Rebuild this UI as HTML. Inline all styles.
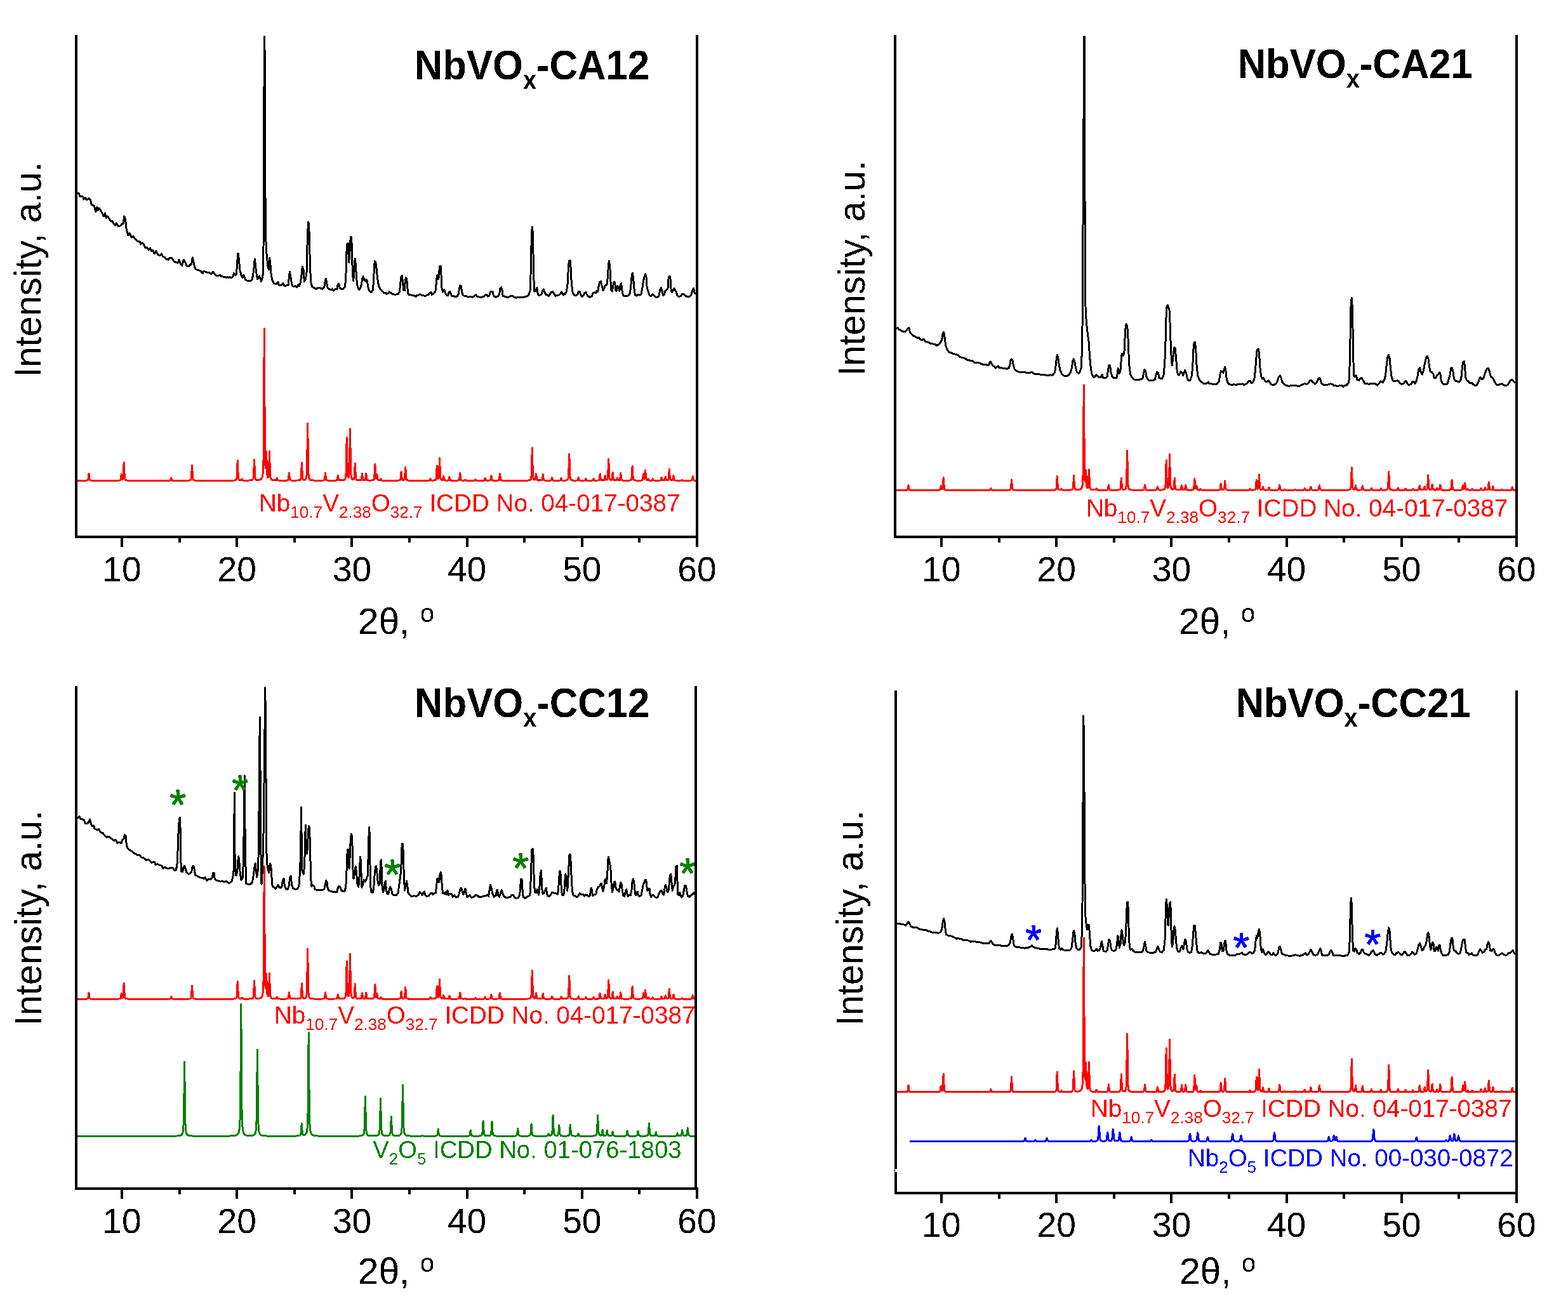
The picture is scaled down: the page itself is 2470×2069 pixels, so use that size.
<!DOCTYPE html>
<html lang="en"><head><meta charset="utf-8"><title>XRD patterns of NbVOx samples</title>
<style>html,body{margin:0;padding:0;background:#fff}svg{display:block}</style></head>
<body>
<svg width="2470" height="2069" viewBox="0 0 2470 2069" font-family="'Liberation Sans', sans-serif" fill="#000">
<defs><filter id="bin" x="0" y="0" width="100%" height="100%" filterUnits="userSpaceOnUse" primitiveUnits="userSpaceOnUse" color-interpolation-filters="sRGB"><feComponentTransfer><feFuncA type="discrete" tableValues="0 0 1 1"/></feComponentTransfer></filter></defs>
<rect width="2470" height="2069" fill="#fff"/>
<clipPath id="c1"><rect x="118" y="56.5" width="982" height="789"/></clipPath>
<g clip-path="url(#c1)" shape-rendering="crispEdges">
<polyline points="120.0,304.7 121.7,304.7 124.2,304.7 125.8,309.2 130.8,310.0 131.7,314.2 134.2,311.3 135.8,314.2 138.3,314.2 140.0,312.5 142.5,315.0 144.2,322.5 148.3,324.2 150.8,333.3 153.0,326.3 154.2,331.7 156.3,328.3 159.2,332.5 161.7,337.5 163.3,340.8 165.5,335.8 167.5,343.3 169.7,340.8 171.7,344.2 174.2,348.3 176.7,348.3 179.2,352.5 181.7,355.0 183.3,351.7 186.7,356.7 190.0,355.8 191.7,353.3 194.2,352.5 195.8,340.8 197.5,345.0 199.2,361.7 201.7,370.8 204.2,367.5 207.5,374.2 210.0,372.5 213.3,376.7 217.5,380.8 220.0,380.0 221.7,385.0 224.2,382.5 226.7,385.8 229.2,390.8 231.7,390.0 234.2,393.3 236.7,390.8 238.3,395.8 240.8,394.2 243.3,400.0 245.8,395.8 249.2,401.7 251.7,402.5 254.2,400.0 256.7,404.2 259.2,405.0 261.7,408.3 265.0,409.2 266.7,406.7 270.8,406.7 273.3,410.8 276.7,413.3 280.0,414.2 282.2,409.2 284.2,415.8 286.7,418.3 289.2,409.2 291.7,413.3 294.2,419.2 297.5,420.0 300.0,416.7 301.7,415.8 303.3,405.8 305.3,415.0 307.5,423.3 310.0,425.0 313.3,425.8 316.7,427.5 319.2,430.8 320.8,427.5 324.2,428.3 326.7,430.0 329.2,429.2 332.5,431.7 335.8,428.3 338.3,432.5 342.5,435.0 346.7,433.3 348.3,435.8 354.2,436.3 355.8,437.5 358.3,436.7 360.0,437.5 361.7,436.3 364.2,438.0 367.5,435.0 368.3,430.8 370.8,433.3 372.5,431.7 373.8,411.7 375.0,399.2 376.3,408.3 377.8,425.0 380.0,433.3 382.0,437.5 383.8,433.3 386.7,440.8 390.0,442.5 394.2,443.0 397.5,440.0 399.7,425.0 401.3,408.0 402.8,421.7 404.5,435.0 405.8,440.0 408.3,435.0 410.0,438.3 411.3,443.3 413.3,438.3 414.5,430.0 415.2,373.0 415.8,205.0 416.3,50.0 416.7,50.0 417.3,106.0 417.7,250.0 418.3,373.0 419.2,383.3 420.0,400.0 421.7,418.3 423.3,425.0 424.7,406.7 425.8,415.0 427.2,433.3 429.2,442.5 431.7,446.7 435.0,447.5 438.0,444.2 439.2,449.2 442.5,449.7 445.8,446.7 448.3,450.8 450.8,450.0 454.2,449.2 455.3,436.7 456.3,428.3 458.0,436.7 459.7,448.3 461.7,451.3 465.0,450.8 467.5,452.5 470.0,448.3 471.3,450.8 473.3,445.0 475.0,433.3 476.3,420.0 478.0,425.0 479.3,443.3 481.3,440.0 483.0,430.0 483.8,391.7 484.7,366.7 485.5,350.0 486.7,353.3 487.5,383.3 488.7,425.0 489.7,445.0 491.7,451.7 494.2,453.3 498.3,455.3 502.0,453.3 505.0,454.2 508.3,455.3 510.8,452.5 512.2,443.3 513.5,439.2 515.0,448.3 516.3,454.2 519.2,455.8 521.7,457.0 523.3,455.0 525.3,458.0 528.3,455.0 530.8,455.8 532.0,449.2 533.7,447.0 535.3,453.3 537.5,455.3 540.8,455.0 543.3,452.5 544.7,440.0 545.7,408.3 546.3,385.0 548.0,383.3 548.8,396.7 549.7,413.3 550.8,400.0 551.7,381.7 552.5,373.3 553.8,375.0 554.7,408.3 555.5,433.3 556.7,442.5 557.7,430.0 558.5,415.0 559.3,407.5 560.3,416.7 561.3,433.3 562.5,448.3 564.2,454.2 565.8,456.7 568.0,453.3 569.7,446.7 570.8,438.3 572.2,435.8 573.8,440.8 575.5,443.3 577.0,440.0 578.3,442.5 579.7,451.7 581.3,457.5 583.0,460.0 585.0,460.3 587.0,457.5 588.3,446.7 589.3,425.0 590.2,411.7 591.7,412.5 593.0,423.3 594.2,435.0 595.8,446.7 597.5,453.3 600.0,456.7 602.5,459.2 605.0,462.0 607.5,461.3 609.2,463.3 611.7,461.7 613.3,459.7 615.8,461.7 618.3,463.7 622.5,464.2 626.7,463.7 629.2,460.0 630.5,450.0 631.7,436.7 633.3,434.2 634.7,446.7 635.8,457.5 637.2,458.0 638.0,446.7 639.2,437.5 640.8,440.0 641.7,451.7 642.8,462.5 644.2,465.0 646.7,464.2 649.2,465.8 652.5,465.8 655.0,467.5 656.7,465.0 659.2,465.0 661.7,463.7 664.2,465.3 667.5,465.8 670.0,466.7 672.5,465.0 675.0,464.2 676.7,461.7 679.2,460.3 680.3,464.2 682.5,463.3 684.2,460.8 685.8,460.0 687.2,446.7 688.3,435.0 689.5,433.3 690.8,440.0 692.0,426.7 693.0,419.2 694.2,420.0 695.0,433.3 695.8,453.3 697.5,460.0 699.7,456.7 701.7,461.7 703.3,465.0 705.8,465.3 707.2,460.8 708.7,459.7 710.3,463.3 711.7,466.3 715.0,466.7 717.5,468.0 720.0,467.0 721.7,465.0 723.3,456.7 724.7,450.0 726.3,450.8 727.5,460.0 729.2,465.0 731.7,466.3 735.0,466.7 737.5,468.3 740.0,467.0 744.2,468.3 747.5,466.3 749.7,464.7 751.7,467.5 755.0,468.0 758.3,468.3 761.7,467.5 764.2,465.0 766.7,464.2 768.7,467.0 770.8,465.8 772.2,460.0 774.2,459.2 776.3,459.7 777.5,466.3 780.8,468.3 785.0,466.7 786.7,463.3 788.0,454.2 789.7,452.5 791.2,458.3 792.2,466.3 795.0,467.2 798.3,468.3 801.7,468.0 804.2,466.7 807.0,466.3 810.0,468.3 813.3,469.2 816.7,468.0 820.0,468.0 824.2,468.3 827.5,467.5 830.8,466.7 833.3,463.3 835.0,458.3 836.0,433.3 836.7,400.0 837.5,366.7 838.3,357.5 839.3,366.7 840.0,400.0 840.8,438.3 842.0,460.0 843.3,456.7 844.5,458.3 845.8,453.3 847.0,461.7 848.3,465.0 850.8,465.0 853.3,463.3 854.7,457.5 856.3,455.8 858.0,460.8 860.0,464.2 862.5,465.0 864.2,466.3 866.3,464.2 868.0,460.3 870.8,459.7 873.0,463.3 874.7,466.3 877.5,465.0 880.0,465.0 882.5,463.3 884.2,460.0 885.8,462.0 887.5,465.0 890.0,463.3 892.5,459.2 894.2,446.7 895.3,423.3 896.3,411.7 898.0,410.3 899.2,423.3 900.3,446.7 902.0,460.0 904.2,465.0 906.7,465.8 909.7,464.2 911.3,459.7 913.0,459.2 914.7,464.2 916.7,467.5 919.2,465.8 920.8,461.7 923.0,460.8 925.0,465.0 926.7,467.5 929.2,468.3 932.5,466.7 934.2,461.3 936.7,460.8 938.3,461.7 940.0,458.3 941.7,459.2 943.3,450.0 944.7,444.2 946.3,443.3 948.0,450.0 950.0,458.0 952.0,453.3 953.3,450.0 955.8,449.2 957.5,436.7 958.3,418.3 959.5,411.3 960.8,420.0 961.7,440.0 963.0,457.5 964.3,459.2 965.8,450.0 967.2,444.2 968.7,445.0 969.7,457.5 971.3,458.3 972.8,450.8 974.5,453.3 975.8,458.3 977.2,448.3 978.7,446.7 979.7,456.7 981.3,464.2 983.3,466.7 986.7,466.3 990.0,465.8 992.5,461.7 994.2,446.7 995.3,433.3 996.3,430.3 997.7,438.3 998.8,453.3 1000.3,464.2 1002.5,466.3 1005.0,464.2 1007.5,465.3 1010.0,463.3 1012.0,453.3 1013.7,441.7 1015.3,435.0 1016.7,432.0 1018.0,436.7 1019.2,453.3 1021.3,460.0 1023.3,465.8 1025.8,466.3 1028.0,463.0 1030.0,465.8 1033.0,468.0 1035.8,468.0 1038.0,466.3 1039.7,457.5 1041.3,453.3 1043.0,458.3 1044.7,465.3 1046.7,463.3 1048.0,458.0 1050.0,456.7 1052.0,454.2 1053.0,440.0 1054.3,435.3 1055.8,435.8 1056.7,453.3 1058.3,460.8 1060.3,457.5 1062.0,454.2 1063.7,458.0 1065.3,460.0 1067.0,465.8 1069.2,467.5 1072.5,466.7 1074.2,463.7 1076.7,463.7 1079.2,465.8 1082.5,467.5 1085.8,467.5 1088.7,465.0 1090.8,457.5 1092.5,454.2 1094.2,461.7 1096.7,463.3 1098.0,463.3" fill="none" stroke="#000" stroke-width="3" stroke-linejoin="round" />
<polyline points="120.0,757.3 133.4,757.2 135.2,757.2 136.3,757.1 136.7,757.1 137.0,757.0 137.4,756.9 137.8,756.8 138.1,756.6 138.5,756.2 138.8,755.3 139.2,753.3 139.6,749.7 139.9,746.6 140.0,746.5 140.3,748.3 140.7,752.2 141.0,754.8 141.4,756.0 141.7,756.5 142.1,756.8 142.5,756.9 142.8,757.0 143.2,757.1 143.9,757.1 145.0,757.2 147.2,757.2 184.5,757.2 186.3,757.1 187.4,757.0 187.8,757.0 188.1,756.9 188.5,756.9 188.9,756.8 189.2,756.6 189.6,756.4 189.9,755.9 190.3,754.6 190.7,752.2 191.0,748.8 191.3,747.7 191.4,747.9 191.8,750.8 192.1,753.6 192.5,755.0 192.8,755.4 193.2,755.3 193.6,754.7 193.9,753.3 194.3,749.7 194.7,742.3 195.0,732.2 195.3,728.9 195.4,729.7 195.7,738.8 196.1,747.7 196.5,752.6 196.8,754.7 197.2,755.6 197.6,756.0 197.9,756.3 198.3,756.5 198.6,756.7 199.0,756.8 199.4,756.9 199.7,756.9 200.1,757.0 200.8,757.1 201.5,757.1 202.6,757.2 204.8,757.2 210.2,757.3 266.4,757.2 267.1,757.2 267.5,757.1 267.9,757.0 268.2,756.9 268.6,756.5 268.9,755.7 269.3,754.3 269.7,753.1 269.7,753.1 270.0,753.8 270.4,755.3 270.8,756.3 271.1,756.8 271.5,757.0 271.8,757.1 272.2,757.1 272.9,757.2 274.7,757.3 295.0,757.2 296.5,757.1 297.6,757.1 298.3,757.0 298.7,756.9 299.0,756.8 299.4,756.7 299.8,756.6 300.1,756.4 300.5,756.1 300.8,755.5 301.2,754.2 301.6,751.2 301.9,744.9 302.3,736.4 302.5,733.6 302.6,734.3 303.0,741.9 303.4,749.4 303.7,753.4 304.1,755.2 304.5,755.9 304.8,756.3 305.2,756.5 305.5,756.7 305.9,756.8 306.3,756.9 306.6,757.0 307.0,757.0 307.7,757.1 308.8,757.2 310.6,757.2 315.0,757.3 363.2,757.2 366.1,757.2 367.5,757.1 368.6,757.0 369.3,757.0 369.7,756.9 370.1,756.8 370.4,756.8 370.8,756.7 371.1,756.5 371.5,756.3 371.9,756.0 372.2,755.6 372.6,754.8 373.0,753.2 373.3,749.1 373.7,740.8 374.0,729.6 374.3,725.9 374.4,726.9 374.8,736.9 375.1,746.8 375.5,752.1 375.9,754.4 376.2,755.4 376.6,755.9 376.9,756.2 377.3,756.4 377.7,756.6 378.0,756.7 378.4,756.7 379.1,756.8 379.8,756.8 380.2,756.6 380.6,756.2 380.9,755.5 381.3,754.9 381.4,754.9 381.7,755.2 382.0,756.0 382.4,756.6 382.7,756.8 383.1,757.0 383.5,757.0 384.2,757.1 393.2,757.0 394.3,756.9 395.1,756.9 395.4,756.8 395.8,756.8 396.1,756.7 396.5,756.6 396.9,756.5 397.2,756.4 397.6,756.2 398.0,756.0 398.3,755.6 398.7,755.0 399.0,753.9 399.4,751.2 399.8,744.9 400.1,734.1 400.5,724.8 400.6,724.5 400.9,729.9 401.2,741.5 401.6,749.4 401.9,753.1 402.3,754.6 402.7,755.3 403.0,755.7 403.4,756.0 403.8,756.1 404.1,756.2 404.5,756.3 405.2,756.4 407.4,756.3 407.7,756.3 408.1,756.2 408.5,756.1 408.8,756.0 409.2,755.9 409.6,755.8 409.9,755.7 410.3,755.5 410.6,755.3 411.0,755.0 411.4,754.7 411.7,754.3 412.1,753.8 412.5,753.2 412.8,752.4 413.2,751.3 413.5,749.8 413.9,747.7 414.3,744.3 414.6,738.5 415.0,725.8 415.4,694.9 415.7,631.4 416.1,545.9 416.3,517.9 416.4,524.9 416.8,600.9 417.2,675.8 417.5,716.1 417.9,732.5 418.3,737.7 418.6,736.4 419.0,728.2 419.3,715.5 419.6,711.6 419.7,713.1 420.1,726.7 420.4,739.9 420.8,747.2 421.2,750.3 421.5,751.6 421.9,752.2 422.2,752.3 422.6,752.0 423.0,750.8 423.3,747.3 423.7,738.9 424.1,724.1 424.4,711.4 424.5,711.0 424.8,718.6 425.1,734.8 425.5,745.9 425.9,751.1 426.2,753.2 426.6,754.3 427.0,754.9 427.3,755.3 427.7,755.7 428.0,755.9 428.4,756.1 428.8,756.2 429.1,756.3 429.5,756.4 429.9,756.5 430.2,756.6 430.9,756.6 431.7,756.7 432.8,756.8 434.2,756.8 434.6,756.7 434.9,756.5 435.3,756.1 435.7,755.3 436.0,754.1 436.3,753.7 436.4,753.8 436.7,754.9 437.1,755.9 437.5,756.5 437.8,756.8 438.2,756.9 438.5,756.9 439.3,757.0 440.4,757.1 442.9,757.1 450.9,757.1 451.6,757.0 452.0,757.0 452.3,756.9 452.7,756.8 453.0,756.7 453.4,756.6 453.8,756.3 454.1,755.7 454.5,754.2 454.9,751.1 455.2,746.9 455.5,745.5 455.6,745.8 455.9,749.6 456.3,753.3 456.7,755.3 457.0,756.1 457.4,756.5 457.8,756.7 458.1,756.8 458.5,756.9 458.8,757.0 459.6,757.0 460.7,757.1 468.6,757.0 469.7,757.0 470.4,756.9 470.8,756.9 471.2,756.8 471.5,756.7 471.9,756.6 472.3,756.5 472.6,756.3 473.0,756.1 473.3,755.7 473.7,755.0 474.1,753.5 474.4,750.0 474.8,742.6 475.2,732.8 475.4,729.5 475.5,730.3 475.9,739.1 476.2,747.8 476.6,752.5 477.0,754.4 477.3,755.3 477.7,755.7 478.1,755.9 478.4,756.0 478.8,756.1 479.5,756.1 479.9,756.0 480.2,755.9 480.6,755.8 481.0,755.5 481.3,755.2 481.7,754.8 482.0,754.1 482.4,753.1 482.8,751.5 483.1,748.4 483.5,740.9 483.8,723.6 484.2,693.6 484.6,668.0 484.6,667.2 484.9,682.2 485.3,714.4 485.7,736.3 486.0,746.6 486.4,750.8 486.7,752.8 487.1,753.9 487.5,754.7 487.8,755.2 488.2,755.6 488.6,755.9 488.9,756.1 489.3,756.3 489.6,756.4 490.0,756.5 490.4,756.6 490.7,756.7 491.1,756.7 491.5,756.8 492.2,756.9 492.9,756.9 494.0,757.0 495.4,757.1 498.0,757.1 508.1,757.1 508.9,757.0 509.2,757.0 509.6,756.9 509.9,756.8 510.3,756.7 510.7,756.5 511.0,756.1 511.4,755.1 511.8,752.9 512.1,749.0 512.5,745.6 512.5,745.5 512.8,747.5 513.2,751.7 513.6,754.5 513.9,755.8 514.3,756.4 514.7,756.6 515.0,756.8 515.4,756.9 515.7,757.0 516.5,757.0 517.6,757.1 520.1,757.2 527.3,757.1 528.8,757.0 529.5,757.0 529.9,756.9 530.2,756.8 530.6,756.7 531.0,756.4 531.3,755.7 531.7,754.2 532.0,751.6 532.4,749.4 532.5,749.3 532.8,750.6 533.1,753.4 533.5,755.3 533.9,756.2 534.2,756.5 534.6,756.7 534.9,756.8 535.3,756.8 536.0,756.9 538.6,756.8 539.3,756.8 539.7,756.7 540.0,756.7 540.4,756.6 540.7,756.5 541.1,756.5 541.5,756.4 541.8,756.2 542.2,756.1 542.6,755.8 542.9,755.6 543.3,755.2 543.6,754.7 544.0,753.9 544.4,752.7 544.7,750.3 545.1,744.6 545.5,731.6 545.8,709.1 546.2,689.8 546.2,689.2 546.5,700.3 546.9,724.3 547.3,740.5 547.6,748.0 548.0,750.9 548.4,752.0 548.7,752.3 549.1,752.2 549.4,751.5 549.8,749.8 550.2,745.7 550.5,735.4 550.9,714.1 551.3,685.3 551.5,675.9 551.6,678.3 552.0,704.2 552.3,729.7 552.7,743.6 553.1,749.5 553.4,752.0 553.8,753.3 554.2,754.2 554.5,754.7 554.9,755.1 555.2,755.3 555.6,755.5 556.0,755.6 556.3,755.6 556.7,755.5 557.1,755.3 557.4,754.9 557.8,754.1 558.1,751.9 558.5,746.8 558.9,737.9 559.2,730.4 559.3,730.1 559.6,734.6 560.0,744.2 560.3,750.7 560.7,753.8 561.0,755.0 561.4,755.6 561.8,756.0 562.1,756.2 562.5,756.4 562.9,756.5 563.2,756.6 563.6,756.7 563.9,756.7 564.7,756.8 567.6,756.8 567.9,756.7 568.3,756.6 568.7,756.4 569.0,756.0 569.4,755.1 569.7,753.1 570.1,749.5 570.5,746.5 570.5,746.4 570.8,748.2 571.2,752.0 571.6,754.6 571.9,755.8 572.3,756.3 572.6,756.5 573.0,756.6 573.4,756.6 574.1,756.6 574.4,756.5 574.8,756.4 575.2,756.0 575.5,755.1 575.9,753.0 576.3,749.3 576.6,746.2 576.7,746.1 577.0,748.0 577.3,751.9 577.7,754.6 578.1,755.8 578.4,756.4 578.8,756.6 579.2,756.7 579.5,756.8 579.9,756.9 580.6,757.0 581.7,757.0 585.3,757.0 586.0,756.9 586.4,756.9 586.8,756.8 587.1,756.7 587.5,756.6 587.9,756.5 588.2,756.3 588.6,756.0 588.9,755.5 589.3,754.6 589.7,752.5 590.0,747.5 590.4,738.9 590.8,731.5 590.8,731.3 591.1,735.5 591.5,744.6 591.8,750.7 592.2,753.3 592.6,753.7 592.9,752.4 593.3,749.6 593.7,747.1 593.7,747.0 594.0,748.7 594.4,752.2 594.7,754.6 595.1,755.8 595.5,756.3 595.8,756.5 596.2,756.7 596.6,756.8 596.9,756.8 597.6,756.9 598.4,756.9 598.7,756.8 599.1,756.6 599.5,756.2 599.8,755.4 600.2,754.7 600.2,754.6 600.5,755.1 600.9,756.0 601.3,756.6 601.6,756.9 602.0,757.0 602.4,757.1 603.1,757.1 604.5,757.2 608.5,757.2 625.5,757.2 627.0,757.1 628.1,757.0 628.4,757.0 628.8,756.9 629.2,756.9 629.5,756.8 629.9,756.6 630.3,756.3 630.6,755.9 631.0,754.7 631.3,752.0 631.7,747.3 632.1,743.3 632.1,743.2 632.4,745.5 632.8,750.5 633.2,753.9 633.5,755.4 633.9,756.1 634.2,756.3 634.6,756.5 635.0,756.5 635.7,756.5 636.1,756.4 636.4,756.2 636.8,755.8 637.1,755.1 637.5,753.4 637.9,749.4 638.2,742.5 638.6,736.6 638.7,736.4 639.0,739.9 639.3,747.3 639.7,752.4 640.0,754.8 640.4,755.7 640.8,756.2 641.1,756.5 641.5,756.7 641.9,756.8 642.2,756.9 642.6,756.9 642.9,757.0 643.7,757.1 644.8,757.1 646.2,757.2 649.8,757.2 674.5,757.2 675.6,757.1 675.9,757.1 676.3,757.0 676.6,756.9 677.0,756.5 677.4,755.7 677.7,754.7 678.0,754.4 678.1,754.5 678.5,755.4 678.8,756.2 679.2,756.7 679.5,756.9 679.9,757.0 680.6,757.0 682.8,757.0 683.5,756.9 683.9,756.9 684.3,756.8 684.6,756.7 685.0,756.6 685.3,756.5 685.7,756.3 686.1,756.1 686.4,755.6 686.8,754.8 687.2,752.9 687.5,748.5 687.9,741.0 688.2,734.5 688.3,734.3 688.6,738.0 689.0,745.9 689.3,751.2 689.7,753.6 690.1,754.3 690.4,754.3 690.8,753.7 691.1,752.1 691.5,747.7 691.9,738.5 692.2,726.0 692.5,721.9 692.6,723.0 693.0,734.2 693.3,745.3 693.7,751.3 694.0,753.9 694.4,755.0 694.8,755.6 695.1,755.9 695.5,756.1 695.9,756.3 696.2,756.4 696.6,756.4 696.9,756.3 697.3,756.0 697.7,755.2 698.0,753.4 698.4,751.1 698.6,750.3 698.8,750.5 699.1,752.7 699.5,754.8 699.8,756.0 700.2,756.5 700.6,756.7 700.9,756.8 701.3,756.9 701.7,757.0 702.4,757.0 705.3,757.0 705.6,756.9 706.0,756.8 706.4,756.6 706.7,756.2 707.1,755.1 707.5,753.2 707.8,751.6 707.9,751.5 708.2,752.5 708.5,754.5 708.9,755.9 709.3,756.6 709.6,756.8 710.0,756.9 710.3,757.0 711.1,757.1 712.2,757.2 720.5,757.1 721.2,757.0 721.6,757.0 721.9,756.9 722.3,756.8 722.7,756.7 723.0,756.4 723.4,755.8 723.8,754.2 724.1,751.1 724.5,746.9 724.7,745.6 724.8,745.9 725.2,749.7 725.6,753.4 725.9,755.4 726.3,756.2 726.7,756.6 727.0,756.8 727.4,756.9 727.7,757.0 728.1,757.0 728.8,757.1 730.3,757.2 731.4,757.1 731.7,757.0 732.1,756.8 732.5,756.4 732.8,756.1 732.9,756.0 733.2,756.2 733.5,756.7 733.9,757.0 734.3,757.1 734.6,757.2 735.7,757.2 747.3,757.2 747.7,757.1 748.0,757.0 748.4,756.7 748.8,756.1 749.1,755.6 749.2,755.6 749.5,755.9 749.9,756.5 750.2,756.9 750.6,757.1 750.9,757.2 751.7,757.2 761.4,757.2 761.8,757.1 762.2,757.1 762.5,757.0 762.9,756.8 763.3,756.3 763.6,755.3 764.0,754.0 764.2,753.6 764.3,753.7 764.7,754.9 765.1,756.0 765.4,756.7 765.8,756.9 766.2,757.0 766.5,757.1 767.2,757.2 770.9,757.1 771.2,757.0 771.6,756.9 772.0,756.8 772.3,756.5 772.7,755.9 773.0,754.5 773.4,752.0 773.8,749.8 773.8,749.8 774.1,751.0 774.5,753.7 774.9,755.5 775.2,756.4 775.6,756.7 775.9,756.9 776.3,757.0 776.7,757.1 777.4,757.1 778.5,757.2 783.6,757.1 783.9,757.1 784.3,757.0 784.6,757.0 785.0,756.9 785.4,756.7 785.7,756.5 786.1,755.9 786.5,754.5 786.8,751.7 787.2,747.8 787.4,746.6 787.5,746.9 787.9,750.3 788.3,753.7 788.6,755.5 789.0,756.3 789.4,756.7 789.7,756.8 790.1,756.9 790.4,757.0 790.8,757.1 791.5,757.1 792.6,757.2 795.2,757.2 827.0,757.2 829.2,757.1 830.7,757.1 831.8,757.0 832.5,756.9 832.8,756.9 833.2,756.8 833.6,756.7 833.9,756.6 834.3,756.5 834.7,756.4 835.0,756.2 835.4,755.9 835.7,755.5 836.1,755.0 836.5,754.0 836.8,752.3 837.2,748.0 837.6,738.1 837.9,721.0 838.3,706.4 838.3,705.9 838.6,714.4 839.0,732.8 839.4,745.3 839.7,751.1 840.1,753.5 840.5,754.6 840.8,755.2 841.2,755.6 841.5,755.8 841.9,756.0 842.3,756.0 842.6,756.0 843.0,755.7 843.4,754.9 843.7,753.0 844.1,749.6 844.4,746.7 844.5,746.7 844.8,748.4 845.2,752.1 845.5,754.6 845.9,755.8 846.2,756.3 846.6,756.6 847.0,756.7 847.3,756.8 847.7,756.9 848.4,757.0 849.5,757.0 852.4,756.9 852.8,756.9 853.1,756.8 853.5,756.6 853.9,756.3 854.2,755.5 854.6,753.7 854.9,750.5 855.3,747.8 855.4,747.7 855.7,749.3 856.0,752.7 856.4,755.0 856.8,756.1 857.1,756.6 857.5,756.8 857.8,756.9 858.2,757.0 858.6,757.0 859.3,757.1 860.4,757.2 866.9,757.1 867.3,757.0 867.6,757.0 868.0,756.8 868.4,756.4 868.7,755.6 869.1,754.1 869.4,752.8 869.5,752.8 869.8,753.5 870.2,755.1 870.5,756.2 870.9,756.7 871.3,756.9 871.6,757.0 872.0,757.1 872.7,757.2 874.2,757.2 881.0,757.1 881.8,757.1 882.1,757.0 882.5,756.9 882.9,756.7 883.2,756.3 883.6,755.3 883.9,754.0 884.2,753.5 884.3,753.6 884.7,754.8 885.0,756.0 885.4,756.6 885.8,756.9 886.1,757.0 886.5,757.0 887.6,757.1 890.1,757.0 890.8,757.0 891.5,756.9 891.9,756.8 892.3,756.8 892.6,756.7 893.0,756.6 893.4,756.4 893.7,756.2 894.1,755.9 894.4,755.4 894.8,754.7 895.2,753.2 895.5,749.7 895.9,741.7 896.3,727.8 896.6,715.9 896.7,715.6 897.0,722.5 897.3,737.4 897.7,747.6 898.1,752.3 898.4,754.3 898.8,755.2 899.2,755.7 899.5,756.1 899.9,756.3 900.2,756.5 900.6,756.6 901.0,756.7 901.3,756.8 901.7,756.9 902.4,757.0 903.1,757.0 904.2,757.1 908.9,757.0 909.3,757.0 909.7,756.9 910.0,756.6 910.4,756.0 910.8,754.8 911.1,753.1 911.4,752.5 911.5,752.7 911.8,754.2 912.2,755.7 912.6,756.5 912.9,756.8 913.3,757.0 913.7,757.0 914.4,757.1 915.5,757.2 920.5,757.1 920.9,757.1 921.3,757.0 921.6,756.8 922.0,756.4 922.4,755.5 922.7,754.3 923.0,754.0 923.1,754.1 923.4,755.1 923.8,756.2 924.2,756.7 924.5,757.0 924.9,757.1 925.3,757.1 926.0,757.2 932.9,757.1 933.2,757.0 933.6,756.9 934.0,756.5 934.3,755.7 934.7,754.6 934.9,754.2 935.0,754.3 935.4,755.3 935.8,756.2 936.1,756.7 936.5,757.0 936.8,757.0 937.6,757.1 941.6,757.0 941.9,757.0 942.3,757.0 942.6,756.9 943.0,756.8 943.4,756.6 943.7,756.2 944.1,755.4 944.5,753.4 944.8,749.9 945.2,747.0 945.2,746.9 945.5,748.6 945.9,752.3 946.3,754.8 946.6,756.0 947.0,756.4 947.4,756.6 947.7,756.8 948.1,756.8 948.8,756.9 950.3,756.9 950.6,756.8 951.0,756.7 951.3,756.6 951.7,756.3 952.1,755.7 952.4,754.2 952.8,751.7 953.2,749.5 953.2,749.5 953.5,750.7 953.9,753.3 954.2,755.1 954.6,755.9 955.0,756.1 955.3,756.1 955.7,756.1 956.1,755.9 956.4,755.5 956.8,755.0 957.1,753.8 957.5,751.0 957.9,744.6 958.2,733.3 958.6,723.7 958.7,723.4 959.0,729.0 959.3,741.1 959.7,749.3 960.0,753.1 960.4,754.7 960.8,755.4 961.1,755.8 961.5,756.1 961.9,756.2 962.2,756.3 962.6,756.3 962.9,756.2 963.3,756.1 963.7,755.7 964.0,754.7 964.4,752.3 964.8,748.2 965.1,744.7 965.2,744.5 965.5,746.6 965.8,751.1 966.2,754.2 966.6,755.6 966.9,756.2 967.3,756.5 967.7,756.6 968.0,756.8 968.4,756.8 969.1,756.9 970.2,756.9 970.6,756.8 970.9,756.7 971.3,756.4 971.6,755.7 972.0,754.4 972.4,753.3 972.4,753.3 972.7,753.9 973.1,755.3 973.5,756.2 973.8,756.6 974.2,756.7 974.9,756.7 975.3,756.7 975.6,756.5 976.0,756.3 976.4,755.6 976.7,754.1 977.1,751.0 977.4,746.9 977.7,745.5 977.8,745.8 978.2,749.6 978.5,753.3 978.9,755.3 979.3,756.2 979.6,756.5 980.0,756.7 980.3,756.8 980.7,756.9 981.1,757.0 981.8,757.1 982.9,757.1 990.8,757.1 991.6,757.0 991.9,757.0 992.3,756.9 992.7,756.8 993.0,756.7 993.4,756.6 993.7,756.4 994.1,756.1 994.5,755.5 994.8,754.3 995.2,751.4 995.6,745.3 995.9,737.1 996.2,734.5 996.3,735.1 996.6,742.4 997.0,749.6 997.4,753.5 997.7,755.2 998.1,755.9 998.5,756.3 998.8,756.5 999.2,756.7 999.5,756.8 999.9,756.9 1000.3,756.9 1001.0,757.0 1001.7,757.1 1003.2,757.1 1009.0,757.1 1009.7,757.0 1010.1,757.0 1010.4,756.9 1010.8,756.8 1011.1,756.7 1011.5,756.6 1011.9,756.3 1012.2,755.7 1012.6,754.4 1013.0,751.6 1013.3,747.8 1013.6,746.6 1013.7,746.8 1014.0,750.0 1014.4,753.1 1014.8,754.6 1015.1,754.8 1015.5,753.8 1015.9,751.0 1016.2,745.8 1016.6,741.4 1016.6,741.3 1016.9,743.9 1017.3,749.6 1017.7,753.4 1018.0,755.2 1018.4,756.0 1018.8,756.3 1019.1,756.5 1019.5,756.6 1019.8,756.5 1020.2,756.3 1020.6,755.7 1020.9,754.8 1021.2,754.5 1021.3,754.6 1021.7,755.5 1022.0,756.3 1022.4,756.7 1022.7,756.9 1023.1,757.0 1023.8,757.1 1026.4,757.0 1026.7,757.0 1027.1,756.8 1027.4,756.3 1027.8,755.5 1028.2,754.7 1028.2,754.7 1028.5,755.1 1028.9,756.0 1029.3,756.7 1029.6,756.9 1030.0,757.1 1030.3,757.1 1031.1,757.2 1033.6,757.2 1038.3,757.2 1039.4,757.1 1039.8,757.0 1040.1,756.9 1040.5,756.8 1040.9,756.4 1041.2,755.5 1041.6,753.9 1041.9,752.6 1042.0,752.5 1042.3,753.3 1042.7,755.0 1043.0,756.1 1043.4,756.6 1043.8,756.8 1044.1,756.9 1044.8,757.0 1045.9,756.9 1046.3,756.8 1046.7,756.7 1047.0,756.4 1047.4,755.6 1047.7,754.1 1048.1,752.0 1048.4,751.3 1048.5,751.5 1048.8,753.3 1049.2,755.2 1049.6,756.1 1049.9,756.5 1050.3,756.7 1051.0,756.7 1051.4,756.6 1051.7,756.5 1052.1,756.4 1052.5,756.1 1052.8,755.5 1053.2,754.0 1053.5,750.6 1053.9,744.6 1054.3,739.6 1054.3,739.4 1054.6,742.4 1055.0,748.7 1055.4,753.1 1055.7,755.1 1056.1,755.9 1056.4,756.3 1056.8,756.5 1057.2,756.6 1057.5,756.7 1058.6,756.7 1059.0,756.6 1059.3,756.3 1059.7,755.7 1060.1,754.2 1060.4,751.7 1060.8,749.4 1060.9,749.4 1061.2,750.7 1061.5,753.5 1061.9,755.4 1062.2,756.3 1062.6,756.7 1063.0,756.8 1063.3,756.9 1063.7,757.0 1064.4,757.1 1065.5,757.2 1067.7,757.2 1072.7,757.2 1073.1,757.1 1073.5,756.9 1073.8,756.6 1074.2,756.1 1074.4,756.0 1074.6,756.0 1074.9,756.4 1075.3,756.8 1075.6,757.1 1076.0,757.2 1076.7,757.2 1088.0,757.1 1088.7,757.1 1089.1,757.0 1089.4,756.9 1089.8,756.6 1090.1,756.1 1090.5,754.8 1090.9,752.6 1091.2,750.7 1091.3,750.6 1091.6,751.7 1092.0,754.1 1092.3,755.7 1092.7,756.5 1093.0,756.8 1093.4,757.0 1093.8,757.0 1094.1,757.1 1094.9,757.2 1095.9,757.2 1098.0,757.3" fill="none" stroke="#f00" stroke-width="3" stroke-linejoin="round" />
</g>
<g filter="url(#bin)">
<text transform="translate(407.93,806) scale(1.0249,1.04)" font-size="37.7" fill="#ff0000">Nb<tspan dy="9.6" font-size="25.5">10.7</tspan><tspan dy="-9.6">V</tspan><tspan dy="9.6" font-size="25.5">2.38</tspan><tspan dy="-9.6">O</tspan><tspan dy="9.6" font-size="25.5">32.7</tspan><tspan dy="-9.6"> ICDD No. 04-017-0387</tspan></text>
</g>
<g shape-rendering="crispEdges">
<rect x="118" y="55" width="4" height="793" fill="#000"/>
<rect x="1096" y="55" width="4" height="793" fill="#000"/>
<rect x="118" y="844" width="982" height="4" fill="#000"/>
<rect x="190" y="848" width="4" height="14" fill="#000"/>
<rect x="281" y="848" width="4" height="7" fill="#000"/>
<rect x="371" y="848" width="4" height="14" fill="#000"/>
<rect x="462" y="848" width="4" height="7" fill="#000"/>
<rect x="552" y="848" width="4" height="14" fill="#000"/>
<rect x="643" y="848" width="4" height="7" fill="#000"/>
<rect x="734" y="848" width="4" height="14" fill="#000"/>
<rect x="824" y="848" width="4" height="7" fill="#000"/>
<rect x="915" y="848" width="4" height="14" fill="#000"/>
<rect x="1005" y="848" width="4" height="7" fill="#000"/>
<rect x="1096" y="848" width="4" height="14" fill="#000"/>
</g>
<g filter="url(#bin)">
<text transform="translate(192.0,916.4) scale(0.985,1.005)" font-size="56" text-anchor="middle">10</text>
<text transform="translate(373.2,916.4) scale(0.985,1.005)" font-size="56" text-anchor="middle">20</text>
<text transform="translate(554.4,916.4) scale(0.985,1.005)" font-size="56" text-anchor="middle">30</text>
<text transform="translate(735.6,916.4) scale(0.985,1.005)" font-size="56" text-anchor="middle">40</text>
<text transform="translate(916.8,916.4) scale(0.985,1.005)" font-size="56" text-anchor="middle">50</text>
<text transform="translate(1098.0,916.4) scale(0.985,1.005)" font-size="56" text-anchor="middle">60</text>
<text transform="translate(563.81,998.9) scale(1.0295,1.02)" font-size="57">2θ, <tspan dy="-18.2" font-size="39">o</tspan></text>
<text transform="translate(64.8,594.57) rotate(-90) scale(1.0145,1.045)" font-size="57">Intensity, a.u.</text>
<text transform="translate(652.82,124.8) scale(0.994,1.05)" font-size="62" font-weight="bold">NbVO<tspan dy="14" font-size="38">x</tspan><tspan dy="-14">-CA12</tspan></text>
</g>
<clipPath id="c2"><rect x="1408" y="56.5" width="983" height="789"/></clipPath>
<g clip-path="url(#c2)" shape-rendering="crispEdges">
<polyline points="1410.0,517.5 1411.7,517.5 1414.2,516.7 1415.8,519.2 1418.3,520.0 1420.3,521.7 1423.3,522.5 1425.8,522.5 1428.3,520.0 1430.3,517.2 1432.0,516.7 1433.3,523.3 1435.8,526.7 1439.2,529.2 1442.5,530.8 1445.0,532.5 1447.5,532.0 1450.0,535.0 1452.5,535.8 1455.0,534.2 1457.5,538.3 1461.7,539.2 1465.8,541.3 1470.0,542.0 1473.3,542.5 1475.8,544.7 1479.2,542.5 1481.7,539.2 1483.8,535.0 1485.0,526.7 1486.3,523.3 1487.5,526.7 1488.7,536.7 1490.0,545.0 1492.0,550.8 1494.7,554.7 1498.3,555.8 1501.7,557.5 1505.0,558.3 1508.3,559.2 1511.7,562.0 1515.8,563.8 1520.0,564.2 1523.3,567.2 1527.5,568.0 1531.7,568.7 1535.0,571.3 1539.2,571.3 1542.5,571.7 1545.8,573.8 1549.2,574.2 1552.5,574.2 1555.8,575.8 1558.0,575.0 1559.2,570.8 1560.8,570.0 1562.5,574.2 1564.2,576.7 1566.7,577.5 1568.3,580.0 1570.8,578.0 1572.5,576.7 1574.2,579.7 1577.5,579.7 1580.0,580.8 1583.3,580.5 1585.8,581.3 1589.2,580.0 1590.8,575.0 1592.0,567.5 1593.7,565.8 1595.0,568.3 1596.3,575.8 1598.3,582.0 1601.7,584.7 1605.8,586.3 1610.8,586.7 1615.0,586.7 1618.3,587.5 1621.7,588.0 1625.3,586.3 1628.3,588.7 1631.7,589.7 1636.7,589.7 1640.8,590.8 1645.0,590.8 1649.2,591.3 1651.7,592.0 1654.2,590.3 1656.7,591.3 1659.2,590.0 1661.7,586.7 1663.3,575.0 1664.5,563.3 1665.5,559.2 1667.0,565.0 1668.3,575.0 1670.0,583.3 1672.5,589.2 1675.8,592.0 1680.0,592.5 1683.3,591.3 1686.3,586.7 1688.3,580.0 1690.0,568.3 1691.3,565.8 1692.8,570.0 1694.2,578.3 1696.3,585.8 1698.8,588.7 1700.8,586.7 1703.0,580.0 1704.2,558.3 1705.0,516.7 1705.8,390.0 1707.0,191.0 1707.5,50.0 1708.0,50.0 1708.5,191.0 1709.3,390.0 1710.0,483.3 1711.3,508.3 1713.3,525.0 1715.0,538.3 1716.7,563.3 1718.3,580.0 1720.0,589.2 1722.5,594.2 1725.0,593.7 1727.0,590.0 1729.2,593.0 1731.7,594.7 1734.2,594.7 1736.2,590.0 1737.5,595.0 1741.3,595.8 1744.2,593.3 1745.8,581.7 1747.0,575.3 1748.7,576.3 1750.0,586.7 1752.0,593.3 1755.0,595.8 1758.7,595.8 1760.0,590.0 1761.2,580.8 1762.5,583.3 1763.3,588.7 1765.0,583.3 1766.3,566.7 1767.2,557.0 1768.7,560.8 1770.8,556.7 1772.0,533.3 1773.0,516.7 1774.2,510.3 1775.8,514.2 1777.0,533.3 1778.0,558.3 1779.2,580.0 1780.8,590.0 1783.3,594.7 1786.7,598.0 1790.8,598.0 1794.2,598.7 1796.7,597.5 1799.7,596.7 1801.3,590.0 1802.8,582.5 1804.7,584.2 1805.8,593.3 1808.3,598.0 1810.8,599.7 1815.0,599.7 1819.2,598.3 1820.8,591.7 1822.5,586.3 1824.5,587.5 1825.8,595.0 1828.3,597.0 1830.8,596.7 1833.3,590.0 1835.0,566.7 1836.2,533.3 1837.0,500.0 1838.0,483.3 1839.5,480.8 1840.8,485.0 1842.0,488.3 1843.0,508.3 1844.2,541.7 1845.3,566.7 1846.3,575.8 1847.5,566.7 1848.7,555.0 1850.0,547.5 1851.3,549.2 1852.5,563.3 1853.7,580.0 1855.3,590.0 1857.5,591.3 1860.0,585.8 1862.0,587.5 1863.7,591.7 1865.3,586.7 1866.7,583.3 1868.3,586.7 1870.0,595.0 1871.7,599.2 1875.0,599.2 1877.5,591.7 1878.8,575.0 1880.0,550.0 1881.2,539.2 1882.5,539.2 1883.7,550.0 1885.0,575.0 1886.7,591.7 1889.2,598.3 1892.5,601.7 1895.8,604.2 1899.2,605.0 1901.7,603.3 1903.3,602.0 1905.0,604.7 1909.2,605.0 1913.3,605.8 1917.5,604.7 1920.3,600.8 1922.0,590.0 1923.3,584.7 1925.0,585.8 1926.7,587.5 1928.3,581.7 1929.7,578.3 1930.8,583.3 1932.0,595.0 1933.7,602.5 1936.7,605.8 1940.0,606.3 1944.2,605.8 1946.7,606.7 1950.0,605.3 1954.2,605.3 1957.5,604.7 1959.7,606.7 1962.5,605.3 1965.0,603.3 1967.5,600.0 1969.2,600.0 1970.8,603.3 1973.3,603.0 1975.8,598.3 1977.5,583.3 1978.8,565.0 1980.3,550.8 1982.5,550.0 1983.7,560.0 1985.0,580.0 1986.7,593.3 1988.3,596.7 1990.3,595.8 1992.5,600.0 1995.0,601.7 1998.3,600.0 2000.3,602.5 2002.5,605.8 2005.8,606.7 2010.0,605.0 2012.5,600.0 2014.2,594.2 2016.3,592.0 2018.0,595.0 2019.7,601.7 2022.5,605.0 2025.8,607.5 2030.0,608.3 2035.0,607.5 2040.0,607.5 2044.2,608.3 2048.3,608.0 2052.5,605.3 2055.0,604.7 2058.3,605.3 2060.8,604.2 2063.3,600.0 2065.3,599.2 2067.5,601.7 2071.7,605.0 2074.2,602.5 2076.7,596.7 2078.3,595.3 2080.3,599.2 2081.7,604.2 2085.0,606.7 2089.2,606.7 2093.3,605.8 2095.8,604.7 2098.3,605.3 2100.8,607.5 2105.0,608.0 2109.2,608.0 2113.3,607.5 2115.8,609.2 2118.3,607.5 2121.7,606.7 2124.2,603.3 2125.5,596.7 2126.3,566.7 2127.2,525.0 2128.0,483.3 2129.2,469.2 2130.3,483.3 2131.0,516.7 2131.7,558.3 2132.5,591.7 2134.2,593.7 2136.3,591.7 2138.0,598.3 2140.8,599.2 2143.3,595.8 2145.3,595.8 2147.5,600.0 2150.0,604.2 2153.3,604.2 2156.7,605.8 2159.2,604.2 2163.3,604.2 2166.7,605.0 2169.7,607.0 2172.5,604.2 2174.7,600.8 2176.7,601.7 2178.7,602.5 2180.8,598.3 2182.5,591.7 2184.2,575.0 2185.8,563.3 2187.5,559.2 2189.2,565.0 2190.3,578.3 2192.0,593.3 2194.2,600.0 2197.0,600.8 2200.8,599.7 2203.3,600.8 2205.3,604.2 2208.3,605.3 2211.3,604.2 2213.3,600.8 2215.0,600.8 2217.0,604.2 2219.2,606.3 2222.5,605.8 2225.0,601.7 2227.0,601.7 2229.2,604.2 2231.3,600.0 2233.3,591.7 2234.7,581.7 2236.7,579.7 2238.3,586.7 2240.3,590.0 2242.5,583.3 2244.7,571.7 2246.7,563.0 2248.3,561.3 2250.3,566.7 2251.7,578.3 2253.3,585.8 2255.8,586.7 2258.0,590.0 2259.2,595.8 2261.3,595.8 2263.3,591.7 2265.8,590.0 2267.5,586.7 2268.8,588.3 2270.0,598.3 2271.7,603.3 2274.2,605.3 2277.5,605.3 2280.0,605.0 2282.0,598.3 2284.2,590.0 2285.8,580.0 2287.5,579.7 2289.2,586.7 2290.5,596.7 2292.5,600.0 2295.0,600.8 2297.5,602.0 2300.0,600.8 2301.7,596.7 2303.0,583.3 2304.5,570.8 2306.3,569.2 2307.5,576.7 2308.7,595.0 2310.5,599.2 2313.0,600.8 2315.0,603.3 2318.3,603.3 2320.8,605.8 2323.7,607.5 2326.3,606.7 2328.7,602.5 2330.3,596.7 2332.0,594.2 2334.2,597.5 2336.7,596.7 2338.7,590.0 2340.8,584.2 2343.0,580.3 2345.0,580.8 2346.7,586.7 2348.3,593.3 2350.8,595.0 2353.0,598.3 2355.0,602.5 2357.5,606.3 2360.8,606.3 2363.3,605.3 2366.3,604.7 2368.3,606.7 2371.7,607.5 2375.0,606.7 2377.5,602.5 2379.7,599.2 2381.7,598.3 2384.2,600.8 2386.7,603.0 2389.0,603.0" fill="none" stroke="#000" stroke-width="3" stroke-linejoin="round" />
<polyline points="1410.0,772.3 1425.6,772.2 1427.0,772.2 1427.8,772.1 1428.1,772.1 1428.5,772.0 1428.8,771.9 1429.2,771.8 1429.6,771.5 1429.9,770.7 1430.3,769.0 1430.7,766.4 1431.0,764.8 1431.0,764.8 1431.4,766.7 1431.7,769.3 1432.1,770.8 1432.5,771.5 1432.8,771.8 1433.2,772.0 1433.6,772.0 1433.9,772.1 1434.6,772.2 1435.7,772.2 1439.0,772.3 1476.0,772.2 1477.8,772.2 1478.9,772.1 1479.2,772.0 1479.6,772.0 1479.9,771.9 1480.3,771.8 1480.7,771.6 1481.0,771.2 1481.4,770.1 1481.8,768.2 1482.1,766.0 1482.3,765.7 1482.5,766.2 1482.8,768.3 1483.2,770.0 1483.6,770.8 1483.9,771.0 1484.3,770.8 1484.7,770.4 1485.0,769.1 1485.4,766.1 1485.7,760.3 1486.1,753.7 1486.3,752.7 1486.5,754.3 1486.8,761.2 1487.2,766.7 1487.6,769.5 1487.9,770.7 1488.3,771.2 1488.6,771.5 1489.0,771.7 1489.4,771.8 1489.7,771.9 1490.1,772.0 1490.5,772.0 1491.2,772.1 1492.3,772.2 1494.1,772.2 1498.4,772.3 1558.2,772.2 1558.6,772.2 1558.9,772.1 1559.3,772.0 1559.7,771.7 1560.0,771.0 1560.4,770.0 1560.7,769.4 1560.8,769.4 1561.1,770.1 1561.5,771.1 1561.8,771.7 1562.2,772.0 1562.6,772.1 1562.9,772.2 1563.7,772.2 1565.8,772.3 1586.9,772.2 1588.3,772.2 1589.4,772.1 1589.8,772.0 1590.1,772.0 1590.5,771.9 1590.8,771.8 1591.2,771.6 1591.6,771.4 1591.9,770.9 1592.3,769.8 1592.6,767.2 1593.0,762.3 1593.4,756.8 1593.5,755.9 1593.7,757.3 1594.1,763.1 1594.5,767.7 1594.8,770.0 1595.2,771.0 1595.5,771.4 1595.9,771.6 1596.3,771.8 1596.6,771.9 1597.0,772.0 1597.4,772.0 1598.1,772.1 1599.2,772.2 1601.0,772.2 1607.5,772.3 1655.3,772.2 1658.2,772.2 1659.7,772.1 1660.4,772.1 1661.1,772.0 1661.5,771.9 1661.9,771.8 1662.2,771.7 1662.6,771.6 1663.0,771.4 1663.3,771.0 1663.7,770.4 1664.0,769.0 1664.4,765.6 1664.8,759.1 1665.1,751.7 1665.3,750.6 1665.5,752.5 1665.9,760.1 1666.2,766.2 1666.6,769.2 1666.9,770.5 1667.3,771.1 1667.7,771.4 1668.0,771.6 1668.4,771.7 1668.8,771.8 1669.1,771.9 1669.8,772.0 1670.9,771.9 1671.3,771.8 1671.7,771.4 1672.0,770.9 1672.4,770.6 1672.4,770.6 1672.7,771.0 1673.1,771.5 1673.5,771.9 1673.8,772.0 1674.2,772.1 1674.9,772.1 1685.1,772.1 1686.1,772.0 1686.9,771.9 1687.2,771.9 1687.6,771.8 1688.0,771.8 1688.3,771.7 1688.7,771.5 1689.0,771.3 1689.4,771.1 1689.8,770.6 1690.1,769.6 1690.5,767.3 1690.9,762.2 1691.2,754.3 1691.6,749.6 1691.6,749.7 1691.9,755.3 1692.3,763.0 1692.7,767.7 1693.0,769.7 1693.4,770.6 1693.8,771.0 1694.1,771.2 1694.5,771.4 1694.8,771.5 1695.2,771.6 1695.9,771.7 1698.5,771.6 1699.2,771.5 1699.6,771.5 1699.9,771.4 1700.3,771.3 1700.6,771.2 1701.0,771.1 1701.4,771.0 1701.7,770.9 1702.1,770.7 1702.5,770.5 1702.8,770.2 1703.2,769.8 1703.5,769.4 1703.9,768.8 1704.3,768.0 1704.6,766.8 1705.0,765.2 1705.4,762.6 1705.7,757.8 1706.1,746.9 1706.4,720.9 1706.8,671.3 1707.2,615.5 1707.3,606.9 1707.5,620.7 1707.9,678.5 1708.3,724.7 1708.6,747.7 1709.0,756.5 1709.3,758.9 1709.7,757.0 1710.1,750.2 1710.4,741.8 1710.6,740.7 1710.8,743.4 1711.2,753.7 1711.5,761.8 1711.9,766.0 1712.2,767.7 1712.6,768.5 1713.0,768.8 1713.3,768.9 1713.7,768.5 1714.1,767.4 1714.4,764.4 1714.8,757.5 1715.1,746.6 1715.5,740.3 1715.5,740.4 1715.9,748.3 1716.2,759.0 1716.6,765.6 1717.0,768.5 1717.3,769.7 1717.7,770.3 1718.0,770.7 1718.4,771.0 1718.8,771.2 1719.1,771.4 1719.5,771.5 1719.9,771.6 1720.2,771.6 1720.6,771.7 1720.9,771.8 1721.7,771.8 1722.4,771.9 1723.5,771.9 1725.3,771.9 1725.7,771.9 1726.0,771.7 1726.4,771.4 1726.7,770.7 1727.1,769.9 1727.3,769.8 1727.5,770.0 1727.8,770.8 1728.2,771.5 1728.5,771.8 1728.9,771.9 1729.3,772.0 1730.0,772.1 1731.4,772.1 1736.9,772.2 1742.0,772.1 1743.0,772.1 1743.4,772.0 1743.8,772.0 1744.1,771.9 1744.5,771.8 1744.9,771.5 1745.2,771.0 1745.6,769.7 1745.9,767.3 1746.3,764.6 1746.5,764.1 1746.7,764.8 1747.0,767.7 1747.4,770.0 1747.8,771.1 1748.1,771.6 1748.5,771.8 1748.8,771.9 1749.2,772.0 1749.6,772.0 1750.3,772.1 1751.7,772.2 1760.1,772.1 1761.2,772.0 1762.3,771.9 1762.6,771.9 1763.0,771.8 1763.3,771.7 1763.7,771.6 1764.1,771.4 1764.4,771.1 1764.8,770.5 1765.2,769.3 1765.5,766.3 1765.9,760.5 1766.2,754.1 1766.4,753.1 1766.6,754.7 1767.0,761.4 1767.3,766.7 1767.7,769.4 1768.1,770.5 1768.4,771.0 1768.8,771.2 1769.1,771.4 1769.5,771.4 1770.6,771.5 1771.0,771.4 1771.3,771.3 1771.7,771.2 1772.0,771.0 1772.4,770.8 1772.8,770.5 1773.1,770.0 1773.5,769.2 1773.8,767.9 1774.2,765.3 1774.6,758.9 1774.9,744.8 1775.3,722.8 1775.6,710.1 1775.7,710.1 1776.0,725.8 1776.4,747.2 1776.7,760.1 1777.1,765.8 1777.5,768.2 1777.8,769.4 1778.2,770.1 1778.6,770.6 1778.9,770.9 1779.3,771.2 1779.6,771.4 1780.0,771.5 1780.4,771.6 1780.7,771.7 1781.1,771.8 1781.5,771.8 1781.8,771.9 1782.5,772.0 1783.3,772.0 1784.4,772.1 1785.8,772.1 1788.7,772.2 1799.6,772.1 1800.3,772.1 1800.7,772.0 1801.0,772.0 1801.4,771.9 1801.8,771.7 1802.1,771.4 1802.5,770.5 1802.8,768.7 1803.2,765.8 1803.5,764.2 1803.6,764.2 1803.9,766.2 1804.3,769.0 1804.7,770.7 1805.0,771.4 1805.4,771.7 1805.7,771.9 1806.1,772.0 1806.5,772.0 1807.2,772.1 1808.3,772.2 1812.3,772.2 1818.8,772.2 1820.2,772.1 1821.0,772.0 1821.3,771.9 1821.7,771.8 1822.0,771.6 1822.4,771.0 1822.8,769.8 1823.1,767.9 1823.5,766.8 1823.5,766.8 1823.9,768.2 1824.2,770.0 1824.6,771.1 1824.9,771.6 1825.3,771.8 1825.7,771.9 1826.0,772.0 1826.8,772.0 1830.0,772.0 1830.7,771.9 1831.5,771.8 1831.8,771.8 1832.2,771.7 1832.6,771.6 1832.9,771.5 1833.3,771.4 1833.6,771.3 1834.0,771.0 1834.4,770.8 1834.7,770.4 1835.1,769.8 1835.5,768.8 1835.8,766.8 1836.2,762.0 1836.5,751.4 1836.9,734.9 1837.2,725.3 1837.3,725.3 1837.6,736.9 1838.0,752.9 1838.4,762.4 1838.7,766.5 1839.1,768.1 1839.4,768.7 1839.8,768.9 1840.2,768.7 1840.5,768.1 1840.9,766.6 1841.3,763.1 1841.6,754.4 1842.0,737.7 1842.3,718.9 1842.5,716.0 1842.7,720.8 1843.1,740.5 1843.4,756.2 1843.8,764.2 1844.2,767.4 1844.5,768.9 1844.9,769.7 1845.2,770.2 1845.6,770.6 1846.0,770.8 1846.3,771.0 1846.7,771.1 1847.4,771.1 1847.8,771.0 1848.1,770.9 1848.5,770.6 1848.9,769.8 1849.2,767.9 1849.6,763.8 1850.0,757.3 1850.3,753.5 1850.3,753.6 1850.7,758.2 1851.0,764.6 1851.4,768.4 1851.8,770.1 1852.1,770.9 1852.5,771.2 1852.9,771.4 1853.2,771.6 1853.6,771.7 1853.9,771.8 1854.3,771.8 1855.0,771.9 1856.1,772.0 1858.7,771.9 1859.0,771.9 1859.4,771.8 1859.7,771.6 1860.1,771.3 1860.5,770.6 1860.8,768.9 1861.2,766.3 1861.5,764.8 1861.6,764.8 1861.9,766.6 1862.3,769.2 1862.6,770.7 1863.0,771.4 1863.4,771.6 1863.7,771.8 1864.1,771.8 1865.2,771.8 1865.5,771.7 1865.9,771.6 1866.3,771.3 1866.6,770.5 1867.0,768.8 1867.3,766.1 1867.7,764.6 1867.7,764.6 1868.1,766.5 1868.4,769.1 1868.8,770.7 1869.2,771.4 1869.5,771.7 1869.9,771.8 1870.2,771.9 1870.6,772.0 1871.3,772.1 1872.8,772.1 1876.8,772.1 1877.5,772.0 1877.9,771.9 1878.2,771.9 1878.6,771.8 1878.9,771.7 1879.3,771.6 1879.7,771.3 1880.0,771.0 1880.4,770.2 1880.8,768.4 1881.1,764.3 1881.5,758.0 1881.8,754.3 1881.8,754.3 1882.2,758.8 1882.6,764.8 1882.9,768.3 1883.3,769.7 1883.7,769.7 1884.0,768.5 1884.4,766.4 1884.7,765.2 1884.7,765.2 1885.1,767.0 1885.5,769.3 1885.8,770.7 1886.2,771.4 1886.6,771.6 1886.9,771.8 1887.3,771.9 1887.6,771.9 1888.4,772.0 1889.5,772.0 1889.8,772.0 1890.2,771.8 1890.5,771.4 1890.9,770.8 1891.2,770.5 1891.3,770.5 1891.6,770.9 1892.0,771.5 1892.4,771.9 1892.7,772.0 1893.1,772.1 1893.8,772.2 1895.6,772.2 1918.4,772.2 1919.5,772.1 1919.9,772.0 1920.3,772.0 1920.6,771.9 1921.0,771.8 1921.3,771.6 1921.7,771.2 1922.1,770.2 1922.4,768.0 1922.8,764.5 1923.1,762.5 1923.2,762.6 1923.5,765.0 1923.9,768.3 1924.2,770.3 1924.6,771.2 1925.0,771.5 1925.3,771.7 1925.7,771.7 1926.8,771.7 1927.1,771.6 1927.5,771.5 1927.9,771.2 1928.2,770.6 1928.6,769.1 1929.0,765.9 1929.3,760.8 1929.7,757.9 1929.7,757.9 1930.0,761.5 1930.4,766.5 1930.8,769.4 1931.1,770.8 1931.5,771.3 1931.9,771.6 1932.2,771.8 1932.6,771.9 1932.9,772.0 1933.3,772.0 1934.0,772.1 1935.1,772.2 1936.9,772.2 1943.1,772.3 1965.6,772.2 1967.0,772.1 1967.4,772.1 1967.7,771.9 1968.1,771.6 1968.5,771.1 1968.8,770.4 1969.0,770.3 1969.2,770.5 1969.5,771.1 1969.9,771.7 1970.3,771.9 1970.6,772.1 1971.4,772.1 1974.3,772.1 1975.0,772.0 1975.3,772.0 1975.7,771.9 1976.1,771.8 1976.4,771.7 1976.8,771.6 1977.2,771.4 1977.5,771.1 1977.9,770.4 1978.2,768.7 1978.6,765.2 1979.0,759.6 1979.3,756.4 1979.3,756.4 1979.7,760.3 1980.1,765.5 1980.4,768.6 1980.8,769.9 1981.1,770.3 1981.5,770.2 1981.9,769.7 1982.2,768.2 1982.6,764.5 1983.0,757.2 1983.3,749.1 1983.5,747.9 1983.7,749.9 1984.0,758.5 1984.4,765.3 1984.8,768.8 1985.1,770.2 1985.5,770.8 1985.9,771.2 1986.2,771.4 1986.6,771.5 1986.9,771.6 1987.7,771.6 1988.0,771.6 1988.4,771.3 1988.8,770.6 1989.1,769.2 1989.5,767.7 1989.6,767.5 1989.8,767.9 1990.2,769.5 1990.6,770.8 1990.9,771.5 1991.3,771.8 1991.7,771.9 1992.0,772.0 1992.7,772.1 1993.8,772.1 1996.7,772.0 1997.1,772.0 1997.5,771.8 1997.8,771.4 1998.2,770.5 1998.5,769.1 1998.9,768.3 1998.9,768.3 1999.3,769.3 1999.6,770.7 2000.0,771.5 2000.3,771.8 2000.7,772.0 2001.1,772.1 2001.8,772.2 2002.9,772.2 2011.9,772.1 2012.7,772.1 2013.0,772.0 2013.4,771.9 2013.8,771.8 2014.1,771.6 2014.5,771.1 2014.8,769.8 2015.2,767.4 2015.6,764.6 2015.7,764.2 2015.9,764.9 2016.3,767.7 2016.7,770.0 2017.0,771.2 2017.4,771.6 2017.7,771.8 2018.1,772.0 2018.5,772.0 2018.8,772.1 2019.6,772.1 2021.4,772.2 2022.5,772.2 2022.8,772.1 2023.2,771.9 2023.5,771.6 2023.9,771.4 2023.9,771.4 2024.3,771.6 2024.6,771.9 2025.0,772.1 2025.4,772.2 2026.1,772.2 2038.8,772.2 2039.1,772.0 2039.5,771.8 2039.9,771.4 2040.2,771.1 2040.2,771.1 2040.6,771.4 2040.9,771.8 2041.3,772.1 2041.7,772.2 2042.4,772.2 2052.9,772.2 2053.3,772.1 2053.6,772.1 2054.0,771.9 2054.3,771.5 2054.7,770.7 2055.1,769.9 2055.2,769.7 2055.4,769.9 2055.8,770.8 2056.2,771.6 2056.5,771.9 2056.9,772.1 2057.2,772.1 2058.0,772.2 2062.0,772.1 2062.3,772.1 2062.7,772.0 2063.0,771.9 2063.4,771.7 2063.8,771.2 2064.1,770.0 2064.5,768.2 2064.8,767.1 2064.9,767.1 2065.2,768.4 2065.6,770.2 2065.9,771.3 2066.3,771.7 2066.7,771.9 2067.0,772.0 2067.4,772.1 2068.1,772.2 2069.6,772.2 2074.6,772.2 2075.4,772.1 2075.7,772.1 2076.1,772.0 2076.5,771.9 2076.8,771.7 2077.2,771.2 2077.5,770.0 2077.9,767.8 2078.3,765.3 2078.4,764.9 2078.6,765.5 2079.0,768.1 2079.4,770.2 2079.7,771.3 2080.1,771.7 2080.4,771.9 2080.8,772.0 2081.2,772.1 2081.9,772.1 2083.0,772.2 2085.9,772.3 2119.2,772.2 2121.4,772.2 2122.8,772.1 2123.6,772.0 2124.3,772.0 2124.7,771.9 2125.0,771.8 2125.4,771.7 2125.7,771.6 2126.1,771.5 2126.5,771.3 2126.8,771.0 2127.2,770.6 2127.6,769.8 2127.9,768.3 2128.3,764.7 2128.6,756.6 2129.0,744.1 2129.3,736.8 2129.4,736.8 2129.7,745.8 2130.1,757.9 2130.5,765.3 2130.8,768.6 2131.2,769.9 2131.5,770.5 2131.9,770.9 2132.3,771.2 2132.6,771.3 2133.0,771.4 2133.4,771.4 2133.7,771.4 2134.1,771.1 2134.4,770.4 2134.8,768.9 2135.2,766.4 2135.5,764.9 2135.5,765.0 2135.9,766.8 2136.2,769.2 2136.6,770.7 2137.0,771.4 2137.3,771.7 2137.7,771.8 2138.1,771.9 2138.4,772.0 2139.1,772.1 2140.2,772.1 2143.5,772.0 2143.9,772.0 2144.2,771.9 2144.6,771.8 2144.9,771.5 2145.3,770.8 2145.7,769.3 2146.0,767.0 2146.4,765.7 2146.4,765.7 2146.8,767.3 2147.1,769.6 2147.5,771.0 2147.8,771.6 2148.2,771.8 2148.6,772.0 2148.9,772.0 2149.3,772.1 2150.0,772.1 2151.5,772.2 2158.4,772.1 2158.7,772.1 2159.1,771.9 2159.4,771.6 2159.8,770.9 2160.2,769.8 2160.5,769.2 2160.5,769.2 2160.9,769.9 2161.3,771.0 2161.6,771.7 2162.0,771.9 2162.3,772.1 2162.7,772.1 2163.4,772.2 2165.6,772.2 2172.5,772.2 2173.2,772.1 2173.6,772.0 2173.9,771.9 2174.3,771.5 2174.7,770.7 2175.0,769.8 2175.2,769.7 2175.4,769.9 2175.8,770.8 2176.1,771.5 2176.5,771.9 2176.8,772.0 2177.2,772.1 2177.9,772.1 2181.9,772.1 2182.6,772.0 2183.0,772.0 2183.4,771.9 2183.7,771.9 2184.1,771.8 2184.4,771.6 2184.8,771.5 2185.2,771.3 2185.5,770.9 2185.9,770.3 2186.3,769.1 2186.6,766.1 2187.0,759.6 2187.3,749.4 2187.7,743.5 2187.7,743.5 2188.1,750.8 2188.4,760.7 2188.8,766.7 2189.2,769.3 2189.5,770.4 2189.9,771.0 2190.2,771.3 2190.6,771.5 2191.0,771.7 2191.3,771.8 2191.7,771.9 2192.1,771.9 2192.4,772.0 2193.1,772.1 2194.2,772.1 2196.0,772.2 2200.0,772.1 2200.4,772.1 2200.8,772.0 2201.1,771.8 2201.5,771.3 2201.8,770.3 2202.2,769.2 2202.4,769.0 2202.6,769.3 2202.9,770.4 2203.3,771.3 2203.7,771.8 2204.0,772.0 2204.4,772.1 2205.1,772.2 2206.6,772.2 2212.0,772.1 2212.4,772.1 2212.7,771.9 2213.1,771.6 2213.4,770.9 2213.8,770.1 2214.0,770.0 2214.2,770.2 2214.5,771.0 2214.9,771.6 2215.3,772.0 2215.6,772.1 2216.0,772.1 2216.7,772.2 2224.0,772.1 2224.3,772.1 2224.7,771.9 2225.0,771.6 2225.4,771.0 2225.8,770.3 2225.9,770.2 2226.1,770.4 2226.5,771.1 2226.8,771.7 2227.2,772.0 2227.6,772.1 2227.9,772.1 2229.0,772.2 2232.6,772.1 2233.4,772.0 2233.7,772.0 2234.1,771.9 2234.5,771.8 2234.8,771.4 2235.2,770.7 2235.5,769.1 2235.9,766.6 2236.2,765.1 2236.3,765.1 2236.6,766.9 2237.0,769.4 2237.4,770.8 2237.7,771.5 2238.1,771.7 2238.4,771.9 2238.8,771.9 2239.5,772.0 2241.7,771.9 2242.1,771.9 2242.4,771.8 2242.8,771.5 2243.2,771.0 2243.5,769.8 2243.9,768.0 2244.2,766.9 2244.2,766.9 2244.6,768.2 2245.0,769.9 2245.3,770.9 2245.7,771.4 2246.1,771.5 2246.4,771.5 2246.8,771.4 2247.1,771.3 2247.5,771.0 2247.9,770.6 2248.2,769.6 2248.6,767.2 2249.0,761.9 2249.3,753.7 2249.7,748.9 2249.7,748.9 2250.0,754.8 2250.4,762.8 2250.8,767.6 2251.1,769.8 2251.5,770.6 2251.9,771.1 2252.2,771.3 2252.6,771.5 2252.9,771.6 2253.7,771.6 2254.0,771.6 2254.4,771.4 2254.8,771.1 2255.1,770.2 2255.5,768.3 2255.8,765.2 2256.2,763.5 2256.2,763.5 2256.6,765.7 2256.9,768.7 2257.3,770.5 2257.7,771.3 2258.0,771.6 2258.4,771.8 2258.7,771.9 2259.1,771.9 2259.8,772.0 2261.6,772.0 2262.0,771.9 2262.4,771.6 2262.7,771.0 2263.1,770.1 2263.4,769.5 2263.5,769.5 2263.8,770.2 2264.2,771.1 2264.5,771.6 2264.9,771.8 2265.3,771.9 2266.0,771.9 2266.4,771.8 2266.7,771.7 2267.1,771.5 2267.4,771.0 2267.8,769.7 2268.2,767.3 2268.5,764.6 2268.7,764.1 2268.9,764.8 2269.3,767.7 2269.6,770.0 2270.0,771.1 2270.3,771.6 2270.7,771.8 2271.1,771.9 2271.4,772.0 2271.8,772.1 2272.5,772.1 2273.6,772.2 2282.3,772.1 2283.0,772.1 2283.4,772.0 2283.7,772.0 2284.1,771.9 2284.5,771.8 2284.8,771.6 2285.2,771.4 2285.6,770.9 2285.9,769.9 2286.3,767.4 2286.6,762.7 2287.0,757.3 2287.2,756.5 2287.4,757.8 2287.7,763.4 2288.1,767.8 2288.5,770.1 2288.8,771.0 2289.2,771.4 2289.5,771.6 2289.9,771.8 2290.3,771.9 2290.6,772.0 2291.0,772.0 2291.7,772.1 2292.8,772.1 2295.7,772.2 2300.1,772.1 2301.1,772.1 2301.5,772.0 2301.9,772.0 2302.2,771.9 2302.6,771.8 2303.0,771.5 2303.3,771.1 2303.7,769.9 2304.0,767.7 2304.4,765.3 2304.6,764.9 2304.8,765.5 2305.1,767.9 2305.5,769.7 2305.9,770.5 2306.2,770.5 2306.6,769.6 2306.9,767.2 2307.3,763.4 2307.6,761.2 2307.7,761.3 2308.0,764.0 2308.4,767.8 2308.8,770.0 2309.1,771.0 2309.5,771.4 2309.8,771.6 2310.2,771.8 2310.6,771.8 2310.9,771.7 2311.3,771.5 2311.7,771.0 2312.0,770.5 2312.2,770.4 2312.4,770.6 2312.7,771.2 2313.1,771.7 2313.5,771.9 2313.8,772.0 2314.2,772.1 2315.3,772.2 2317.4,772.1 2317.8,772.0 2318.2,771.9 2318.5,771.5 2318.9,770.9 2319.2,770.5 2319.3,770.5 2319.6,771.0 2320.0,771.6 2320.3,771.9 2320.7,772.1 2321.1,772.1 2321.8,772.2 2330.5,772.1 2330.9,772.1 2331.2,772.0 2331.6,771.9 2331.9,771.6 2332.3,770.8 2332.7,769.7 2333.0,769.0 2333.0,769.0 2333.4,769.8 2333.8,770.9 2334.1,771.6 2334.5,771.9 2334.8,772.0 2335.2,772.1 2337.0,772.0 2337.4,772.0 2337.7,771.9 2338.1,771.6 2338.5,771.0 2338.8,769.7 2339.2,768.4 2339.4,768.2 2339.6,768.5 2339.9,769.9 2340.3,771.0 2340.6,771.6 2341.0,771.8 2341.4,771.9 2342.5,771.8 2342.8,771.8 2343.2,771.6 2343.5,771.4 2343.9,770.9 2344.3,769.6 2344.6,766.8 2345.0,762.5 2345.3,759.9 2345.4,759.9 2345.7,763.0 2346.1,767.3 2346.4,769.8 2346.8,771.0 2347.2,771.4 2347.5,771.6 2347.9,771.8 2348.3,771.9 2349.0,771.9 2349.7,771.9 2350.1,771.8 2350.4,771.6 2350.8,771.0 2351.2,769.8 2351.5,767.9 2351.9,766.8 2351.9,766.8 2352.2,768.2 2352.6,770.1 2353.0,771.2 2353.3,771.7 2353.7,771.9 2354.1,772.0 2354.4,772.1 2355.1,772.1 2356.2,772.2 2359.1,772.2 2363.8,772.2 2364.2,772.1 2364.6,772.0 2364.9,771.7 2365.3,771.4 2365.4,771.4 2365.6,771.5 2366.0,771.8 2366.4,772.0 2366.7,772.2 2367.1,772.2 2368.5,772.3 2378.7,772.2 2379.8,772.1 2380.1,772.1 2380.5,772.0 2380.9,771.8 2381.2,771.3 2381.6,770.3 2382.0,768.6 2382.3,767.7 2382.3,767.7 2382.7,768.8 2383.0,770.4 2383.4,771.4 2383.8,771.8 2384.1,772.0 2384.5,772.1 2384.9,772.1 2385.6,772.2 2387.0,772.2 2389.0,772.3" fill="none" stroke="#f00" stroke-width="3" stroke-linejoin="round" />
</g>
<g filter="url(#bin)">
<text transform="translate(1710.92,814) scale(1.0264,1.04)" font-size="37.7" fill="#ff0000">Nb<tspan dy="9.6" font-size="25.5">10.7</tspan><tspan dy="-9.6">V</tspan><tspan dy="9.6" font-size="25.5">2.38</tspan><tspan dy="-9.6">O</tspan><tspan dy="9.6" font-size="25.5">32.7</tspan><tspan dy="-9.6"> ICDD No. 04-017-0387</tspan></text>
</g>
<g shape-rendering="crispEdges">
<rect x="1408" y="55" width="4" height="793" fill="#000"/>
<rect x="2387" y="55" width="4" height="793" fill="#000"/>
<rect x="1408" y="844" width="983" height="4" fill="#000"/>
<rect x="1481" y="848" width="4" height="14" fill="#000"/>
<rect x="1572" y="848" width="4" height="7" fill="#000"/>
<rect x="1662" y="848" width="4" height="14" fill="#000"/>
<rect x="1753" y="848" width="4" height="7" fill="#000"/>
<rect x="1843" y="848" width="4" height="14" fill="#000"/>
<rect x="1934" y="848" width="4" height="7" fill="#000"/>
<rect x="2025" y="848" width="4" height="14" fill="#000"/>
<rect x="2115" y="848" width="4" height="7" fill="#000"/>
<rect x="2206" y="848" width="4" height="14" fill="#000"/>
<rect x="2296" y="848" width="4" height="7" fill="#000"/>
<rect x="2387" y="848" width="4" height="14" fill="#000"/>
</g>
<g filter="url(#bin)">
<text transform="translate(1483.0,916.4) scale(0.985,1.005)" font-size="56" text-anchor="middle">10</text>
<text transform="translate(1664.2,916.4) scale(0.985,1.005)" font-size="56" text-anchor="middle">20</text>
<text transform="translate(1845.4,916.4) scale(0.985,1.005)" font-size="56" text-anchor="middle">30</text>
<text transform="translate(2026.6,916.4) scale(0.985,1.005)" font-size="56" text-anchor="middle">40</text>
<text transform="translate(2207.8,916.4) scale(0.985,1.005)" font-size="56" text-anchor="middle">50</text>
<text transform="translate(2389.0,916.4) scale(0.985,1.005)" font-size="56" text-anchor="middle">60</text>
<text transform="translate(1856.91,999) scale(1.0295,1.02)" font-size="57">2θ, <tspan dy="-18.2" font-size="39">o</tspan></text>
<text transform="translate(1362.5,592.57) rotate(-90) scale(1.0145,1.045)" font-size="57">Intensity, a.u.</text>
<text transform="translate(1949.62,123) scale(0.994,1.05)" font-size="62" font-weight="bold">NbVO<tspan dy="14" font-size="38">x</tspan><tspan dy="-14">-CA21</tspan></text>
</g>
<clipPath id="c3"><rect x="118" y="1082.5" width="982" height="790"/></clipPath>
<g clip-path="url(#c3)" shape-rendering="crispEdges">
<polyline points="120.0,1289.2 121.7,1289.2 125.0,1286.7 126.7,1290.0 130.0,1291.3 132.5,1292.5 134.2,1297.5 137.5,1297.5 140.0,1295.0 141.3,1291.3 143.0,1296.7 145.0,1301.7 147.5,1300.8 149.2,1305.8 152.5,1307.5 155.8,1306.7 158.3,1311.7 161.7,1312.5 164.2,1315.8 167.5,1319.2 171.7,1318.3 175.8,1321.7 179.2,1324.2 182.5,1323.7 185.0,1328.3 188.3,1327.5 190.8,1328.7 193.0,1323.7 195.0,1321.7 196.3,1315.8 198.0,1316.7 199.2,1330.0 200.8,1336.7 204.2,1339.2 207.5,1341.3 210.8,1344.2 214.2,1345.8 216.7,1347.5 220.0,1347.5 222.5,1350.8 225.8,1351.7 228.3,1353.3 230.8,1355.8 233.3,1354.2 236.7,1357.5 239.2,1359.2 243.3,1358.3 245.0,1362.5 248.3,1361.7 251.7,1363.3 255.0,1364.2 256.7,1368.3 259.2,1366.3 262.5,1368.0 266.7,1368.7 269.2,1367.0 272.5,1368.0 275.0,1371.7 277.5,1370.8 279.2,1360.0 280.3,1335.0 281.3,1305.0 282.5,1290.0 283.7,1288.3 284.2,1313.3 284.7,1346.7 285.3,1373.3 287.5,1373.7 289.2,1366.7 290.8,1364.2 292.5,1370.0 294.2,1375.0 296.7,1377.5 299.2,1376.7 301.7,1373.3 303.3,1365.0 304.7,1364.2 306.3,1370.0 307.5,1379.2 310.0,1380.0 312.5,1381.7 315.8,1383.0 319.2,1383.0 321.7,1384.7 323.3,1382.5 325.8,1387.5 328.3,1385.3 331.7,1385.3 334.2,1383.0 335.8,1375.8 337.0,1375.0 338.3,1385.0 340.8,1387.5 344.2,1388.0 347.5,1389.2 350.0,1388.0 352.5,1389.7 355.8,1388.7 358.3,1390.0 360.8,1391.7 363.3,1390.3 365.3,1388.3 367.3,1380.0 368.2,1370.0 368.8,1320.0 369.2,1249.0 369.7,1320.0 370.3,1370.0 372.0,1380.0 373.8,1371.7 374.8,1356.7 375.8,1349.7 376.8,1356.7 377.8,1371.7 379.8,1386.3 381.7,1385.0 382.7,1380.0 383.8,1330.0 384.7,1280.0 385.2,1222.2 385.7,1280.0 386.3,1330.0 387.3,1380.0 388.0,1392.5 390.0,1393.0 393.3,1393.7 395.8,1392.5 397.5,1390.0 399.2,1380.0 400.8,1366.7 402.2,1360.5 403.3,1371.7 404.7,1382.3 406.2,1371.7 407.2,1346.7 408.2,1263.3 408.8,1180.0 409.3,1130.0 409.8,1180.0 410.3,1263.3 411.0,1346.7 412.0,1393.3 413.3,1371.7 414.8,1328.7 415.6,1269.0 417.2,1133.7 417.6,1083.0 418.6,1133.7 419.2,1269.0 419.5,1328.7 420.5,1360.0 422.0,1368.3 423.7,1375.0 425.3,1360.8 426.7,1363.3 428.0,1383.3 429.2,1396.7 431.7,1398.3 434.2,1400.3 436.7,1396.7 438.0,1394.2 439.7,1398.3 441.7,1399.2 444.2,1396.7 445.3,1388.3 447.0,1384.2 448.3,1395.0 450.3,1400.8 453.3,1401.3 455.3,1395.0 456.7,1383.3 458.0,1380.0 459.7,1395.0 461.7,1399.7 465.0,1401.3 468.3,1400.8 470.8,1396.7 472.7,1371.7 473.7,1330.0 474.6,1272.3 475.2,1330.0 476.0,1371.7 478.3,1377.5 479.7,1363.3 480.7,1321.7 481.3,1300.3 482.0,1321.7 482.7,1340.0 483.7,1345.0 484.7,1330.0 485.7,1306.7 486.7,1301.8 487.7,1306.7 488.3,1330.0 489.2,1363.3 490.0,1388.3 490.8,1396.7 492.5,1395.0 494.7,1395.8 496.3,1401.7 500.0,1402.5 504.2,1402.5 507.5,1403.0 510.8,1400.8 512.5,1393.3 513.7,1387.5 515.0,1390.0 516.2,1400.0 518.0,1403.7 521.7,1404.2 525.0,1405.8 528.3,1405.3 530.8,1405.8 532.5,1398.3 534.2,1396.7 535.8,1397.5 537.5,1402.5 540.0,1404.7 542.5,1405.0 544.7,1398.3 545.8,1380.0 546.7,1346.7 548.0,1338.3 549.2,1346.7 550.0,1368.3 551.3,1346.7 552.2,1325.0 553.3,1314.2 554.7,1318.3 555.3,1346.7 556.2,1376.7 557.0,1385.0 558.3,1376.7 559.3,1368.3 560.3,1365.8 561.7,1376.7 563.0,1393.3 564.7,1397.5 565.8,1388.3 566.7,1363.3 567.7,1350.0 568.7,1363.3 569.3,1388.3 570.0,1398.3 571.7,1393.3 573.3,1386.7 575.3,1389.2 577.5,1384.2 579.2,1380.0 580.0,1355.0 580.8,1321.7 581.7,1303.7 582.5,1321.7 583.0,1363.3 583.7,1396.7 585.0,1405.8 587.0,1406.7 588.7,1400.0 590.0,1380.0 591.3,1366.7 592.5,1365.0 593.7,1371.7 595.0,1388.3 596.7,1395.0 598.3,1391.7 599.0,1371.7 599.7,1356.7 600.8,1355.0 601.3,1380.0 602.2,1400.0 603.7,1405.8 605.0,1401.7 606.3,1390.8 607.5,1388.3 608.3,1401.7 610.0,1408.3 612.0,1408.3 613.3,1401.7 614.7,1397.5 616.3,1400.8 618.0,1408.3 620.8,1410.8 624.2,1410.8 627.0,1407.5 628.7,1395.0 630.3,1383.3 631.7,1371.7 632.5,1346.7 633.3,1329.2 634.7,1330.0 635.3,1346.7 636.3,1380.0 637.5,1403.3 639.2,1396.7 640.5,1388.3 641.7,1395.0 643.0,1406.7 645.0,1410.0 648.3,1412.5 652.5,1411.7 655.8,1412.5 659.2,1410.0 661.3,1405.8 663.3,1407.5 665.0,1410.8 666.7,1406.7 668.3,1405.0 670.0,1410.8 672.5,1412.5 675.8,1411.3 678.3,1407.5 680.3,1407.0 682.0,1409.7 684.2,1407.5 686.3,1406.7 687.5,1396.7 688.7,1385.0 690.3,1384.2 691.7,1390.0 693.0,1378.3 694.2,1374.2 695.3,1380.0 696.3,1396.7 697.5,1407.5 699.7,1408.3 701.7,1405.8 703.0,1410.0 705.0,1403.3 706.3,1410.8 708.3,1408.3 710.8,1408.3 713.3,1413.3 715.8,1410.8 718.3,1414.2 721.3,1413.3 723.3,1408.3 725.0,1400.8 726.7,1399.2 728.3,1405.0 730.0,1410.0 731.7,1404.2 733.0,1400.0 734.2,1406.7 735.8,1413.3 738.3,1412.5 740.0,1410.8 742.5,1414.2 745.8,1413.7 749.2,1410.8 751.7,1410.8 754.2,1413.3 758.3,1413.3 762.5,1412.0 765.8,1411.3 767.5,1410.0 769.7,1412.5 771.3,1401.7 772.5,1394.2 774.2,1400.0 775.8,1408.3 778.3,1413.3 781.3,1410.8 782.5,1403.3 783.7,1402.5 785.0,1411.7 786.7,1413.3 788.7,1406.7 790.3,1402.5 792.0,1408.3 794.2,1412.5 796.7,1414.2 800.8,1414.2 804.2,1413.3 806.3,1410.0 808.3,1410.0 810.3,1414.2 813.3,1415.3 816.7,1414.7 818.7,1410.0 819.7,1396.7 820.8,1385.0 822.0,1385.8 823.0,1401.7 824.2,1413.3 826.7,1415.3 829.2,1414.2 831.7,1412.5 834.2,1411.7 835.5,1405.0 836.3,1380.0 837.2,1355.0 838.0,1338.3 839.2,1337.5 840.0,1346.7 840.8,1371.7 841.7,1396.7 842.8,1406.7 844.7,1406.7 846.3,1401.7 847.5,1406.7 848.8,1410.0 850.0,1396.7 851.2,1376.7 852.5,1372.0 853.3,1388.3 854.2,1405.0 855.3,1408.3 857.5,1406.7 859.2,1401.7 860.3,1399.2 861.3,1406.7 862.5,1411.7 865.0,1412.5 867.0,1410.8 869.2,1406.7 871.7,1407.0 875.0,1407.5 878.3,1409.2 879.7,1401.7 880.5,1385.0 881.7,1372.5 882.8,1373.3 883.7,1388.3 884.5,1405.0 885.8,1410.0 887.5,1410.8 888.7,1406.7 889.7,1390.0 890.8,1377.5 892.0,1380.0 893.0,1396.7 893.8,1403.3 894.7,1388.3 895.8,1368.3 897.0,1346.7 898.3,1346.7 899.5,1363.3 900.3,1388.3 901.7,1405.0 903.0,1410.8 905.8,1411.7 908.3,1413.7 910.8,1411.7 913.3,1407.5 915.8,1409.7 918.3,1409.2 920.8,1412.0 922.5,1410.0 925.0,1410.8 927.5,1412.5 929.7,1410.8 930.5,1401.7 931.7,1399.2 932.8,1406.7 933.8,1411.7 935.8,1410.0 938.7,1409.2 940.3,1401.7 942.5,1397.5 944.7,1396.7 946.3,1392.5 947.5,1392.5 948.7,1400.0 950.0,1404.2 951.7,1396.7 952.8,1386.7 954.2,1385.0 955.3,1391.7 956.7,1380.0 957.5,1360.0 958.3,1350.0 959.5,1355.0 960.5,1361.7 961.7,1365.0 962.5,1380.0 963.3,1396.7 964.7,1405.8 966.2,1398.3 967.5,1390.0 968.8,1389.7 970.0,1398.3 971.7,1402.5 973.7,1401.7 975.3,1405.0 976.7,1395.0 977.8,1390.8 979.2,1393.3 980.3,1403.3 981.7,1410.8 983.7,1412.5 985.3,1405.0 986.7,1401.7 987.8,1408.3 989.2,1412.5 990.8,1410.8 993.3,1410.8 995.0,1401.7 996.2,1388.3 997.5,1385.0 998.7,1390.0 1000.0,1403.3 1001.2,1410.8 1002.8,1408.3 1004.2,1405.0 1005.3,1410.8 1007.0,1412.5 1010.0,1410.8 1011.7,1403.3 1013.3,1393.3 1015.0,1390.8 1016.3,1386.7 1017.8,1386.7 1018.8,1396.7 1020.0,1403.3 1021.7,1401.7 1023.0,1400.0 1024.2,1410.0 1025.8,1413.3 1028.0,1410.0 1029.7,1410.8 1031.7,1413.3 1034.2,1414.7 1036.3,1413.3 1038.3,1407.5 1040.3,1404.2 1042.0,1403.3 1044.2,1408.3 1045.8,1410.0 1047.0,1400.0 1048.3,1394.2 1049.7,1398.3 1051.2,1405.8 1052.8,1405.0 1054.2,1393.3 1055.3,1380.0 1056.7,1377.5 1057.8,1388.3 1059.2,1403.3 1060.8,1396.7 1062.8,1395.0 1064.2,1380.0 1065.0,1365.0 1066.2,1364.2 1067.0,1388.3 1068.0,1410.0 1069.7,1410.8 1070.8,1406.7 1072.2,1410.8 1073.7,1414.2 1075.8,1411.7 1077.5,1401.7 1078.7,1395.8 1080.3,1395.8 1081.7,1403.3 1083.3,1411.7 1085.8,1413.3 1088.3,1410.8 1090.8,1409.2 1093.0,1406.7 1095.0,1410.0 1098.0,1410.0" fill="none" stroke="#000" stroke-width="3" stroke-linejoin="round" />
<polyline points="120.0,1574.2 133.8,1574.1 135.6,1574.1 136.7,1574.0 137.0,1574.0 137.4,1573.9 137.8,1573.8 138.1,1573.6 138.5,1573.3 138.8,1572.5 139.2,1570.7 139.6,1567.5 139.9,1564.9 140.0,1564.8 140.3,1566.3 140.7,1569.7 141.0,1572.0 141.4,1573.1 141.7,1573.5 142.1,1573.7 142.5,1573.8 142.8,1573.9 143.2,1574.0 143.9,1574.1 145.0,1574.1 147.9,1574.2 184.5,1574.1 186.3,1574.0 187.4,1574.0 188.1,1573.9 188.5,1573.8 188.9,1573.7 189.2,1573.6 189.6,1573.4 189.9,1573.0 190.3,1571.9 190.7,1569.7 191.0,1566.8 191.3,1565.8 191.4,1566.0 191.8,1568.5 192.1,1570.9 192.5,1572.2 192.8,1572.5 193.2,1572.4 193.6,1572.0 193.9,1570.7 194.3,1567.6 194.7,1561.1 195.0,1552.3 195.3,1549.4 195.4,1550.1 195.7,1558.1 196.1,1565.9 196.5,1570.1 196.8,1571.9 197.2,1572.7 197.6,1573.1 197.9,1573.4 198.3,1573.5 198.6,1573.7 199.0,1573.8 199.4,1573.8 199.7,1573.9 200.5,1574.0 201.2,1574.0 202.3,1574.1 204.4,1574.1 210.6,1574.2 266.4,1574.1 267.5,1574.0 267.9,1574.0 268.2,1573.8 268.6,1573.5 268.9,1572.8 269.3,1571.6 269.7,1570.6 269.7,1570.5 270.0,1571.1 270.4,1572.5 270.8,1573.3 271.1,1573.8 271.5,1573.9 271.8,1574.0 272.6,1574.1 274.0,1574.1 295.8,1574.1 297.2,1574.0 297.9,1574.0 298.3,1573.9 298.7,1573.9 299.0,1573.8 299.4,1573.7 299.8,1573.6 300.1,1573.4 300.5,1573.1 300.8,1572.6 301.2,1571.5 301.6,1568.8 301.9,1563.3 302.3,1555.9 302.5,1553.5 302.6,1554.1 303.0,1560.8 303.4,1567.3 303.7,1570.8 304.1,1572.3 304.5,1573.0 304.8,1573.3 305.2,1573.5 305.5,1573.7 305.9,1573.8 306.3,1573.9 306.6,1573.9 307.4,1574.0 308.1,1574.0 309.5,1574.1 312.4,1574.1 365.0,1574.1 367.2,1574.0 368.2,1574.0 369.0,1573.9 369.7,1573.9 370.1,1573.8 370.4,1573.7 370.8,1573.6 371.1,1573.5 371.5,1573.3 371.9,1573.1 372.2,1572.7 372.6,1572.1 373.0,1570.6 373.3,1567.1 373.7,1559.8 374.0,1550.0 374.3,1546.9 374.4,1547.7 374.8,1556.4 375.1,1565.0 375.5,1569.7 375.9,1571.7 376.2,1572.5 376.6,1573.0 376.9,1573.2 377.3,1573.4 377.7,1573.6 378.0,1573.6 378.4,1573.7 379.1,1573.8 379.8,1573.7 380.2,1573.6 380.6,1573.3 380.9,1572.6 381.3,1572.1 381.4,1572.1 381.7,1572.4 382.0,1573.1 382.4,1573.6 382.7,1573.8 383.1,1573.9 383.8,1574.0 385.6,1574.0 392.2,1574.0 393.6,1573.9 394.7,1573.9 395.4,1573.8 395.8,1573.7 396.1,1573.7 396.5,1573.6 396.9,1573.5 397.2,1573.4 397.6,1573.3 398.0,1573.1 398.3,1572.7 398.7,1572.2 399.0,1571.2 399.4,1568.9 399.8,1563.4 400.1,1553.9 400.5,1545.9 400.6,1545.6 400.9,1550.3 401.2,1560.4 401.6,1567.3 401.9,1570.5 402.3,1571.9 402.7,1572.5 403.0,1572.8 403.4,1573.0 403.8,1573.2 404.1,1573.3 404.5,1573.3 405.2,1573.4 407.4,1573.3 407.7,1573.3 408.1,1573.2 408.5,1573.2 408.8,1573.1 409.2,1573.0 409.6,1572.9 409.9,1572.8 410.3,1572.6 410.6,1572.4 411.0,1572.2 411.4,1571.9 411.7,1571.6 412.1,1571.2 412.5,1570.7 412.8,1569.9 413.2,1569.0 413.5,1567.7 413.9,1565.8 414.3,1562.9 414.6,1557.8 415.0,1546.7 415.4,1519.8 415.7,1464.4 416.1,1389.9 416.3,1365.5 416.4,1371.5 416.8,1437.9 417.2,1503.1 417.5,1538.3 417.9,1552.5 418.3,1557.1 418.6,1556.0 419.0,1548.8 419.3,1537.7 419.6,1534.4 419.7,1535.7 420.1,1547.5 420.4,1559.0 420.8,1565.4 421.2,1568.1 421.5,1569.2 421.9,1569.8 422.2,1569.9 422.6,1569.6 423.0,1568.5 423.3,1565.5 423.7,1558.1 424.1,1545.2 424.4,1534.2 424.5,1533.8 424.8,1540.5 425.1,1554.6 425.5,1564.2 425.9,1568.8 426.2,1570.7 426.6,1571.6 427.0,1572.1 427.3,1572.5 427.7,1572.8 428.0,1573.0 428.4,1573.1 428.8,1573.2 429.1,1573.3 429.5,1573.4 429.9,1573.5 430.2,1573.5 430.9,1573.6 431.7,1573.7 432.8,1573.8 434.2,1573.7 434.6,1573.7 434.9,1573.5 435.3,1573.2 435.7,1572.4 436.0,1571.4 436.3,1571.1 436.4,1571.2 436.7,1572.1 437.1,1573.0 437.5,1573.5 437.8,1573.7 438.2,1573.8 438.5,1573.9 439.3,1573.9 440.7,1574.0 444.7,1574.0 450.9,1574.0 452.0,1573.9 452.3,1573.9 452.7,1573.8 453.0,1573.7 453.4,1573.6 453.8,1573.3 454.1,1572.8 454.5,1571.5 454.9,1568.8 455.2,1565.1 455.5,1563.9 455.6,1564.2 455.9,1567.5 456.3,1570.7 456.7,1572.4 457.0,1573.2 457.4,1573.5 457.8,1573.7 458.1,1573.8 458.5,1573.8 459.2,1573.9 460.3,1574.0 469.0,1573.9 470.1,1573.9 470.8,1573.8 471.2,1573.8 471.5,1573.7 471.9,1573.6 472.3,1573.5 472.6,1573.3 473.0,1573.1 473.3,1572.8 473.7,1572.2 474.1,1570.9 474.4,1567.8 474.8,1561.4 475.2,1552.8 475.4,1550.0 475.5,1550.7 475.9,1558.4 476.2,1565.9 476.6,1570.0 477.0,1571.7 477.3,1572.4 477.7,1572.8 478.1,1573.0 478.4,1573.1 478.8,1573.2 479.5,1573.2 479.9,1573.1 480.2,1573.0 480.6,1572.9 481.0,1572.7 481.3,1572.4 481.7,1572.0 482.0,1571.4 482.4,1570.6 482.8,1569.2 483.1,1566.5 483.5,1559.9 483.8,1544.8 484.2,1518.7 484.6,1496.3 484.6,1495.6 484.9,1508.7 485.3,1536.8 485.7,1555.9 486.0,1564.8 486.4,1568.5 486.7,1570.2 487.1,1571.2 487.5,1571.9 487.8,1572.4 488.2,1572.7 488.6,1573.0 488.9,1573.2 489.3,1573.3 489.6,1573.4 490.0,1573.5 490.4,1573.6 490.7,1573.7 491.1,1573.7 491.8,1573.8 492.5,1573.9 493.6,1573.9 495.1,1574.0 497.6,1574.1 508.5,1574.0 509.2,1573.9 509.6,1573.9 509.9,1573.8 510.3,1573.7 510.7,1573.5 511.0,1573.1 511.4,1572.3 511.8,1570.3 512.1,1566.9 512.5,1564.0 512.5,1563.9 512.8,1565.6 513.2,1569.3 513.6,1571.8 513.9,1572.9 514.3,1573.4 514.7,1573.6 515.0,1573.8 515.4,1573.8 515.7,1573.9 516.5,1574.0 517.6,1574.0 520.8,1574.1 527.3,1574.0 528.8,1574.0 529.5,1573.9 529.9,1573.9 530.2,1573.8 530.6,1573.7 531.0,1573.4 531.3,1572.8 531.7,1571.5 532.0,1569.3 532.4,1567.3 532.5,1567.3 532.8,1568.4 533.1,1570.8 533.5,1572.5 533.9,1573.2 534.2,1573.5 534.6,1573.7 534.9,1573.8 535.7,1573.8 538.9,1573.8 539.7,1573.7 540.0,1573.7 540.4,1573.6 540.7,1573.5 541.1,1573.5 541.5,1573.4 541.8,1573.3 542.2,1573.1 542.6,1572.9 542.9,1572.7 543.3,1572.4 543.6,1571.9 544.0,1571.2 544.4,1570.2 544.7,1568.1 545.1,1563.1 545.5,1551.8 545.8,1532.2 546.2,1515.4 546.2,1514.9 546.5,1524.5 546.9,1545.4 547.3,1559.6 547.6,1566.1 548.0,1568.6 548.4,1569.6 548.7,1569.9 549.1,1569.7 549.4,1569.1 549.8,1567.6 550.2,1564.1 550.5,1555.1 550.9,1536.5 551.3,1511.4 551.5,1503.2 551.6,1505.3 552.0,1527.9 552.3,1550.1 552.7,1562.2 553.1,1567.4 553.4,1569.6 553.8,1570.7 554.2,1571.5 554.5,1571.9 554.9,1572.3 555.2,1572.5 555.6,1572.6 556.0,1572.7 556.3,1572.7 556.7,1572.6 557.1,1572.5 557.4,1572.1 557.8,1571.4 558.1,1569.5 558.5,1565.0 558.9,1557.3 559.2,1550.7 559.3,1550.5 559.6,1554.4 560.0,1562.8 560.3,1568.5 560.7,1571.1 561.0,1572.2 561.4,1572.8 561.8,1573.1 562.1,1573.3 562.5,1573.4 562.9,1573.5 563.2,1573.6 563.6,1573.7 564.3,1573.7 565.4,1573.8 567.6,1573.7 567.9,1573.7 568.3,1573.6 568.7,1573.4 569.0,1573.1 569.4,1572.3 569.7,1570.5 570.1,1567.4 570.5,1564.8 570.5,1564.7 570.8,1566.2 571.2,1569.6 571.6,1571.8 571.9,1572.9 572.3,1573.3 572.6,1573.5 573.0,1573.6 573.7,1573.6 574.1,1573.6 574.4,1573.5 574.8,1573.4 575.2,1573.1 575.5,1572.3 575.9,1570.4 576.3,1567.3 576.6,1564.5 576.7,1564.5 577.0,1566.1 577.3,1569.5 577.7,1571.8 578.1,1572.9 578.4,1573.4 578.8,1573.6 579.2,1573.7 579.5,1573.8 579.9,1573.9 580.6,1573.9 582.1,1574.0 585.3,1573.9 586.0,1573.9 586.4,1573.8 586.8,1573.8 587.1,1573.7 587.5,1573.6 587.9,1573.5 588.2,1573.3 588.6,1573.1 588.9,1572.7 589.3,1571.9 589.7,1570.0 590.0,1565.6 590.4,1558.1 590.8,1551.7 590.8,1551.5 591.1,1555.2 591.5,1563.1 591.8,1568.4 592.2,1570.7 592.6,1571.0 592.9,1569.9 593.3,1567.5 593.7,1565.3 593.7,1565.3 594.0,1566.7 594.4,1569.8 594.7,1571.9 595.1,1572.9 595.5,1573.3 595.8,1573.5 596.2,1573.6 596.6,1573.7 596.9,1573.8 597.6,1573.9 598.4,1573.8 598.7,1573.8 599.1,1573.6 599.5,1573.2 599.8,1572.5 600.2,1571.9 600.2,1571.9 600.5,1572.3 600.9,1573.0 601.3,1573.6 601.6,1573.8 602.0,1573.9 602.4,1574.0 603.1,1574.1 604.9,1574.1 614.0,1574.2 624.8,1574.1 627.0,1574.1 628.1,1574.0 628.8,1573.9 629.2,1573.8 629.5,1573.7 629.9,1573.6 630.3,1573.4 630.6,1572.9 631.0,1571.9 631.3,1569.6 631.7,1565.5 632.1,1562.0 632.1,1561.9 632.4,1563.9 632.8,1568.3 633.2,1571.2 633.5,1572.6 633.9,1573.1 634.2,1573.4 634.6,1573.5 635.0,1573.5 635.7,1573.5 636.1,1573.4 636.4,1573.2 636.8,1572.9 637.1,1572.3 637.5,1570.8 637.9,1567.3 638.2,1561.3 638.6,1556.1 638.7,1556.0 639.0,1559.0 639.3,1565.5 639.7,1569.9 640.0,1572.0 640.4,1572.8 640.8,1573.2 641.1,1573.5 641.5,1573.6 641.9,1573.7 642.2,1573.8 642.6,1573.9 643.3,1574.0 644.0,1574.0 645.5,1574.1 648.4,1574.1 674.8,1574.1 675.9,1574.0 676.3,1573.9 676.6,1573.8 677.0,1573.5 677.4,1572.8 677.7,1572.0 678.0,1571.7 678.1,1571.7 678.5,1572.5 678.8,1573.3 679.2,1573.7 679.5,1573.9 679.9,1573.9 681.0,1574.0 682.8,1573.9 683.5,1573.9 683.9,1573.8 684.3,1573.8 684.6,1573.7 685.0,1573.6 685.3,1573.5 685.7,1573.4 686.1,1573.1 686.4,1572.7 686.8,1572.0 687.2,1570.4 687.5,1566.6 687.9,1560.0 688.2,1554.3 688.3,1554.1 688.6,1557.3 689.0,1564.3 689.3,1568.9 689.7,1570.9 690.1,1571.6 690.4,1571.6 690.8,1571.1 691.1,1569.6 691.5,1565.8 691.9,1557.8 692.2,1546.9 692.5,1543.4 692.6,1544.3 693.0,1554.1 693.3,1563.7 693.7,1569.0 694.0,1571.2 694.4,1572.2 694.8,1572.7 695.1,1573.0 695.5,1573.2 695.9,1573.3 696.2,1573.4 696.6,1573.4 696.9,1573.3 697.3,1573.1 697.7,1572.3 698.0,1570.8 698.4,1568.8 698.6,1568.1 698.8,1568.3 699.1,1570.2 699.5,1572.0 699.8,1573.1 700.2,1573.5 700.6,1573.7 700.9,1573.8 701.3,1573.9 702.0,1573.9 703.1,1574.0 705.3,1573.9 705.6,1573.9 706.0,1573.8 706.4,1573.6 706.7,1573.2 707.1,1572.3 707.5,1570.6 707.8,1569.2 707.9,1569.2 708.2,1570.0 708.5,1571.8 708.9,1573.0 709.3,1573.6 709.6,1573.8 710.0,1573.9 710.3,1574.0 711.1,1574.0 712.2,1574.1 720.9,1574.0 721.6,1573.9 721.9,1573.9 722.3,1573.8 722.7,1573.6 723.0,1573.4 723.4,1572.9 723.8,1571.5 724.1,1568.8 724.5,1565.2 724.7,1564.0 724.8,1564.3 725.2,1567.5 725.6,1570.8 725.9,1572.5 726.3,1573.3 726.7,1573.6 727.0,1573.7 727.4,1573.8 727.7,1573.9 728.5,1574.0 729.6,1574.1 731.4,1574.0 731.7,1573.9 732.1,1573.8 732.5,1573.4 732.8,1573.1 732.9,1573.1 733.2,1573.3 733.5,1573.7 733.9,1573.9 734.3,1574.0 734.6,1574.1 736.1,1574.1 747.3,1574.1 747.7,1574.0 748.0,1573.9 748.4,1573.6 748.8,1573.1 749.1,1572.7 749.2,1572.7 749.5,1573.0 749.9,1573.5 750.2,1573.8 750.6,1574.0 750.9,1574.1 751.7,1574.1 761.8,1574.1 762.2,1574.0 762.5,1573.9 762.9,1573.8 763.3,1573.3 763.6,1572.5 764.0,1571.3 764.2,1570.9 764.3,1571.0 764.7,1572.1 765.1,1573.1 765.4,1573.6 765.8,1573.9 766.2,1574.0 766.5,1574.0 767.6,1574.1 770.5,1574.0 771.2,1574.0 771.6,1573.9 772.0,1573.8 772.3,1573.5 772.7,1573.0 773.0,1571.7 773.4,1569.6 773.8,1567.7 773.8,1567.6 774.1,1568.7 774.5,1571.1 774.9,1572.7 775.2,1573.4 775.6,1573.7 775.9,1573.8 776.3,1573.9 776.7,1574.0 777.4,1574.1 778.8,1574.1 783.6,1574.0 784.3,1574.0 784.6,1573.9 785.0,1573.8 785.4,1573.7 785.7,1573.5 786.1,1573.0 786.5,1571.8 786.8,1569.3 787.2,1565.9 787.4,1564.9 787.5,1565.1 787.9,1568.1 788.3,1571.1 788.6,1572.7 789.0,1573.3 789.4,1573.6 789.7,1573.8 790.1,1573.9 790.4,1574.0 791.2,1574.0 792.3,1574.1 794.8,1574.1 827.4,1574.1 829.6,1574.0 831.0,1574.0 832.1,1573.9 832.8,1573.8 833.2,1573.8 833.6,1573.7 833.9,1573.6 834.3,1573.5 834.7,1573.4 835.0,1573.2 835.4,1573.0 835.7,1572.7 836.1,1572.2 836.5,1571.4 836.8,1569.8 837.2,1566.1 837.6,1557.5 837.9,1542.6 838.3,1529.8 838.3,1529.4 838.6,1536.8 839.0,1552.8 839.4,1563.7 839.7,1568.8 840.1,1570.9 840.5,1571.8 840.8,1572.4 841.2,1572.7 841.5,1572.9 841.9,1573.1 842.3,1573.1 842.6,1573.0 843.0,1572.8 843.4,1572.1 843.7,1570.5 844.1,1567.5 844.4,1565.0 844.5,1564.9 844.8,1566.4 845.2,1569.7 845.5,1571.9 845.9,1572.9 846.2,1573.4 846.6,1573.6 847.0,1573.7 847.3,1573.8 847.7,1573.8 848.4,1573.9 849.5,1574.0 852.4,1573.9 852.8,1573.8 853.1,1573.7 853.5,1573.6 853.9,1573.3 854.2,1572.6 854.6,1571.0 854.9,1568.3 855.3,1565.9 855.4,1565.8 855.7,1567.2 856.0,1570.2 856.4,1572.2 856.8,1573.2 857.1,1573.5 857.5,1573.7 857.8,1573.8 858.2,1573.9 858.9,1574.0 860.0,1574.1 862.9,1574.1 866.5,1574.1 867.3,1574.0 867.6,1573.9 868.0,1573.8 868.4,1573.4 868.7,1572.7 869.1,1571.4 869.4,1570.3 869.5,1570.2 869.8,1570.9 870.2,1572.3 870.5,1573.2 870.9,1573.7 871.3,1573.9 871.6,1574.0 872.0,1574.0 872.7,1574.1 874.9,1574.1 881.0,1574.1 881.8,1574.0 882.1,1574.0 882.5,1573.9 882.9,1573.7 883.2,1573.3 883.6,1572.4 883.9,1571.3 884.2,1570.9 884.3,1571.0 884.7,1572.0 885.0,1573.0 885.4,1573.6 885.8,1573.8 886.1,1573.9 886.8,1574.0 890.8,1573.9 891.5,1573.8 891.9,1573.8 892.3,1573.7 892.6,1573.7 893.0,1573.6 893.4,1573.4 893.7,1573.2 894.1,1573.0 894.4,1572.6 894.8,1571.9 895.2,1570.6 895.5,1567.6 895.9,1560.6 896.3,1548.5 896.6,1538.1 896.7,1537.8 897.0,1543.9 897.3,1556.9 897.7,1565.7 898.1,1569.9 898.4,1571.6 898.8,1572.4 899.2,1572.8 899.5,1573.1 899.9,1573.4 900.2,1573.5 900.6,1573.6 901.0,1573.7 901.3,1573.8 901.7,1573.8 902.4,1573.9 903.1,1574.0 904.2,1574.0 908.9,1574.0 909.3,1573.9 909.7,1573.8 910.0,1573.6 910.4,1573.1 910.8,1572.0 911.1,1570.5 911.4,1570.0 911.5,1570.2 911.8,1571.5 912.2,1572.8 912.6,1573.5 912.9,1573.8 913.3,1573.9 913.7,1574.0 914.4,1574.0 915.8,1574.1 920.5,1574.0 920.9,1574.0 921.3,1573.9 921.6,1573.8 922.0,1573.4 922.4,1572.6 922.7,1571.6 923.0,1571.3 923.1,1571.4 923.4,1572.3 923.8,1573.2 924.2,1573.7 924.5,1573.9 924.9,1574.0 925.6,1574.1 927.4,1574.1 932.5,1574.1 932.9,1574.0 933.2,1573.9 933.6,1573.8 934.0,1573.5 934.3,1572.8 934.7,1571.8 934.9,1571.5 935.0,1571.6 935.4,1572.4 935.8,1573.3 936.1,1573.7 936.5,1573.9 936.8,1574.0 937.6,1574.0 941.6,1574.0 942.3,1573.9 942.6,1573.8 943.0,1573.7 943.4,1573.6 943.7,1573.3 944.1,1572.5 944.5,1570.8 944.8,1567.8 945.2,1565.2 945.2,1565.1 945.5,1566.6 945.9,1569.8 946.3,1572.0 946.6,1573.0 947.0,1573.4 947.4,1573.6 947.7,1573.7 948.1,1573.8 948.8,1573.9 950.6,1573.8 951.0,1573.7 951.3,1573.6 951.7,1573.3 952.1,1572.8 952.4,1571.5 952.8,1569.3 953.2,1567.4 953.2,1567.4 953.5,1568.4 953.9,1570.7 954.2,1572.3 954.6,1572.9 955.0,1573.2 955.3,1573.2 955.7,1573.1 956.1,1573.0 956.4,1572.7 956.8,1572.2 957.1,1571.2 957.5,1568.7 957.9,1563.1 958.2,1553.3 958.6,1544.9 958.7,1544.7 959.0,1549.6 959.3,1560.1 959.7,1567.2 960.0,1570.6 960.4,1571.9 960.8,1572.5 961.1,1572.9 961.5,1573.1 961.9,1573.3 962.2,1573.3 962.9,1573.3 963.3,1573.1 963.7,1572.8 964.0,1571.9 964.4,1569.9 964.8,1566.3 965.1,1563.2 965.2,1563.1 965.5,1564.9 965.8,1568.8 966.2,1571.5 966.6,1572.7 966.9,1573.2 967.3,1573.5 967.7,1573.6 968.0,1573.7 968.4,1573.8 969.1,1573.8 970.6,1573.8 970.9,1573.7 971.3,1573.4 971.6,1572.8 972.0,1571.7 972.4,1570.7 972.4,1570.7 972.7,1571.2 973.1,1572.4 973.5,1573.2 973.8,1573.6 974.2,1573.7 974.9,1573.7 975.3,1573.6 975.6,1573.5 976.0,1573.3 976.4,1572.8 976.7,1571.5 977.1,1568.7 977.4,1565.1 977.7,1563.9 977.8,1564.2 978.2,1567.5 978.5,1570.7 978.9,1572.5 979.3,1573.2 979.6,1573.5 980.0,1573.7 980.3,1573.8 980.7,1573.9 981.1,1573.9 981.8,1574.0 982.9,1574.0 990.8,1574.0 991.6,1573.9 992.3,1573.9 992.7,1573.8 993.0,1573.7 993.4,1573.6 993.7,1573.4 994.1,1573.1 994.5,1572.6 994.8,1571.6 995.2,1569.0 995.6,1563.7 995.9,1556.6 996.2,1554.3 996.3,1554.9 996.6,1561.2 997.0,1567.5 997.4,1570.9 997.7,1572.4 998.1,1573.0 998.5,1573.3 998.8,1573.5 999.2,1573.7 999.5,1573.8 999.9,1573.8 1000.3,1573.9 1001.0,1574.0 1002.1,1574.0 1004.6,1574.1 1008.6,1574.0 1009.7,1573.9 1010.4,1573.9 1010.8,1573.8 1011.1,1573.7 1011.5,1573.6 1011.9,1573.3 1012.2,1572.8 1012.6,1571.6 1013.0,1569.2 1013.3,1565.9 1013.6,1564.8 1013.7,1565.1 1014.0,1567.9 1014.4,1570.5 1014.8,1571.8 1015.1,1572.0 1015.5,1571.2 1015.9,1568.7 1016.2,1564.2 1016.6,1560.4 1016.6,1560.2 1016.9,1562.5 1017.3,1567.5 1017.7,1570.8 1018.0,1572.4 1018.4,1573.0 1018.8,1573.3 1019.1,1573.5 1019.5,1573.6 1019.8,1573.5 1020.2,1573.3 1020.6,1572.8 1020.9,1572.0 1021.2,1571.8 1021.3,1571.9 1021.7,1572.6 1022.0,1573.3 1022.4,1573.7 1022.7,1573.9 1023.1,1573.9 1023.8,1574.0 1026.4,1574.0 1026.7,1573.9 1027.1,1573.7 1027.4,1573.3 1027.8,1572.6 1028.2,1572.0 1028.2,1572.0 1028.5,1572.3 1028.9,1573.1 1029.3,1573.6 1029.6,1573.9 1030.0,1574.0 1030.7,1574.1 1032.5,1574.1 1038.7,1574.1 1039.4,1574.0 1039.8,1574.0 1040.1,1573.9 1040.5,1573.7 1040.9,1573.4 1041.2,1572.6 1041.6,1571.2 1041.9,1570.1 1042.0,1570.0 1042.3,1570.7 1042.7,1572.2 1043.0,1573.2 1043.4,1573.6 1043.8,1573.8 1044.1,1573.9 1044.8,1573.9 1045.9,1573.9 1046.3,1573.8 1046.7,1573.7 1047.0,1573.4 1047.4,1572.8 1047.7,1571.4 1048.1,1569.6 1048.4,1569.0 1048.5,1569.1 1048.8,1570.7 1049.2,1572.3 1049.6,1573.2 1049.9,1573.5 1050.3,1573.6 1051.4,1573.6 1051.7,1573.5 1052.1,1573.4 1052.5,1573.1 1052.8,1572.6 1053.2,1571.3 1053.5,1568.3 1053.9,1563.2 1054.3,1558.7 1054.3,1558.6 1054.6,1561.2 1055.0,1566.7 1055.4,1570.5 1055.7,1572.3 1056.1,1573.0 1056.4,1573.3 1056.8,1573.5 1057.2,1573.6 1057.5,1573.7 1058.6,1573.7 1059.0,1573.6 1059.3,1573.4 1059.7,1572.8 1060.1,1571.5 1060.4,1569.3 1060.8,1567.4 1060.9,1567.3 1061.2,1568.4 1061.5,1570.9 1061.9,1572.5 1062.2,1573.3 1062.6,1573.6 1063.0,1573.8 1063.3,1573.9 1063.7,1573.9 1064.4,1574.0 1065.5,1574.1 1068.0,1574.1 1072.7,1574.1 1073.1,1574.0 1073.5,1573.9 1073.8,1573.6 1074.2,1573.2 1074.4,1573.0 1074.6,1573.1 1074.9,1573.4 1075.3,1573.8 1075.6,1574.0 1076.0,1574.1 1076.7,1574.1 1088.0,1574.1 1088.7,1574.0 1089.1,1573.9 1089.4,1573.8 1089.8,1573.6 1090.1,1573.1 1090.5,1572.0 1090.9,1570.1 1091.2,1568.4 1091.3,1568.4 1091.6,1569.3 1092.0,1571.4 1092.3,1572.8 1092.7,1573.5 1093.0,1573.8 1093.4,1573.9 1093.8,1574.0 1094.5,1574.1 1095.6,1574.1 1098.0,1574.2" fill="none" stroke="#f00" stroke-width="3" stroke-linejoin="round" />
<polyline points="120.0,1790.3 260.6,1790.2 269.3,1790.2 273.3,1790.1 275.8,1790.1 277.6,1790.0 278.7,1790.0 279.8,1789.9 280.5,1789.8 281.3,1789.8 282.0,1789.7 282.4,1789.6 282.7,1789.6 283.1,1789.5 283.4,1789.4 283.8,1789.3 284.2,1789.2 284.5,1789.1 284.9,1788.9 285.3,1788.7 285.6,1788.5 286.0,1788.2 286.3,1787.8 286.7,1787.3 287.1,1786.7 287.4,1785.9 287.8,1784.7 288.2,1783.0 288.5,1780.5 288.9,1776.3 289.2,1768.6 289.6,1753.4 290.0,1725.1 290.3,1686.5 290.6,1673.6 290.7,1676.9 291.1,1711.8 291.4,1745.2 291.8,1764.4 292.1,1774.2 292.5,1779.3 292.9,1782.3 293.2,1784.2 293.6,1785.5 294.0,1786.4 294.3,1787.1 294.7,1787.7 295.0,1788.1 295.4,1788.4 295.8,1788.6 296.1,1788.8 296.5,1789.0 296.9,1789.2 297.2,1789.3 297.6,1789.4 297.9,1789.5 298.3,1789.5 298.7,1789.6 299.0,1789.7 299.4,1789.7 300.1,1789.8 300.8,1789.9 301.6,1789.9 302.6,1790.0 304.1,1790.1 305.9,1790.1 308.4,1790.2 312.8,1790.2 323.7,1790.3 350.1,1790.2 354.1,1790.2 358.1,1790.1 360.6,1790.1 362.4,1790.0 363.9,1789.9 365.0,1789.9 366.1,1789.8 366.8,1789.8 367.5,1789.7 368.2,1789.6 369.0,1789.6 369.3,1789.5 369.7,1789.5 370.1,1789.4 370.4,1789.3 370.8,1789.2 371.1,1789.2 371.5,1789.1 371.9,1788.9 372.2,1788.8 372.6,1788.7 373.0,1788.5 373.3,1788.3 373.7,1788.0 374.0,1787.8 374.4,1787.4 374.8,1787.0 375.1,1786.5 375.5,1785.8 375.9,1785.0 376.2,1783.9 376.6,1782.4 376.9,1780.3 377.3,1777.3 377.7,1772.8 378.0,1765.4 378.4,1751.6 378.8,1724.5 379.1,1674.2 379.5,1605.6 379.7,1582.7 379.8,1588.5 380.2,1650.6 380.6,1710.0 380.9,1744.1 381.3,1761.5 381.7,1770.6 382.0,1775.9 382.4,1779.4 382.7,1781.7 383.1,1783.3 383.5,1784.6 383.8,1785.5 384.2,1786.2 384.6,1786.8 384.9,1787.2 385.3,1787.6 385.6,1787.9 386.0,1788.1 386.4,1788.3 386.7,1788.5 387.1,1788.7 387.5,1788.8 387.8,1788.9 388.2,1789.0 388.5,1789.1 388.9,1789.1 389.3,1789.2 389.6,1789.3 390.4,1789.3 391.1,1789.4 392.2,1789.5 395.8,1789.4 396.5,1789.3 396.9,1789.3 397.2,1789.3 397.6,1789.2 398.0,1789.1 398.3,1789.0 398.7,1788.9 399.0,1788.8 399.4,1788.6 399.8,1788.5 400.1,1788.3 400.5,1788.0 400.9,1787.6 401.2,1787.2 401.6,1786.7 401.9,1786.0 402.3,1785.0 402.7,1783.6 403.0,1781.7 403.4,1778.8 403.8,1773.9 404.1,1764.9 404.5,1747.2 404.8,1714.3 405.2,1669.4 405.5,1654.4 405.6,1658.2 405.9,1698.8 406.3,1737.7 406.7,1760.0 407.0,1771.4 407.4,1777.4 407.7,1780.9 408.1,1783.1 408.5,1784.6 408.8,1785.7 409.2,1786.5 409.6,1787.1 409.9,1787.6 410.3,1788.0 410.6,1788.3 411.0,1788.5 411.4,1788.7 411.7,1788.9 412.1,1789.0 412.5,1789.1 412.8,1789.3 413.2,1789.3 413.5,1789.4 413.9,1789.5 414.3,1789.6 414.6,1789.6 415.4,1789.7 416.1,1789.8 416.8,1789.8 417.5,1789.9 418.6,1789.9 420.1,1790.0 421.9,1790.1 424.4,1790.1 428.4,1790.2 435.7,1790.2 459.6,1790.2 464.3,1790.1 466.1,1790.1 467.5,1790.0 468.6,1789.9 469.4,1789.9 470.1,1789.8 470.4,1789.7 470.8,1789.7 471.2,1789.6 471.5,1789.5 471.9,1789.3 472.3,1789.2 472.6,1788.9 473.0,1788.6 473.3,1788.0 473.7,1787.1 474.1,1785.2 474.4,1781.7 474.8,1775.8 475.2,1770.6 475.2,1770.5 475.5,1773.5 475.9,1779.8 476.2,1784.1 476.6,1786.3 477.0,1787.4 477.3,1788.0 477.7,1788.3 478.1,1788.5 478.4,1788.6 479.1,1788.6 479.5,1788.5 479.9,1788.4 480.2,1788.3 480.6,1788.1 481.0,1787.9 481.3,1787.5 481.7,1787.2 482.0,1786.7 482.4,1786.0 482.8,1785.2 483.1,1784.0 483.5,1782.4 483.8,1780.1 484.2,1776.6 484.6,1770.7 484.9,1760.0 485.3,1738.8 485.7,1699.4 486.0,1645.7 486.3,1627.7 486.4,1632.3 486.7,1680.9 487.1,1727.4 487.5,1754.2 487.8,1767.8 488.2,1774.9 488.6,1779.1 488.9,1781.8 489.3,1783.6 489.6,1784.9 490.0,1785.9 490.4,1786.6 490.7,1787.1 491.1,1787.6 491.5,1787.9 491.8,1788.2 492.2,1788.5 492.5,1788.7 492.9,1788.8 493.3,1789.0 493.6,1789.1 494.0,1789.2 494.4,1789.3 494.7,1789.4 495.1,1789.5 495.4,1789.5 495.8,1789.6 496.2,1789.6 496.9,1789.7 497.6,1789.8 498.3,1789.8 499.4,1789.9 500.5,1790.0 502.0,1790.0 503.8,1790.1 506.3,1790.1 510.7,1790.2 519.4,1790.2 559.6,1790.2 562.5,1790.1 564.3,1790.1 565.8,1790.0 566.8,1789.9 567.6,1789.9 568.3,1789.8 568.7,1789.7 569.0,1789.7 569.4,1789.6 569.7,1789.5 570.1,1789.4 570.5,1789.3 570.8,1789.1 571.2,1788.9 571.6,1788.7 571.9,1788.3 572.3,1787.9 572.6,1787.3 573.0,1786.4 573.4,1785.0 573.7,1782.8 574.1,1778.6 574.4,1770.5 574.8,1755.3 575.2,1734.7 575.4,1727.8 575.5,1729.5 575.9,1748.2 576.3,1766.1 576.6,1776.4 577.0,1781.6 577.3,1784.3 577.7,1785.9 578.1,1787.0 578.4,1787.7 578.8,1788.2 579.2,1788.5 579.5,1788.8 579.9,1789.0 580.2,1789.2 580.6,1789.3 581.0,1789.4 581.3,1789.5 581.7,1789.6 582.1,1789.7 582.4,1789.7 583.1,1789.8 583.9,1789.8 585.0,1789.9 591.1,1789.8 591.8,1789.8 592.6,1789.7 592.9,1789.6 593.3,1789.6 593.7,1789.5 594.0,1789.4 594.4,1789.3 594.7,1789.2 595.1,1789.0 595.5,1788.8 595.8,1788.5 596.2,1788.2 596.6,1787.7 596.9,1787.0 597.3,1785.9 597.6,1784.3 598.0,1781.4 598.4,1775.9 598.7,1765.1 599.1,1747.1 599.5,1731.2 599.5,1730.7 599.8,1740.0 600.2,1759.6 600.5,1772.9 600.9,1779.9 601.3,1783.5 601.6,1785.4 602.0,1786.6 602.4,1787.4 602.7,1788.0 603.1,1788.4 603.4,1788.7 603.8,1788.9 604.2,1789.1 604.5,1789.2 604.9,1789.3 605.3,1789.4 605.6,1789.5 606.0,1789.6 606.7,1789.7 607.4,1789.7 611.1,1789.6 611.4,1789.6 611.8,1789.5 612.1,1789.4 612.5,1789.3 612.9,1789.1 613.2,1788.9 613.6,1788.6 614.0,1788.2 614.3,1787.5 614.7,1786.4 615.0,1784.4 615.4,1780.4 615.8,1773.1 616.1,1763.0 616.4,1759.6 616.5,1760.5 616.9,1769.6 617.2,1778.3 617.6,1783.3 617.9,1785.9 618.3,1787.2 618.7,1788.0 619.0,1788.5 619.4,1788.8 619.7,1789.1 620.1,1789.3 620.5,1789.4 620.8,1789.5 621.2,1789.6 621.6,1789.6 622.3,1789.7 623.4,1789.8 625.9,1789.7 626.6,1789.6 627.4,1789.5 627.7,1789.5 628.1,1789.4 628.4,1789.3 628.8,1789.2 629.2,1789.1 629.5,1788.9 629.9,1788.7 630.3,1788.5 630.6,1788.2 631.0,1787.7 631.3,1787.2 631.7,1786.4 632.1,1785.2 632.4,1783.5 632.8,1780.6 633.2,1775.3 633.5,1764.8 633.9,1745.2 634.2,1718.6 634.5,1709.7 634.6,1712.0 635.0,1736.1 635.3,1759.1 635.7,1772.4 636.1,1779.1 636.4,1782.7 636.8,1784.7 637.1,1786.0 637.5,1787.0 637.9,1787.6 638.2,1788.1 638.6,1788.4 639.0,1788.7 639.3,1788.9 639.7,1789.1 640.0,1789.3 640.4,1789.4 640.8,1789.5 641.1,1789.6 641.5,1789.6 641.9,1789.7 642.2,1789.7 642.9,1789.8 643.7,1789.9 644.4,1789.9 645.5,1790.0 646.9,1790.1 649.1,1790.1 652.4,1790.2 663.6,1790.1 664.0,1790.1 664.3,1789.9 664.7,1789.7 665.0,1789.3 665.4,1789.0 665.5,1789.0 665.8,1789.2 666.1,1789.6 666.5,1789.9 666.9,1790.0 667.2,1790.1 667.9,1790.2 669.8,1790.2 683.9,1790.2 685.3,1790.1 686.1,1790.0 686.4,1790.0 686.8,1789.9 687.2,1789.9 687.5,1789.7 687.9,1789.6 688.2,1789.3 688.6,1788.9 689.0,1788.2 689.3,1786.7 689.7,1784.0 690.1,1780.2 690.3,1779.0 690.4,1779.3 690.8,1782.7 691.1,1785.9 691.5,1787.8 691.9,1788.7 692.2,1789.2 692.6,1789.5 693.0,1789.7 693.3,1789.8 693.7,1789.9 694.0,1790.0 694.4,1790.0 695.1,1790.1 696.2,1790.2 698.0,1790.2 704.2,1790.3 733.2,1790.2 735.4,1790.2 736.4,1790.1 737.2,1790.1 737.5,1790.0 737.9,1790.0 738.3,1789.9 738.6,1789.8 739.0,1789.6 739.3,1789.3 739.7,1788.9 740.1,1788.0 740.4,1786.3 740.8,1783.5 741.2,1781.0 741.2,1781.0 741.5,1782.4 741.9,1785.5 742.2,1787.6 742.6,1788.7 743.0,1789.2 743.3,1789.5 743.7,1789.7 744.1,1789.8 744.4,1789.9 744.8,1790.0 745.5,1790.1 746.6,1790.1 754.2,1790.1 755.3,1790.0 756.0,1789.9 756.4,1789.8 756.7,1789.8 757.1,1789.7 757.5,1789.6 757.8,1789.4 758.2,1789.2 758.5,1788.9 758.9,1788.5 759.3,1787.8 759.6,1786.7 760.0,1784.4 760.4,1780.0 760.7,1772.6 761.1,1766.1 761.1,1765.9 761.4,1769.7 761.8,1777.7 762.2,1783.2 762.5,1786.0 762.9,1787.5 763.3,1788.3 763.6,1788.8 764.0,1789.1 764.3,1789.3 764.7,1789.5 765.1,1789.6 765.4,1789.7 765.8,1789.8 766.2,1789.8 766.9,1789.9 770.1,1789.8 770.5,1789.7 770.9,1789.7 771.2,1789.5 771.6,1789.4 772.0,1789.2 772.3,1789.0 772.7,1788.5 773.0,1787.9 773.4,1786.8 773.8,1784.6 774.1,1780.4 774.5,1773.4 774.9,1767.1 774.9,1766.9 775.2,1770.6 775.6,1778.3 775.9,1783.5 776.3,1786.2 776.7,1787.6 777.0,1788.4 777.4,1788.9 777.8,1789.2 778.1,1789.4 778.5,1789.6 778.8,1789.7 779.2,1789.8 779.6,1789.9 779.9,1789.9 780.7,1790.0 781.4,1790.1 782.5,1790.1 784.3,1790.2 787.9,1790.2 809.3,1790.2 810.7,1790.1 811.5,1790.0 811.8,1790.0 812.2,1789.9 812.5,1789.8 812.9,1789.7 813.3,1789.5 813.6,1789.3 814.0,1788.9 814.4,1788.1 814.7,1786.6 815.1,1783.7 815.4,1779.9 815.7,1778.6 815.8,1778.9 816.2,1782.4 816.5,1785.8 816.9,1787.7 817.3,1788.7 817.6,1789.2 818.0,1789.5 818.3,1789.7 818.7,1789.8 819.1,1789.9 819.4,1789.9 819.8,1790.0 820.5,1790.1 821.6,1790.1 824.1,1790.2 829.9,1790.1 831.0,1790.1 831.8,1790.0 832.5,1789.9 832.8,1789.9 833.2,1789.8 833.6,1789.7 833.9,1789.6 834.3,1789.4 834.7,1789.1 835.0,1788.7 835.4,1788.1 835.7,1786.8 836.1,1784.4 836.5,1779.9 836.8,1773.8 837.1,1771.8 837.2,1772.3 837.6,1777.8 837.9,1783.1 838.3,1786.2 838.6,1787.7 839.0,1788.5 839.4,1789.0 839.7,1789.3 840.1,1789.5 840.5,1789.7 840.8,1789.8 841.2,1789.9 841.5,1789.9 841.9,1790.0 842.6,1790.0 843.7,1790.1 845.5,1790.2 859.3,1790.1 860.4,1790.0 861.1,1790.0 861.5,1789.9 861.8,1789.8 862.2,1789.7 862.6,1789.5 862.9,1789.2 863.3,1788.5 863.6,1787.3 864.0,1786.2 864.1,1786.2 864.4,1786.8 864.7,1788.0 865.1,1788.8 865.5,1789.2 865.8,1789.4 866.2,1789.4 866.5,1789.4 866.9,1789.4 867.3,1789.3 867.6,1789.1 868.0,1788.9 868.4,1788.6 868.7,1788.1 869.1,1787.4 869.4,1786.3 869.8,1784.1 870.2,1779.9 870.5,1772.0 870.9,1761.3 871.1,1757.7 871.3,1758.6 871.6,1768.3 872.0,1777.6 872.3,1783.0 872.7,1785.7 873.1,1787.1 873.4,1787.9 873.8,1788.4 874.2,1788.8 874.5,1789.0 874.9,1789.2 875.2,1789.3 875.6,1789.4 876.0,1789.5 877.1,1789.4 877.4,1789.4 877.8,1789.3 878.1,1789.1 878.5,1788.8 878.9,1788.4 879.2,1787.6 879.6,1786.1 880.0,1783.1 880.3,1778.0 880.7,1773.6 880.7,1773.4 881.0,1776.1 881.4,1781.6 881.8,1785.3 882.1,1787.3 882.5,1788.3 882.9,1788.8 883.2,1789.2 883.6,1789.4 883.9,1789.6 884.3,1789.7 884.7,1789.8 885.0,1789.8 885.4,1789.9 886.1,1790.0 887.2,1790.0 893.0,1790.0 893.7,1789.9 894.1,1789.8 894.4,1789.8 894.8,1789.7 895.2,1789.6 895.5,1789.4 895.9,1789.1 896.3,1788.8 896.6,1788.1 897.0,1786.9 897.3,1784.6 897.7,1780.3 898.1,1774.5 898.3,1772.5 898.4,1773.0 898.8,1778.3 899.2,1783.4 899.5,1786.3 899.9,1787.8 900.2,1788.6 900.6,1789.0 901.0,1789.3 901.3,1789.5 901.7,1789.7 902.1,1789.8 902.4,1789.8 902.8,1789.9 903.5,1790.0 904.2,1790.0 906.0,1790.1 907.9,1790.0 908.2,1790.0 908.6,1789.9 908.9,1789.8 909.3,1789.6 909.7,1789.3 910.0,1788.6 910.4,1787.5 910.8,1786.5 910.8,1786.4 911.1,1787.0 911.5,1788.3 911.8,1789.1 912.2,1789.6 912.6,1789.8 912.9,1789.9 913.3,1790.0 913.7,1790.1 914.4,1790.1 915.8,1790.2 932.1,1790.1 933.6,1790.1 934.7,1790.0 935.4,1789.9 935.8,1789.9 936.1,1789.8 936.5,1789.8 936.8,1789.7 937.2,1789.6 937.6,1789.5 937.9,1789.3 938.3,1789.1 938.7,1788.9 939.0,1788.5 939.4,1787.9 939.7,1787.0 940.1,1785.4 940.5,1782.4 940.8,1776.5 941.2,1766.7 941.6,1758.0 941.6,1757.7 941.9,1762.8 942.3,1773.5 942.6,1780.7 943.0,1784.5 943.4,1786.5 943.7,1787.5 944.1,1788.2 944.5,1788.6 944.8,1788.9 945.2,1789.1 945.5,1789.2 945.9,1789.2 946.3,1789.2 946.6,1789.2 947.0,1789.0 947.4,1788.8 947.7,1788.2 948.1,1787.0 948.4,1784.8 948.8,1781.8 949.1,1780.8 949.2,1781.0 949.5,1783.8 949.9,1786.5 950.3,1788.0 950.6,1788.7 951.0,1789.1 951.3,1789.4 951.7,1789.5 952.1,1789.6 952.8,1789.7 953.2,1789.6 953.5,1789.6 953.9,1789.5 954.2,1789.3 954.6,1789.0 955.0,1788.5 955.3,1787.3 955.7,1785.2 956.1,1782.3 956.3,1781.3 956.4,1781.6 956.8,1784.2 957.1,1786.7 957.5,1788.2 957.9,1788.9 958.2,1789.3 958.6,1789.5 959.0,1789.7 959.3,1789.8 959.7,1789.8 960.4,1789.9 961.9,1789.9 962.2,1789.8 962.6,1789.7 962.9,1789.6 963.3,1789.3 963.7,1788.8 964.0,1787.9 964.4,1786.2 964.8,1783.8 965.0,1783.0 965.1,1783.2 965.5,1785.4 965.8,1787.4 966.2,1788.6 966.6,1789.2 966.9,1789.5 967.3,1789.7 967.7,1789.9 968.0,1789.9 968.4,1790.0 969.1,1790.1 970.2,1790.1 972.0,1790.2 983.2,1790.1 984.3,1790.1 984.7,1790.0 985.0,1789.9 985.4,1789.9 985.8,1789.7 986.1,1789.6 986.5,1789.3 986.9,1788.7 987.2,1787.6 987.6,1785.6 987.9,1782.9 988.2,1782.0 988.3,1782.2 988.7,1784.7 989.0,1787.1 989.4,1788.4 989.8,1789.1 990.1,1789.5 990.5,1789.7 990.8,1789.8 991.2,1789.9 991.6,1790.0 992.3,1790.1 993.4,1790.1 996.3,1790.2 999.9,1790.1 1001.0,1790.1 1001.4,1790.0 1001.7,1790.0 1002.1,1789.9 1002.4,1789.8 1002.8,1789.7 1003.2,1789.4 1003.5,1789.0 1003.9,1788.3 1004.3,1786.8 1004.6,1784.2 1005.0,1782.0 1005.0,1782.0 1005.3,1783.3 1005.7,1786.0 1006.1,1787.8 1006.4,1788.8 1006.8,1789.3 1007.2,1789.6 1007.5,1789.8 1007.9,1789.9 1008.2,1789.9 1008.6,1790.0 1009.3,1790.1 1010.4,1790.1 1016.2,1790.1 1016.9,1790.0 1017.7,1789.9 1018.0,1789.9 1018.4,1789.8 1018.8,1789.7 1019.1,1789.6 1019.5,1789.4 1019.8,1789.2 1020.2,1788.8 1020.6,1788.3 1020.9,1787.3 1021.3,1785.4 1021.7,1781.8 1022.0,1775.6 1022.4,1770.2 1022.4,1770.1 1022.7,1773.2 1023.1,1779.9 1023.5,1784.4 1023.8,1786.8 1024.2,1788.0 1024.6,1788.6 1024.9,1789.0 1025.3,1789.3 1025.6,1789.5 1026.0,1789.6 1026.4,1789.7 1026.7,1789.8 1027.1,1789.9 1027.8,1789.9 1030.3,1789.9 1030.7,1789.8 1031.1,1789.8 1031.4,1789.6 1031.8,1789.3 1032.2,1788.8 1032.5,1787.7 1032.9,1785.9 1033.2,1784.3 1033.3,1784.2 1033.6,1785.2 1034.0,1787.1 1034.3,1788.5 1034.7,1789.2 1035.1,1789.6 1035.4,1789.8 1035.8,1789.9 1036.1,1790.0 1036.5,1790.0 1037.2,1790.1 1038.3,1790.2 1040.5,1790.2 1063.0,1790.2 1063.7,1790.1 1064.1,1790.1 1064.4,1790.0 1064.8,1789.9 1065.1,1789.8 1065.5,1789.6 1065.9,1789.2 1066.2,1788.4 1066.6,1787.1 1067.0,1785.9 1067.0,1785.9 1067.3,1786.6 1067.7,1788.0 1068.0,1788.9 1068.4,1789.4 1068.8,1789.7 1069.1,1789.8 1069.5,1789.9 1071.3,1789.9 1071.7,1789.8 1072.0,1789.7 1072.4,1789.5 1072.7,1789.3 1073.1,1788.8 1073.5,1788.0 1073.8,1786.3 1074.2,1783.5 1074.6,1781.0 1074.6,1780.9 1074.9,1782.4 1075.3,1785.4 1075.6,1787.5 1076.0,1788.6 1076.4,1789.1 1076.7,1789.4 1077.1,1789.6 1077.5,1789.7 1077.8,1789.8 1078.5,1789.8 1079.6,1789.8 1080.0,1789.7 1080.4,1789.6 1080.7,1789.5 1081.1,1789.3 1081.4,1789.0 1081.8,1788.3 1082.2,1787.2 1082.5,1784.9 1082.9,1781.0 1083.3,1777.6 1083.3,1777.5 1083.6,1779.5 1084.0,1783.7 1084.3,1786.6 1084.7,1788.1 1085.1,1788.8 1085.4,1789.2 1085.8,1789.5 1086.2,1789.7 1086.5,1789.8 1086.9,1789.9 1087.2,1790.0 1087.6,1790.0 1088.3,1790.1 1089.4,1790.1 1091.2,1790.2 1095.6,1790.3 1098.0,1790.3" fill="none" stroke="#008000" stroke-width="3" stroke-linejoin="round" />
</g>
<g filter="url(#bin)">
<text x="267.10" y="1291.00" font-size="67" fill="#008000" stroke="#008000" stroke-width="1" stroke-linejoin="miter">*</text>
<text x="365.10" y="1267.60" font-size="67" fill="#008000" stroke="#008000" stroke-width="1" stroke-linejoin="miter">*</text>
<text x="605.10" y="1401.00" font-size="67" fill="#008000" stroke="#008000" stroke-width="1" stroke-linejoin="miter">*</text>
<text x="807.10" y="1391.00" font-size="67" fill="#008000" stroke="#008000" stroke-width="1" stroke-linejoin="miter">*</text>
<text x="1070.10" y="1399.00" font-size="67" fill="#008000" stroke="#008000" stroke-width="1" stroke-linejoin="miter">*</text>
<text transform="translate(431.93,1613.3) scale(1.0249,1.04)" font-size="37.7" fill="#ff0000">Nb<tspan dy="9.6" font-size="25.5">10.7</tspan><tspan dy="-9.6">V</tspan><tspan dy="9.6" font-size="25.5">2.38</tspan><tspan dy="-9.6">O</tspan><tspan dy="9.6" font-size="25.5">32.7</tspan><tspan dy="-9.6"> ICDD No. 04-017-0387</tspan></text>
<text transform="translate(587.30,1825) scale(1.0155,1.04)" font-size="37.7" fill="#008000">V<tspan dy="9.6" font-size="25.5">2</tspan><tspan dy="-9.6">O</tspan><tspan dy="9.6" font-size="25.5">5</tspan><tspan dy="-9.6"> ICDD No. 01-076-1803</tspan></text>
</g>
<g shape-rendering="crispEdges">
<rect x="118" y="1081" width="4" height="794" fill="#000"/>
<rect x="1094" y="1081" width="4" height="794" fill="#000"/>
<rect x="118" y="1871" width="982" height="4" fill="#000"/>
<rect x="190" y="1875" width="4" height="14" fill="#000"/>
<rect x="281" y="1875" width="4" height="7" fill="#000"/>
<rect x="371" y="1875" width="4" height="14" fill="#000"/>
<rect x="462" y="1875" width="4" height="7" fill="#000"/>
<rect x="552" y="1875" width="4" height="14" fill="#000"/>
<rect x="643" y="1875" width="4" height="7" fill="#000"/>
<rect x="734" y="1875" width="4" height="14" fill="#000"/>
<rect x="824" y="1875" width="4" height="7" fill="#000"/>
<rect x="915" y="1875" width="4" height="14" fill="#000"/>
<rect x="1005" y="1875" width="4" height="7" fill="#000"/>
<rect x="1096" y="1875" width="4" height="14" fill="#000"/>
</g>
<g filter="url(#bin)">
<text transform="translate(192.0,1943.0) scale(0.985,1.005)" font-size="56" text-anchor="middle">10</text>
<text transform="translate(373.2,1943.0) scale(0.985,1.005)" font-size="56" text-anchor="middle">20</text>
<text transform="translate(554.4,1943.0) scale(0.985,1.005)" font-size="56" text-anchor="middle">30</text>
<text transform="translate(735.6,1943.0) scale(0.985,1.005)" font-size="56" text-anchor="middle">40</text>
<text transform="translate(916.8,1943.0) scale(0.985,1.005)" font-size="56" text-anchor="middle">50</text>
<text transform="translate(1098.0,1943.0) scale(0.985,1.005)" font-size="56" text-anchor="middle">60</text>
<text transform="translate(563.81,2022.9) scale(1.0295,1.02)" font-size="57">2θ, <tspan dy="-18.2" font-size="39">o</tspan></text>
<text transform="translate(65.5,1616.37) rotate(-90) scale(1.0145,1.045)" font-size="57">Intensity, a.u.</text>
<text transform="translate(653.02,1130) scale(0.994,1.05)" font-size="62" font-weight="bold">NbVO<tspan dy="14" font-size="38">x</tspan><tspan dy="-14">-CC12</tspan></text>
</g>
<clipPath id="c4"><rect x="1409" y="1089.5" width="982" height="790"/></clipPath>
<g clip-path="url(#c4)" shape-rendering="crispEdges">
<polyline points="1411.0,1455.0 1413.0,1455.0 1416.7,1455.0 1420.0,1457.0 1423.3,1456.7 1426.7,1458.3 1429.2,1455.0 1431.2,1452.5 1433.0,1455.0 1434.7,1459.7 1438.3,1461.3 1441.7,1461.7 1444.7,1461.3 1448.3,1464.2 1453.3,1465.0 1458.3,1465.3 1462.5,1467.5 1465.8,1468.0 1470.0,1470.0 1474.2,1469.2 1478.3,1470.3 1481.7,1468.7 1483.8,1463.3 1485.3,1451.7 1486.7,1447.5 1488.0,1452.5 1489.2,1465.0 1490.5,1472.5 1494.2,1474.7 1498.3,1475.0 1502.5,1476.7 1506.7,1479.2 1510.0,1478.3 1512.0,1480.0 1514.2,1479.2 1516.7,1481.3 1520.8,1481.3 1525.0,1482.0 1529.2,1484.2 1531.7,1483.0 1535.8,1483.7 1540.0,1484.7 1544.2,1485.0 1548.3,1486.3 1553.3,1486.7 1557.5,1487.0 1559.5,1484.2 1560.8,1482.5 1562.5,1485.0 1564.2,1487.5 1566.7,1489.2 1570.8,1489.2 1575.0,1489.7 1579.2,1490.5 1583.3,1490.5 1587.5,1490.0 1590.0,1488.3 1591.7,1483.3 1593.0,1475.0 1594.5,1471.7 1595.8,1480.0 1597.2,1489.2 1599.2,1491.7 1602.5,1492.5 1606.7,1493.0 1610.8,1493.7 1614.2,1494.2 1617.5,1493.0 1620.8,1493.0 1623.3,1491.7 1625.8,1490.0 1628.3,1492.5 1630.8,1493.7 1635.0,1494.2 1638.3,1495.3 1643.3,1495.3 1648.3,1495.3 1651.7,1496.3 1655.8,1496.3 1659.2,1495.3 1662.0,1495.0 1663.3,1486.7 1664.3,1470.0 1665.3,1463.0 1666.3,1470.0 1667.5,1486.7 1668.7,1494.7 1670.8,1496.3 1672.8,1494.2 1674.7,1496.7 1677.5,1497.5 1681.7,1497.5 1685.8,1497.0 1688.0,1493.3 1689.5,1481.7 1690.8,1469.2 1691.7,1466.7 1693.0,1473.3 1694.2,1486.7 1695.8,1494.2 1697.8,1496.7 1700.8,1496.3 1703.0,1493.3 1704.2,1473.3 1705.0,1423.3 1705.7,1356.7 1706.5,1128.5 1707.5,1156.7 1708.2,1282.0 1708.8,1373.3 1709.5,1440.0 1710.8,1453.3 1712.5,1465.0 1714.2,1457.2 1715.5,1458.3 1716.7,1476.7 1718.0,1491.7 1719.7,1497.5 1722.5,1498.7 1725.0,1498.0 1727.5,1495.3 1729.2,1498.3 1731.7,1497.5 1733.8,1491.7 1735.3,1483.3 1736.7,1490.0 1738.3,1498.3 1741.7,1499.7 1744.2,1497.5 1745.8,1486.7 1747.0,1480.0 1748.7,1483.3 1750.0,1493.3 1751.7,1497.5 1755.0,1498.7 1758.0,1496.3 1759.7,1486.7 1760.8,1474.2 1762.0,1481.7 1763.3,1493.3 1765.0,1488.3 1766.0,1473.3 1767.0,1465.8 1768.3,1473.3 1769.5,1486.7 1770.8,1489.2 1772.5,1485.0 1773.7,1465.0 1774.5,1440.0 1775.5,1421.7 1776.7,1421.7 1777.5,1440.0 1778.3,1473.3 1779.3,1491.7 1780.8,1496.7 1783.0,1495.0 1785.0,1498.3 1788.3,1500.3 1792.5,1500.8 1796.7,1500.8 1800.0,1499.2 1802.0,1491.7 1803.3,1484.2 1804.7,1490.0 1805.8,1498.3 1808.3,1500.8 1811.7,1501.3 1816.7,1501.3 1820.8,1500.0 1822.5,1494.2 1824.2,1491.3 1825.8,1496.7 1827.5,1500.0 1830.8,1500.3 1833.3,1496.7 1835.0,1481.7 1836.0,1448.3 1836.7,1423.3 1837.5,1417.5 1838.7,1431.7 1839.5,1456.7 1840.5,1458.3 1841.3,1440.0 1842.5,1423.3 1843.7,1421.7 1844.7,1448.3 1845.3,1481.7 1846.7,1491.7 1848.0,1481.7 1849.0,1465.0 1850.0,1459.7 1851.3,1465.0 1852.5,1481.7 1853.7,1493.3 1855.3,1499.2 1858.3,1499.7 1860.3,1493.3 1862.0,1490.0 1864.2,1495.8 1865.5,1486.7 1867.0,1480.0 1868.3,1483.3 1869.7,1495.0 1871.3,1499.7 1874.2,1501.3 1876.7,1500.3 1878.3,1490.0 1879.5,1473.3 1880.8,1458.3 1882.0,1458.3 1883.3,1470.0 1884.7,1486.7 1886.2,1499.2 1888.3,1501.3 1892.5,1500.8 1895.0,1502.5 1898.3,1503.0 1900.8,1500.8 1902.8,1497.5 1904.5,1500.8 1906.7,1503.7 1910.8,1504.2 1915.0,1504.2 1919.2,1503.3 1921.3,1496.7 1922.8,1485.0 1924.2,1488.3 1925.3,1498.3 1927.2,1498.3 1928.7,1486.7 1930.0,1482.5 1931.2,1488.3 1932.2,1500.0 1934.2,1504.2 1937.5,1505.3 1941.7,1505.3 1945.8,1505.3 1949.2,1503.0 1953.3,1503.0 1956.2,1501.3 1958.3,1503.7 1961.7,1504.7 1965.0,1503.7 1967.5,1500.8 1970.0,1500.3 1972.0,1502.5 1974.7,1501.7 1976.7,1496.7 1978.0,1483.3 1979.5,1474.2 1980.8,1478.3 1982.0,1470.0 1983.3,1464.2 1984.7,1470.0 1985.8,1490.0 1987.5,1500.8 1989.7,1495.8 1991.3,1501.7 1993.7,1504.7 1995.8,1502.5 1998.0,1499.2 2000.0,1501.7 2002.0,1504.7 2004.2,1504.2 2006.2,1501.3 2008.0,1505.0 2010.8,1505.0 2013.0,1501.7 2014.7,1493.3 2016.2,1491.3 2017.8,1496.7 2019.5,1503.3 2022.5,1504.2 2026.7,1505.8 2031.7,1506.3 2036.7,1505.8 2040.8,1504.7 2043.3,1505.3 2047.5,1506.3 2051.7,1505.0 2054.2,1503.3 2056.3,1502.0 2058.7,1505.0 2060.8,1504.2 2063.0,1500.0 2065.0,1496.7 2067.0,1500.8 2069.2,1504.7 2072.5,1505.3 2075.8,1503.7 2078.0,1498.3 2079.7,1494.7 2081.2,1498.3 2082.5,1505.0 2085.8,1505.8 2090.0,1505.8 2093.3,1504.2 2095.3,1499.2 2097.0,1497.5 2098.7,1500.8 2100.3,1505.3 2104.2,1505.8 2108.3,1505.8 2112.5,1505.8 2115.8,1506.7 2119.2,1505.8 2123.0,1505.0 2125.0,1500.8 2126.2,1481.7 2127.0,1448.3 2127.8,1421.7 2128.7,1415.0 2129.5,1431.7 2130.0,1456.7 2130.8,1481.7 2131.7,1498.3 2133.3,1499.2 2135.0,1494.2 2136.7,1496.7 2138.3,1501.3 2140.8,1503.3 2143.3,1500.8 2145.0,1496.7 2146.7,1496.7 2148.3,1500.8 2150.8,1503.0 2153.3,1503.7 2155.8,1505.3 2158.3,1503.3 2160.8,1499.2 2163.0,1497.5 2164.7,1500.0 2166.3,1504.2 2169.2,1505.3 2171.7,1503.3 2174.2,1501.3 2176.7,1502.0 2178.7,1504.2 2180.8,1502.5 2183.0,1498.3 2184.7,1486.7 2186.2,1470.0 2187.5,1461.7 2188.7,1463.3 2189.7,1476.7 2190.8,1493.3 2192.5,1500.8 2195.0,1503.7 2197.5,1504.7 2200.0,1501.7 2202.5,1500.3 2204.7,1502.5 2206.7,1504.2 2209.2,1504.2 2211.3,1500.8 2213.0,1499.2 2215.0,1502.5 2217.0,1505.3 2220.0,1505.3 2222.5,1503.3 2224.7,1500.0 2226.7,1501.7 2228.7,1504.2 2231.3,1502.5 2233.3,1495.0 2235.0,1488.3 2236.7,1486.3 2238.3,1491.7 2240.0,1497.5 2242.0,1496.7 2243.7,1491.7 2245.8,1489.2 2247.5,1481.7 2248.7,1471.7 2250.0,1469.7 2251.3,1476.7 2252.5,1490.0 2253.7,1496.7 2255.3,1490.0 2256.7,1485.0 2258.0,1487.5 2259.2,1498.3 2260.8,1498.3 2262.5,1492.5 2264.2,1494.2 2265.5,1498.3 2266.7,1490.0 2268.0,1489.2 2269.2,1496.7 2270.8,1502.5 2273.3,1505.3 2276.7,1505.3 2280.8,1504.7 2283.3,1500.0 2285.0,1486.7 2286.3,1478.0 2287.8,1478.3 2288.8,1488.3 2290.3,1497.5 2292.5,1498.3 2295.0,1501.7 2297.5,1503.3 2300.0,1502.0 2301.7,1495.0 2303.3,1485.0 2305.3,1480.0 2307.0,1480.0 2308.3,1490.0 2309.5,1500.8 2311.7,1501.3 2314.2,1504.2 2316.7,1503.3 2318.3,1502.0 2320.3,1505.0 2324.2,1505.3 2327.5,1505.0 2329.7,1499.2 2331.7,1495.8 2333.7,1498.3 2335.3,1501.3 2337.5,1500.3 2339.2,1496.7 2341.7,1495.8 2343.0,1488.3 2344.7,1484.2 2346.2,1488.3 2347.5,1497.5 2349.7,1498.7 2351.7,1495.8 2353.3,1495.8 2355.0,1501.3 2357.5,1505.0 2360.8,1505.3 2364.2,1503.3 2366.3,1502.0 2368.7,1504.2 2371.7,1505.3 2374.2,1504.7 2375.8,1502.0 2378.3,1501.7 2380.8,1499.7 2383.0,1497.5 2385.0,1501.7 2387.0,1502.5 2389.0,1502.5" fill="none" stroke="#000" stroke-width="3" stroke-linejoin="round" />
<polyline points="1411.0,1721.0 1424.4,1720.9 1426.2,1720.9 1427.3,1720.8 1427.7,1720.8 1428.0,1720.7 1428.4,1720.6 1428.8,1720.5 1429.1,1720.3 1429.5,1719.9 1429.8,1719.0 1430.2,1716.9 1430.6,1713.3 1430.9,1710.1 1431.0,1710.0 1431.3,1711.9 1431.7,1715.8 1432.0,1718.5 1432.4,1719.7 1432.7,1720.2 1433.1,1720.5 1433.5,1720.6 1433.8,1720.7 1434.2,1720.7 1434.9,1720.8 1436.0,1720.9 1438.2,1720.9 1475.5,1720.9 1477.3,1720.8 1478.4,1720.7 1478.8,1720.7 1479.1,1720.6 1479.5,1720.6 1479.9,1720.5 1480.2,1720.3 1480.6,1720.1 1480.9,1719.5 1481.3,1718.3 1481.7,1715.8 1482.0,1712.4 1482.3,1711.2 1482.4,1711.5 1482.8,1714.4 1483.1,1717.2 1483.5,1718.6 1483.8,1719.0 1484.2,1718.9 1484.6,1718.4 1484.9,1717.0 1485.3,1713.3 1485.7,1705.7 1486.0,1695.5 1486.3,1692.1 1486.4,1693.0 1486.7,1702.2 1487.1,1711.3 1487.5,1716.2 1487.8,1718.3 1488.2,1719.2 1488.6,1719.7 1488.9,1720.0 1489.3,1720.2 1489.6,1720.4 1490.0,1720.5 1490.4,1720.6 1490.7,1720.6 1491.1,1720.7 1491.8,1720.8 1492.5,1720.8 1493.6,1720.9 1495.8,1720.9 1501.2,1721.0 1557.4,1720.9 1558.1,1720.9 1558.5,1720.8 1558.9,1720.7 1559.2,1720.6 1559.6,1720.2 1559.9,1719.4 1560.3,1718.0 1560.7,1716.8 1560.7,1716.7 1561.0,1717.4 1561.4,1719.0 1561.8,1720.0 1562.1,1720.5 1562.5,1720.7 1562.8,1720.8 1563.2,1720.8 1563.9,1720.9 1565.7,1721.0 1586.0,1720.9 1587.5,1720.8 1588.6,1720.8 1589.3,1720.7 1589.7,1720.6 1590.0,1720.5 1590.4,1720.4 1590.8,1720.3 1591.1,1720.1 1591.5,1719.7 1591.8,1719.2 1592.2,1717.9 1592.6,1714.8 1592.9,1708.4 1593.3,1699.8 1593.5,1696.9 1593.6,1697.7 1594.0,1705.4 1594.4,1712.9 1594.7,1717.1 1595.1,1718.8 1595.5,1719.6 1595.8,1720.0 1596.2,1720.2 1596.5,1720.4 1596.9,1720.5 1597.3,1720.6 1597.6,1720.7 1598.0,1720.7 1598.7,1720.8 1599.8,1720.9 1601.6,1720.9 1606.0,1721.0 1654.2,1720.9 1657.1,1720.9 1658.5,1720.8 1659.6,1720.7 1660.3,1720.7 1660.7,1720.6 1661.1,1720.5 1661.4,1720.5 1661.8,1720.3 1662.1,1720.2 1662.5,1720.0 1662.9,1719.7 1663.2,1719.3 1663.6,1718.5 1664.0,1716.8 1664.3,1712.7 1664.7,1704.3 1665.0,1692.9 1665.3,1689.2 1665.4,1690.1 1665.8,1700.3 1666.1,1710.3 1666.5,1715.8 1666.9,1718.1 1667.2,1719.0 1667.6,1719.6 1667.9,1719.9 1668.3,1720.1 1668.7,1720.2 1669.0,1720.4 1669.4,1720.4 1670.1,1720.5 1670.8,1720.5 1671.2,1720.3 1671.6,1719.9 1671.9,1719.2 1672.3,1718.5 1672.4,1718.5 1672.7,1718.9 1673.0,1719.7 1673.4,1720.3 1673.7,1720.5 1674.1,1720.6 1674.5,1720.7 1675.2,1720.8 1678.1,1720.8 1682.4,1720.8 1684.2,1720.7 1685.3,1720.6 1686.1,1720.6 1686.4,1720.5 1686.8,1720.5 1687.1,1720.4 1687.5,1720.3 1687.9,1720.2 1688.2,1720.1 1688.6,1719.9 1689.0,1719.7 1689.3,1719.3 1689.7,1718.7 1690.0,1717.5 1690.4,1714.8 1690.8,1708.4 1691.1,1697.4 1691.5,1688.0 1691.6,1687.7 1691.9,1693.2 1692.2,1705.0 1692.6,1713.0 1692.9,1716.7 1693.3,1718.3 1693.7,1719.0 1694.0,1719.4 1694.4,1719.6 1694.8,1719.8 1695.1,1719.9 1695.5,1720.0 1695.8,1720.0 1698.4,1720.0 1698.7,1719.9 1699.1,1719.9 1699.5,1719.8 1699.8,1719.7 1700.2,1719.6 1700.6,1719.5 1700.9,1719.3 1701.3,1719.2 1701.6,1718.9 1702.0,1718.7 1702.4,1718.4 1702.7,1718.0 1703.1,1717.5 1703.5,1716.9 1703.8,1716.0 1704.2,1714.9 1704.5,1713.4 1704.9,1711.2 1705.3,1707.8 1705.6,1701.9 1706.0,1689.0 1706.4,1657.6 1706.7,1593.2 1707.1,1506.4 1707.3,1478.0 1707.4,1485.1 1707.8,1562.3 1708.2,1638.2 1708.5,1679.2 1708.9,1695.8 1709.3,1701.1 1709.6,1699.8 1710.0,1691.5 1710.3,1678.6 1710.6,1674.6 1710.7,1676.2 1711.1,1690.0 1711.4,1703.3 1711.8,1710.7 1712.2,1713.9 1712.5,1715.2 1712.9,1715.8 1713.2,1716.0 1713.6,1715.6 1714.0,1714.4 1714.3,1710.9 1714.7,1702.3 1715.1,1687.3 1715.4,1674.4 1715.5,1674.0 1715.8,1681.7 1716.1,1698.2 1716.5,1709.4 1716.9,1714.7 1717.2,1716.9 1717.6,1717.9 1718.0,1718.6 1718.3,1719.0 1718.7,1719.3 1719.0,1719.6 1719.4,1719.7 1719.8,1719.9 1720.1,1720.0 1720.5,1720.1 1720.9,1720.2 1721.2,1720.2 1721.9,1720.3 1722.7,1720.4 1723.4,1720.5 1725.2,1720.5 1725.6,1720.4 1725.9,1720.2 1726.3,1719.8 1726.7,1718.9 1727.0,1717.7 1727.3,1717.4 1727.4,1717.5 1727.7,1718.5 1728.1,1719.6 1728.5,1720.2 1728.8,1720.5 1729.2,1720.6 1729.5,1720.6 1730.3,1720.7 1731.4,1720.8 1733.5,1720.8 1742.2,1720.7 1743.0,1720.7 1743.3,1720.6 1743.7,1720.5 1744.0,1720.4 1744.4,1720.3 1744.8,1720.0 1745.1,1719.4 1745.5,1717.8 1745.9,1714.7 1746.2,1710.4 1746.5,1709.0 1746.6,1709.4 1746.9,1713.2 1747.3,1716.9 1747.7,1719.0 1748.0,1719.8 1748.4,1720.2 1748.8,1720.4 1749.1,1720.5 1749.5,1720.6 1749.8,1720.6 1750.6,1720.7 1751.7,1720.8 1759.6,1720.7 1760.7,1720.6 1761.4,1720.6 1761.8,1720.5 1762.2,1720.5 1762.5,1720.4 1762.9,1720.3 1763.3,1720.2 1763.6,1720.0 1764.0,1719.7 1764.3,1719.3 1764.7,1718.7 1765.1,1717.2 1765.4,1713.5 1765.8,1706.1 1766.2,1696.1 1766.4,1692.8 1766.5,1693.6 1766.9,1702.6 1767.2,1711.3 1767.6,1716.1 1768.0,1718.1 1768.3,1718.9 1768.7,1719.3 1769.1,1719.6 1769.4,1719.7 1769.8,1719.8 1770.5,1719.8 1770.9,1719.7 1771.2,1719.6 1771.6,1719.4 1772.0,1719.2 1772.3,1718.9 1772.7,1718.4 1773.0,1717.8 1773.4,1716.8 1773.8,1715.2 1774.1,1712.0 1774.5,1704.4 1774.8,1686.8 1775.2,1656.4 1775.6,1630.4 1775.6,1629.6 1775.9,1644.8 1776.3,1677.5 1776.7,1699.7 1777.0,1710.1 1777.4,1714.4 1777.7,1716.4 1778.1,1717.6 1778.5,1718.3 1778.8,1718.9 1779.2,1719.3 1779.6,1719.6 1779.9,1719.8 1780.3,1720.0 1780.6,1720.1 1781.0,1720.2 1781.4,1720.3 1781.7,1720.4 1782.1,1720.4 1782.5,1720.5 1783.2,1720.6 1783.9,1720.6 1784.6,1720.7 1785.7,1720.7 1787.2,1720.8 1790.1,1720.8 1799.1,1720.8 1799.9,1720.7 1800.2,1720.7 1800.6,1720.6 1800.9,1720.5 1801.3,1720.4 1801.7,1720.2 1802.0,1719.8 1802.4,1718.8 1802.8,1716.5 1803.1,1712.5 1803.5,1709.2 1803.5,1709.1 1803.8,1711.0 1804.2,1715.3 1804.6,1718.2 1804.9,1719.5 1805.3,1720.1 1805.7,1720.3 1806.0,1720.5 1806.4,1720.6 1806.7,1720.7 1807.5,1720.7 1808.6,1720.8 1810.7,1720.9 1818.3,1720.8 1819.8,1720.7 1820.5,1720.7 1820.9,1720.6 1821.2,1720.5 1821.6,1720.4 1822.0,1720.1 1822.3,1719.4 1822.7,1717.9 1823.0,1715.2 1823.4,1713.0 1823.5,1712.9 1823.8,1714.2 1824.1,1717.1 1824.5,1719.0 1824.9,1719.9 1825.2,1720.2 1825.6,1720.4 1825.9,1720.5 1826.3,1720.5 1827.0,1720.6 1829.6,1720.5 1830.3,1720.5 1830.7,1720.4 1831.0,1720.4 1831.4,1720.3 1831.7,1720.2 1832.1,1720.1 1832.5,1720.0 1832.8,1719.9 1833.2,1719.7 1833.6,1719.5 1833.9,1719.2 1834.3,1718.9 1834.6,1718.3 1835.0,1717.5 1835.4,1716.3 1835.7,1713.9 1836.1,1708.1 1836.5,1694.9 1836.8,1672.1 1837.2,1652.5 1837.2,1651.9 1837.5,1663.2 1837.9,1687.5 1838.3,1704.0 1838.6,1711.6 1839.0,1714.5 1839.4,1715.6 1839.7,1716.0 1840.1,1715.8 1840.4,1715.1 1840.8,1713.4 1841.2,1709.2 1841.5,1698.8 1841.9,1677.1 1842.3,1647.9 1842.5,1638.4 1842.6,1640.8 1843.0,1667.1 1843.3,1693.0 1843.7,1707.1 1844.1,1713.1 1844.4,1715.6 1844.8,1717.0 1845.2,1717.8 1845.5,1718.4 1845.9,1718.8 1846.2,1719.0 1846.6,1719.2 1847.0,1719.3 1847.3,1719.3 1847.7,1719.2 1848.1,1719.0 1848.4,1718.6 1848.8,1717.7 1849.1,1715.5 1849.5,1710.3 1849.9,1701.4 1850.2,1693.7 1850.3,1693.4 1850.6,1698.0 1851.0,1707.7 1851.3,1714.3 1851.7,1717.4 1852.0,1718.7 1852.4,1719.3 1852.8,1719.7 1853.1,1719.9 1853.5,1720.1 1853.9,1720.2 1854.2,1720.3 1854.6,1720.4 1854.9,1720.4 1855.7,1720.5 1858.6,1720.5 1858.9,1720.4 1859.3,1720.3 1859.7,1720.1 1860.0,1719.7 1860.4,1718.8 1860.7,1716.7 1861.1,1713.1 1861.5,1710.0 1861.5,1709.9 1861.8,1711.7 1862.2,1715.6 1862.6,1718.2 1862.9,1719.5 1863.3,1720.0 1863.6,1720.2 1864.0,1720.3 1864.4,1720.3 1865.1,1720.3 1865.4,1720.2 1865.8,1720.0 1866.2,1719.7 1866.5,1718.8 1866.9,1716.6 1867.3,1712.9 1867.6,1709.8 1867.7,1709.7 1868.0,1711.5 1868.3,1715.5 1868.7,1718.2 1869.1,1719.5 1869.4,1720.0 1869.8,1720.3 1870.2,1720.4 1870.5,1720.5 1870.9,1720.6 1871.6,1720.7 1872.7,1720.7 1876.3,1720.7 1877.0,1720.6 1877.4,1720.6 1877.8,1720.5 1878.1,1720.4 1878.5,1720.3 1878.9,1720.2 1879.2,1720.0 1879.6,1719.7 1879.9,1719.2 1880.3,1718.3 1880.7,1716.1 1881.0,1711.0 1881.4,1702.3 1881.8,1694.8 1881.8,1694.6 1882.1,1698.9 1882.5,1708.1 1882.8,1714.3 1883.2,1716.9 1883.6,1717.3 1883.9,1716.0 1884.3,1713.2 1884.7,1710.6 1884.7,1710.6 1885.0,1712.3 1885.4,1715.9 1885.7,1718.3 1886.1,1719.5 1886.5,1720.0 1886.8,1720.2 1887.2,1720.4 1887.6,1720.5 1887.9,1720.5 1888.6,1720.6 1889.4,1720.6 1889.7,1720.5 1890.1,1720.3 1890.5,1719.9 1890.8,1719.0 1891.2,1718.3 1891.2,1718.3 1891.5,1718.7 1891.9,1719.7 1892.3,1720.3 1892.6,1720.6 1893.0,1720.7 1893.4,1720.8 1894.1,1720.8 1895.5,1720.9 1899.2,1720.9 1916.5,1720.9 1918.0,1720.8 1919.1,1720.7 1919.4,1720.7 1919.8,1720.6 1920.2,1720.6 1920.5,1720.5 1920.9,1720.3 1921.3,1720.0 1921.6,1719.5 1922.0,1718.3 1922.3,1715.6 1922.7,1710.9 1923.1,1706.8 1923.1,1706.7 1923.4,1709.0 1923.8,1714.1 1924.2,1717.5 1924.5,1719.1 1924.9,1719.8 1925.2,1720.0 1925.6,1720.2 1926.0,1720.2 1926.7,1720.2 1927.1,1720.1 1927.4,1719.9 1927.8,1719.5 1928.1,1718.8 1928.5,1717.1 1928.9,1713.0 1929.2,1706.0 1929.6,1700.0 1929.7,1699.8 1930.0,1703.3 1930.3,1710.9 1930.7,1716.0 1931.0,1718.4 1931.4,1719.4 1931.8,1719.9 1932.1,1720.2 1932.5,1720.3 1932.9,1720.5 1933.2,1720.6 1933.6,1720.6 1933.9,1720.7 1934.7,1720.8 1935.8,1720.8 1937.2,1720.9 1940.5,1720.9 1965.5,1720.9 1966.6,1720.8 1966.9,1720.8 1967.3,1720.7 1967.6,1720.5 1968.0,1720.2 1968.4,1719.4 1968.7,1718.4 1969.0,1718.1 1969.1,1718.1 1969.5,1719.0 1969.8,1719.9 1970.2,1720.4 1970.5,1720.6 1970.9,1720.7 1971.6,1720.7 1973.8,1720.7 1974.5,1720.6 1974.9,1720.6 1975.3,1720.5 1975.6,1720.4 1976.0,1720.3 1976.3,1720.2 1976.7,1720.0 1977.1,1719.7 1977.4,1719.3 1977.8,1718.5 1978.2,1716.5 1978.5,1712.1 1978.9,1704.4 1979.2,1697.9 1979.3,1697.7 1979.6,1701.4 1980.0,1709.4 1980.3,1714.8 1980.7,1717.2 1981.1,1718.0 1981.4,1718.0 1981.8,1717.4 1982.1,1715.7 1982.5,1711.2 1982.9,1701.9 1983.2,1689.2 1983.5,1685.1 1983.6,1686.2 1984.0,1697.6 1984.3,1708.8 1984.7,1714.9 1985.0,1717.5 1985.4,1718.6 1985.8,1719.2 1986.1,1719.6 1986.5,1719.8 1986.9,1720.0 1987.2,1720.0 1987.6,1720.0 1987.9,1720.0 1988.3,1719.7 1988.7,1718.8 1989.0,1717.1 1989.4,1714.7 1989.6,1713.9 1989.8,1714.1 1990.1,1716.3 1990.5,1718.5 1990.8,1719.7 1991.2,1720.2 1991.6,1720.4 1991.9,1720.5 1992.3,1720.6 1992.7,1720.7 1993.4,1720.7 1996.3,1720.7 1996.6,1720.6 1997.0,1720.5 1997.4,1720.3 1997.7,1719.9 1998.1,1718.8 1998.5,1716.8 1998.8,1715.2 1998.9,1715.1 1999.2,1716.1 1999.5,1718.2 1999.9,1719.6 2000.3,1720.2 2000.6,1720.5 2001.0,1720.6 2001.3,1720.7 2001.7,1720.8 2002.4,1720.8 2003.9,1720.9 2011.1,1720.8 2011.9,1720.8 2012.2,1720.7 2012.6,1720.7 2012.9,1720.6 2013.3,1720.5 2013.7,1720.3 2014.0,1720.1 2014.4,1719.4 2014.8,1717.9 2015.1,1714.7 2015.5,1710.5 2015.7,1709.1 2015.8,1709.4 2016.2,1713.3 2016.6,1717.0 2016.9,1719.0 2017.3,1719.9 2017.7,1720.3 2018.0,1720.5 2018.4,1720.6 2018.7,1720.7 2019.1,1720.7 2019.8,1720.8 2021.3,1720.9 2022.4,1720.8 2022.7,1720.7 2023.1,1720.5 2023.5,1720.1 2023.8,1719.7 2023.9,1719.7 2024.2,1719.9 2024.5,1720.4 2024.9,1720.7 2025.3,1720.8 2025.6,1720.9 2026.7,1720.9 2038.3,1720.9 2038.7,1720.8 2039.0,1720.7 2039.4,1720.3 2039.8,1719.8 2040.1,1719.3 2040.2,1719.3 2040.5,1719.5 2040.9,1720.2 2041.2,1720.6 2041.6,1720.8 2041.9,1720.9 2042.7,1720.9 2052.4,1720.9 2052.8,1720.8 2053.2,1720.8 2053.5,1720.7 2053.9,1720.5 2054.3,1720.0 2054.6,1719.0 2055.0,1717.7 2055.2,1717.2 2055.3,1717.3 2055.7,1718.5 2056.1,1719.7 2056.4,1720.4 2056.8,1720.6 2057.2,1720.7 2057.5,1720.8 2058.2,1720.9 2061.9,1720.8 2062.2,1720.7 2062.6,1720.6 2063.0,1720.5 2063.3,1720.2 2063.7,1719.6 2064.0,1718.1 2064.4,1715.6 2064.8,1713.4 2064.8,1713.4 2065.1,1714.6 2065.5,1717.4 2065.9,1719.2 2066.2,1720.1 2066.6,1720.4 2066.9,1720.6 2067.3,1720.7 2067.7,1720.8 2068.4,1720.8 2069.5,1720.9 2074.6,1720.8 2074.9,1720.8 2075.3,1720.7 2075.6,1720.7 2076.0,1720.6 2076.4,1720.4 2076.7,1720.1 2077.1,1719.6 2077.5,1718.2 2077.8,1715.3 2078.2,1711.4 2078.4,1710.1 2078.5,1710.4 2078.9,1713.9 2079.3,1717.3 2079.6,1719.2 2080.0,1720.0 2080.4,1720.3 2080.7,1720.5 2081.1,1720.6 2081.4,1720.7 2081.8,1720.8 2082.5,1720.8 2083.6,1720.9 2086.2,1720.9 2118.0,1720.9 2120.2,1720.8 2121.7,1720.8 2122.8,1720.7 2123.5,1720.6 2123.8,1720.6 2124.2,1720.5 2124.6,1720.4 2124.9,1720.3 2125.3,1720.2 2125.7,1720.1 2126.0,1719.9 2126.4,1719.6 2126.7,1719.2 2127.1,1718.6 2127.5,1717.7 2127.8,1715.9 2128.2,1711.5 2128.6,1701.5 2128.9,1684.2 2129.3,1669.3 2129.3,1668.9 2129.6,1677.5 2130.0,1696.1 2130.4,1708.8 2130.7,1714.7 2131.1,1717.1 2131.5,1718.2 2131.8,1718.9 2132.2,1719.3 2132.5,1719.5 2132.9,1719.7 2133.3,1719.7 2133.6,1719.7 2134.0,1719.4 2134.4,1718.6 2134.7,1716.6 2135.1,1713.2 2135.4,1710.3 2135.5,1710.2 2135.8,1712.0 2136.2,1715.7 2136.5,1718.3 2136.9,1719.5 2137.2,1720.0 2137.6,1720.3 2138.0,1720.4 2138.3,1720.5 2138.7,1720.6 2139.1,1720.6 2139.8,1720.7 2141.2,1720.7 2143.0,1720.7 2143.4,1720.6 2143.8,1720.6 2144.1,1720.5 2144.5,1720.3 2144.9,1720.0 2145.2,1719.2 2145.6,1717.3 2145.9,1714.1 2146.3,1711.4 2146.4,1711.3 2146.7,1712.9 2147.0,1716.3 2147.4,1718.7 2147.8,1719.8 2148.1,1720.2 2148.5,1720.5 2148.8,1720.6 2149.2,1720.7 2149.6,1720.7 2150.3,1720.8 2151.4,1720.8 2157.9,1720.8 2158.3,1720.7 2158.6,1720.7 2159.0,1720.5 2159.4,1720.1 2159.7,1719.2 2160.1,1717.7 2160.4,1716.4 2160.5,1716.4 2160.8,1717.1 2161.2,1718.8 2161.5,1719.9 2161.9,1720.4 2162.3,1720.6 2162.6,1720.7 2163.0,1720.8 2163.7,1720.8 2165.2,1720.9 2172.0,1720.8 2172.8,1720.8 2173.1,1720.7 2173.5,1720.6 2173.9,1720.4 2174.2,1720.0 2174.6,1719.0 2174.9,1717.6 2175.2,1717.2 2175.3,1717.3 2175.7,1718.5 2176.0,1719.7 2176.4,1720.3 2176.8,1720.6 2177.1,1720.7 2177.5,1720.7 2178.2,1720.8 2181.5,1720.7 2182.2,1720.6 2182.5,1720.6 2182.9,1720.5 2183.3,1720.5 2183.6,1720.4 2184.0,1720.2 2184.4,1720.1 2184.7,1719.9 2185.1,1719.6 2185.4,1719.1 2185.8,1718.3 2186.2,1716.9 2186.5,1713.3 2186.9,1705.2 2187.3,1691.1 2187.6,1679.0 2187.7,1678.7 2188.0,1685.7 2188.3,1700.9 2188.7,1711.2 2189.1,1716.0 2189.4,1717.9 2189.8,1718.9 2190.2,1719.4 2190.5,1719.8 2190.9,1720.0 2191.2,1720.2 2191.6,1720.3 2192.0,1720.4 2192.3,1720.5 2192.7,1720.6 2193.1,1720.6 2193.8,1720.7 2194.5,1720.8 2196.0,1720.8 2199.9,1720.7 2200.3,1720.7 2200.7,1720.6 2201.0,1720.3 2201.4,1719.7 2201.8,1718.4 2202.1,1716.7 2202.4,1716.2 2202.5,1716.3 2202.8,1717.8 2203.2,1719.3 2203.6,1720.2 2203.9,1720.5 2204.3,1720.7 2204.7,1720.7 2205.4,1720.8 2206.5,1720.9 2211.5,1720.8 2211.9,1720.8 2212.3,1720.7 2212.6,1720.5 2213.0,1720.1 2213.4,1719.2 2213.7,1718.0 2214.0,1717.6 2214.1,1717.7 2214.4,1718.8 2214.8,1719.8 2215.2,1720.4 2215.5,1720.7 2215.9,1720.8 2216.3,1720.8 2217.0,1720.9 2223.9,1720.8 2224.2,1720.7 2224.6,1720.5 2225.0,1720.2 2225.3,1719.3 2225.7,1718.2 2225.9,1717.9 2226.0,1718.0 2226.4,1719.0 2226.8,1719.9 2227.1,1720.4 2227.5,1720.7 2227.8,1720.7 2228.6,1720.8 2232.6,1720.7 2232.9,1720.7 2233.3,1720.6 2233.6,1720.6 2234.0,1720.5 2234.4,1720.3 2234.7,1719.9 2235.1,1719.0 2235.5,1717.0 2235.8,1713.5 2236.2,1710.5 2236.2,1710.4 2236.5,1712.2 2236.9,1715.9 2237.3,1718.5 2237.6,1719.6 2238.0,1720.1 2238.4,1720.3 2238.7,1720.5 2239.1,1720.5 2239.8,1720.6 2241.3,1720.6 2241.6,1720.5 2242.0,1720.4 2242.3,1720.3 2242.7,1720.0 2243.1,1719.4 2243.4,1717.9 2243.8,1715.3 2244.2,1713.1 2244.2,1713.0 2244.5,1714.3 2244.9,1717.0 2245.2,1718.7 2245.6,1719.5 2246.0,1719.8 2246.3,1719.8 2246.7,1719.7 2247.1,1719.6 2247.4,1719.2 2247.8,1718.6 2248.1,1717.5 2248.5,1714.6 2248.9,1708.1 2249.2,1696.7 2249.6,1686.9 2249.7,1686.6 2250.0,1692.3 2250.3,1704.6 2250.7,1712.9 2251.0,1716.8 2251.4,1718.3 2251.8,1719.1 2252.1,1719.5 2252.5,1719.7 2252.9,1719.9 2253.2,1720.0 2253.6,1720.0 2253.9,1719.9 2254.3,1719.8 2254.7,1719.4 2255.0,1718.4 2255.4,1716.0 2255.8,1711.8 2256.1,1708.2 2256.2,1708.1 2256.5,1710.2 2256.8,1714.7 2257.2,1717.8 2257.6,1719.3 2257.9,1719.9 2258.3,1720.2 2258.7,1720.3 2259.0,1720.4 2259.4,1720.5 2260.1,1720.6 2261.2,1720.6 2261.6,1720.5 2261.9,1720.4 2262.3,1720.1 2262.6,1719.3 2263.0,1718.1 2263.4,1717.0 2263.4,1716.9 2263.7,1717.6 2264.1,1718.9 2264.5,1719.8 2264.8,1720.3 2265.2,1720.4 2265.9,1720.4 2266.3,1720.3 2266.6,1720.2 2267.0,1719.9 2267.4,1719.3 2267.7,1717.8 2268.1,1714.6 2268.4,1710.4 2268.7,1709.0 2268.8,1709.4 2269.2,1713.2 2269.5,1716.9 2269.9,1719.0 2270.3,1719.8 2270.6,1720.2 2271.0,1720.4 2271.3,1720.5 2271.7,1720.6 2272.1,1720.7 2272.8,1720.8 2273.9,1720.8 2281.8,1720.8 2282.6,1720.7 2282.9,1720.7 2283.3,1720.6 2283.7,1720.5 2284.0,1720.4 2284.4,1720.3 2284.7,1720.1 2285.1,1719.7 2285.5,1719.2 2285.8,1718.0 2286.2,1715.0 2286.6,1708.8 2286.9,1700.5 2287.2,1697.8 2287.3,1698.5 2287.6,1705.9 2288.0,1713.2 2288.4,1717.2 2288.7,1718.9 2289.1,1719.6 2289.5,1720.0 2289.8,1720.2 2290.2,1720.4 2290.5,1720.5 2290.9,1720.6 2291.3,1720.6 2292.0,1720.7 2292.7,1720.8 2294.2,1720.8 2300.0,1720.8 2300.7,1720.7 2301.1,1720.7 2301.4,1720.6 2301.8,1720.5 2302.1,1720.4 2302.5,1720.3 2302.9,1720.0 2303.2,1719.4 2303.6,1718.0 2304.0,1715.2 2304.3,1711.4 2304.6,1710.1 2304.7,1710.4 2305.0,1713.6 2305.4,1716.7 2305.8,1718.3 2306.1,1718.5 2306.5,1717.5 2306.9,1714.6 2307.2,1709.4 2307.6,1704.9 2307.6,1704.8 2307.9,1707.4 2308.3,1713.2 2308.7,1717.1 2309.0,1718.9 2309.4,1719.6 2309.8,1720.0 2310.1,1720.2 2310.5,1720.2 2310.8,1720.2 2311.2,1720.0 2311.6,1719.3 2311.9,1718.5 2312.2,1718.2 2312.3,1718.3 2312.7,1719.1 2313.0,1719.9 2313.4,1720.4 2313.7,1720.6 2314.1,1720.7 2314.8,1720.8 2317.4,1720.7 2317.7,1720.7 2318.1,1720.5 2318.4,1720.0 2318.8,1719.1 2319.2,1718.4 2319.2,1718.4 2319.5,1718.8 2319.9,1719.7 2320.3,1720.3 2320.6,1720.6 2321.0,1720.8 2321.3,1720.8 2322.1,1720.9 2324.6,1720.9 2329.3,1720.9 2330.4,1720.8 2330.8,1720.7 2331.1,1720.6 2331.5,1720.5 2331.9,1720.1 2332.2,1719.1 2332.6,1717.6 2332.9,1716.2 2333.0,1716.1 2333.3,1716.9 2333.7,1718.6 2334.0,1719.8 2334.4,1720.3 2334.8,1720.5 2335.1,1720.6 2335.8,1720.7 2336.9,1720.6 2337.3,1720.5 2337.7,1720.4 2338.0,1720.1 2338.4,1719.3 2338.7,1717.8 2339.1,1715.6 2339.4,1714.9 2339.5,1715.1 2339.8,1717.0 2340.2,1718.8 2340.6,1719.8 2340.9,1720.2 2341.3,1720.3 2342.0,1720.4 2342.4,1720.3 2342.7,1720.2 2343.1,1720.0 2343.5,1719.7 2343.8,1719.1 2344.2,1717.6 2344.5,1714.2 2344.9,1708.1 2345.3,1703.0 2345.3,1702.8 2345.6,1705.8 2346.0,1712.3 2346.4,1716.7 2346.7,1718.7 2347.1,1719.6 2347.4,1720.0 2347.8,1720.2 2348.2,1720.3 2348.5,1720.4 2349.6,1720.4 2350.0,1720.3 2350.3,1720.0 2350.7,1719.4 2351.1,1717.9 2351.4,1715.3 2351.8,1713.0 2351.9,1713.0 2352.2,1714.3 2352.5,1717.1 2352.9,1719.1 2353.2,1720.0 2353.6,1720.4 2354.0,1720.5 2354.3,1720.6 2354.7,1720.7 2355.1,1720.8 2355.8,1720.8 2356.9,1720.9 2359.4,1720.9 2363.7,1720.9 2364.1,1720.8 2364.5,1720.6 2364.8,1720.3 2365.2,1719.8 2365.4,1719.6 2365.6,1719.7 2365.9,1720.1 2366.3,1720.5 2366.6,1720.8 2367.0,1720.9 2367.7,1720.9 2379.0,1720.8 2379.3,1720.8 2379.7,1720.8 2380.1,1720.7 2380.4,1720.6 2380.8,1720.3 2381.1,1719.8 2381.5,1718.5 2381.9,1716.2 2382.2,1714.3 2382.3,1714.2 2382.6,1715.3 2383.0,1717.8 2383.3,1719.4 2383.7,1720.2 2384.0,1720.5 2384.4,1720.7 2384.8,1720.7 2385.1,1720.8 2385.9,1720.9 2386.9,1720.9 2389.0,1721.0" fill="none" stroke="#f00" stroke-width="3" stroke-linejoin="round" />
<polyline points="1433.0,1798.5 1608.8,1798.4 1610.9,1798.4 1611.7,1798.3 1612.0,1798.3 1612.4,1798.2 1612.8,1798.1 1613.1,1797.9 1613.5,1797.4 1613.8,1796.6 1614.2,1795.5 1614.6,1794.2 1614.9,1793.7 1614.9,1793.7 1615.3,1794.3 1615.6,1795.5 1616.0,1796.7 1616.4,1797.4 1616.7,1797.9 1617.1,1798.1 1617.5,1798.2 1617.8,1798.3 1618.5,1798.4 1619.6,1798.4 1623.6,1798.5 1628.3,1798.4 1629.1,1798.3 1629.4,1798.2 1629.8,1798.0 1630.1,1797.7 1630.5,1797.2 1630.9,1796.7 1631.2,1796.5 1631.2,1796.5 1631.6,1796.7 1632.0,1797.3 1632.3,1797.7 1632.7,1798.0 1633.0,1798.2 1633.4,1798.3 1634.1,1798.4 1635.9,1798.4 1645.0,1798.4 1646.1,1798.3 1646.5,1798.2 1646.8,1798.2 1647.2,1798.0 1647.5,1797.7 1647.9,1797.0 1648.3,1796.1 1648.6,1794.8 1649.0,1793.8 1649.2,1793.7 1649.4,1793.9 1649.7,1794.9 1650.1,1796.1 1650.4,1797.1 1650.8,1797.7 1651.2,1798.0 1651.5,1798.2 1651.9,1798.3 1652.3,1798.3 1653.0,1798.4 1654.4,1798.4 1659.1,1798.5 1713.9,1798.4 1716.0,1798.4 1716.8,1798.3 1717.1,1798.2 1717.5,1798.1 1717.8,1797.8 1718.2,1797.4 1718.6,1796.9 1718.9,1796.5 1719.1,1796.4 1719.3,1796.5 1719.7,1796.9 1720.0,1797.4 1720.4,1797.8 1720.7,1798.1 1721.1,1798.2 1721.5,1798.2 1725.5,1798.2 1726.2,1798.1 1726.5,1798.0 1726.9,1798.0 1727.3,1797.9 1727.6,1797.8 1728.0,1797.6 1728.4,1797.4 1728.7,1797.0 1729.1,1796.5 1729.4,1795.3 1729.8,1793.0 1730.2,1789.1 1730.5,1783.4 1730.9,1777.5 1731.2,1774.7 1731.3,1774.7 1731.6,1777.8 1732.0,1783.8 1732.3,1789.4 1732.7,1793.2 1733.1,1795.4 1733.4,1796.5 1733.8,1797.0 1734.2,1797.4 1734.5,1797.6 1734.9,1797.7 1735.2,1797.8 1735.6,1797.9 1736.0,1798.0 1736.7,1798.1 1737.8,1798.1 1740.3,1798.0 1740.7,1798.0 1741.0,1797.9 1741.4,1797.8 1741.8,1797.7 1742.1,1797.5 1742.5,1797.2 1742.9,1796.5 1743.2,1795.2 1743.6,1792.9 1743.9,1789.7 1744.3,1786.2 1744.7,1784.6 1744.7,1784.6 1745.0,1786.4 1745.4,1789.8 1745.8,1793.1 1746.1,1795.3 1746.5,1796.5 1746.8,1797.1 1747.2,1797.4 1747.6,1797.6 1747.9,1797.7 1748.3,1797.7 1749.4,1797.7 1749.7,1797.7 1750.1,1797.6 1750.5,1797.4 1750.8,1797.2 1751.2,1796.7 1751.5,1795.8 1751.9,1794.0 1752.3,1790.9 1752.6,1786.5 1753.0,1781.8 1753.4,1779.7 1753.4,1779.7 1753.7,1782.0 1754.1,1786.8 1754.4,1791.2 1754.8,1794.2 1755.2,1795.9 1755.5,1796.8 1755.9,1797.3 1756.3,1797.5 1756.6,1797.7 1757.0,1797.8 1757.3,1797.9 1757.7,1797.9 1758.4,1798.0 1760.2,1797.9 1760.6,1797.8 1761.0,1797.7 1761.3,1797.5 1761.7,1797.2 1762.1,1796.5 1762.4,1795.2 1762.8,1793.0 1763.1,1789.7 1763.5,1786.3 1763.9,1784.7 1763.9,1784.7 1764.2,1786.5 1764.6,1789.9 1765.0,1793.2 1765.3,1795.4 1765.7,1796.6 1766.0,1797.3 1766.4,1797.6 1766.8,1797.8 1767.1,1797.9 1767.5,1798.0 1767.9,1798.1 1768.2,1798.1 1768.9,1798.2 1770.0,1798.3 1771.8,1798.4 1778.0,1798.3 1778.7,1798.2 1779.1,1798.2 1779.5,1798.1 1779.8,1798.0 1780.2,1797.8 1780.5,1797.3 1780.9,1796.4 1781.3,1795.1 1781.6,1793.3 1782.0,1792.0 1782.2,1791.8 1782.4,1792.0 1782.7,1793.4 1783.1,1795.2 1783.4,1796.5 1783.8,1797.3 1784.2,1797.8 1784.5,1798.0 1784.9,1798.1 1785.3,1798.2 1785.6,1798.3 1786.3,1798.3 1787.4,1798.4 1790.0,1798.4 1811.3,1798.4 1811.7,1798.3 1812.1,1798.1 1812.4,1797.9 1812.8,1797.5 1813.2,1797.0 1813.5,1796.6 1813.7,1796.5 1813.9,1796.6 1814.2,1797.0 1814.6,1797.5 1815.0,1797.9 1815.3,1798.2 1815.7,1798.3 1816.1,1798.4 1816.8,1798.4 1819.0,1798.5 1866.1,1798.4 1868.2,1798.4 1869.3,1798.3 1870.1,1798.3 1870.4,1798.2 1870.8,1798.2 1871.1,1798.1 1871.5,1798.0 1871.9,1797.9 1872.2,1797.7 1872.6,1797.2 1873.0,1796.4 1873.3,1794.9 1873.7,1792.5 1874.0,1789.5 1874.4,1787.1 1874.6,1786.8 1874.8,1787.2 1875.1,1789.7 1875.5,1792.7 1875.9,1795.0 1876.2,1796.5 1876.6,1797.3 1876.9,1797.6 1877.3,1797.8 1877.7,1798.0 1878.0,1798.0 1878.4,1798.1 1879.1,1798.2 1882.7,1798.1 1883.1,1798.0 1883.5,1797.9 1883.8,1797.8 1884.2,1797.6 1884.6,1797.3 1884.9,1796.6 1885.3,1795.3 1885.6,1793.0 1886.0,1789.8 1886.4,1786.3 1886.7,1784.8 1886.7,1784.8 1887.1,1786.5 1887.4,1790.0 1887.8,1793.2 1888.2,1795.4 1888.5,1796.7 1888.9,1797.3 1889.3,1797.7 1889.6,1797.8 1890.0,1798.0 1890.3,1798.1 1890.7,1798.1 1891.1,1798.2 1891.8,1798.2 1892.9,1798.3 1899.0,1798.2 1899.4,1798.2 1899.8,1798.1 1900.1,1798.0 1900.5,1797.8 1900.9,1797.3 1901.2,1796.4 1901.6,1795.1 1901.9,1793.3 1902.3,1792.0 1902.5,1791.8 1902.7,1792.0 1903.0,1793.4 1903.4,1795.2 1903.8,1796.5 1904.1,1797.3 1904.5,1797.8 1904.8,1798.0 1905.2,1798.1 1905.6,1798.2 1905.9,1798.3 1906.7,1798.3 1907.7,1798.4 1910.3,1798.4 1934.9,1798.4 1936.4,1798.3 1937.1,1798.3 1937.5,1798.2 1937.8,1798.2 1938.2,1798.1 1938.5,1798.0 1938.9,1797.9 1939.3,1797.7 1939.6,1797.3 1940.0,1796.4 1940.4,1794.9 1940.7,1792.5 1941.1,1789.5 1941.4,1787.1 1941.6,1786.8 1941.8,1787.2 1942.2,1789.7 1942.5,1792.7 1942.9,1795.1 1943.3,1796.5 1943.6,1797.3 1944.0,1797.7 1944.3,1797.9 1944.7,1798.0 1945.1,1798.1 1945.4,1798.1 1946.2,1798.2 1947.2,1798.3 1951.2,1798.2 1951.6,1798.2 1952.0,1798.1 1952.3,1798.0 1952.7,1797.9 1953.0,1797.6 1953.4,1797.0 1953.8,1795.8 1954.1,1794.1 1954.5,1791.8 1954.9,1790.0 1955.0,1789.8 1955.2,1790.1 1955.6,1792.0 1955.9,1794.2 1956.3,1795.9 1956.7,1797.0 1957.0,1797.6 1957.4,1797.9 1957.8,1798.0 1958.1,1798.1 1958.5,1798.2 1959.2,1798.3 1959.9,1798.3 1961.4,1798.4 1964.6,1798.4 2000.2,1798.4 2001.6,1798.3 2002.7,1798.3 2003.4,1798.2 2003.8,1798.1 2004.1,1798.1 2004.5,1797.9 2004.9,1797.8 2005.2,1797.5 2005.6,1797.1 2006.0,1796.1 2006.3,1794.4 2006.7,1791.6 2007.0,1788.0 2007.4,1785.2 2007.6,1784.8 2007.8,1785.3 2008.1,1788.2 2008.5,1791.7 2008.9,1794.5 2009.2,1796.2 2009.6,1797.1 2009.9,1797.6 2010.3,1797.8 2010.7,1798.0 2011.0,1798.1 2011.4,1798.1 2011.8,1798.2 2012.5,1798.3 2013.2,1798.3 2014.3,1798.4 2016.5,1798.4 2024.4,1798.5 2086.0,1798.4 2088.2,1798.4 2089.3,1798.3 2090.0,1798.2 2090.4,1798.2 2090.8,1798.1 2091.1,1797.9 2091.5,1797.6 2091.8,1796.9 2092.2,1795.8 2092.6,1794.2 2092.9,1792.5 2093.3,1791.7 2093.3,1791.7 2093.7,1792.6 2094.0,1794.3 2094.4,1795.8 2094.7,1796.9 2095.1,1797.5 2095.5,1797.8 2095.8,1798.0 2096.2,1798.0 2098.0,1798.0 2098.4,1797.9 2098.7,1797.8 2099.1,1797.6 2099.5,1797.2 2099.8,1796.3 2100.2,1794.9 2100.5,1792.8 2100.9,1790.6 2101.3,1789.6 2101.3,1789.6 2101.6,1790.7 2102.0,1792.8 2102.4,1794.8 2102.7,1796.1 2103.1,1796.6 2103.4,1796.6 2103.8,1795.9 2104.2,1794.7 2104.5,1793.0 2104.9,1791.7 2105.1,1791.5 2105.3,1791.8 2105.6,1793.3 2106.0,1795.0 2106.3,1796.4 2106.7,1797.2 2107.1,1797.7 2107.4,1797.9 2107.8,1798.1 2108.2,1798.1 2108.5,1798.2 2109.2,1798.3 2110.3,1798.3 2112.1,1798.4 2116.8,1798.5 2154.9,1798.4 2156.7,1798.3 2157.8,1798.3 2158.5,1798.2 2159.2,1798.1 2159.6,1798.1 2160.0,1798.0 2160.3,1797.9 2160.7,1797.7 2161.1,1797.5 2161.4,1797.2 2161.8,1796.5 2162.1,1795.3 2162.5,1792.8 2162.9,1789.0 2163.2,1784.2 2163.6,1780.3 2163.8,1779.8 2164.0,1780.5 2164.3,1784.5 2164.7,1789.3 2165.0,1793.0 2165.4,1795.4 2165.8,1796.6 2166.1,1797.2 2166.5,1797.6 2166.9,1797.8 2167.2,1797.9 2167.6,1798.0 2167.9,1798.1 2168.3,1798.1 2169.0,1798.2 2169.8,1798.3 2170.8,1798.3 2172.7,1798.4 2176.6,1798.5 2226.3,1798.4 2227.4,1798.3 2228.1,1798.3 2228.5,1798.2 2228.8,1798.1 2229.2,1798.0 2229.6,1797.7 2229.9,1797.1 2230.3,1796.0 2230.6,1794.6 2231.0,1793.0 2231.4,1792.3 2231.4,1792.3 2231.7,1793.1 2232.1,1794.7 2232.5,1796.1 2232.8,1797.1 2233.2,1797.7 2233.5,1798.0 2233.9,1798.1 2234.3,1798.2 2234.6,1798.3 2235.4,1798.3 2236.4,1798.4 2239.0,1798.5 2273.8,1798.4 2274.9,1798.3 2275.2,1798.3 2275.6,1798.2 2275.9,1798.1 2276.3,1797.9 2276.7,1797.5 2277.0,1797.1 2277.4,1796.7 2277.6,1796.7 2277.8,1796.7 2278.1,1797.1 2278.5,1797.5 2278.8,1797.8 2279.2,1798.0 2279.6,1798.1 2281.0,1798.1 2281.4,1798.0 2281.7,1797.9 2282.1,1797.7 2282.5,1797.2 2282.8,1796.4 2283.2,1794.9 2283.6,1792.9 2283.9,1790.7 2284.3,1789.7 2284.3,1789.7 2284.6,1790.8 2285.0,1793.0 2285.4,1795.0 2285.7,1796.4 2286.1,1797.1 2286.5,1797.5 2286.8,1797.7 2287.2,1797.7 2287.5,1797.7 2287.9,1797.7 2288.3,1797.6 2288.6,1797.3 2289.0,1796.8 2289.4,1795.7 2289.7,1793.8 2290.1,1791.0 2290.4,1788.2 2290.8,1786.8 2290.8,1786.8 2291.2,1788.3 2291.5,1791.2 2291.9,1793.9 2292.3,1795.8 2292.6,1796.8 2293.0,1797.3 2293.3,1797.6 2293.7,1797.7 2294.1,1797.8 2294.8,1797.7 2295.1,1797.6 2295.5,1797.4 2295.9,1796.8 2296.2,1795.7 2296.6,1793.9 2297.0,1791.7 2297.3,1789.9 2297.5,1789.7 2297.7,1790.0 2298.0,1791.9 2298.4,1794.1 2298.8,1795.9 2299.1,1797.0 2299.5,1797.5 2299.9,1797.8 2300.2,1798.0 2300.6,1798.1 2300.9,1798.2 2301.3,1798.2 2302.0,1798.3 2303.1,1798.3 2304.9,1798.4 2309.3,1798.5 2389.0,1798.5" fill="none" stroke="#00f" stroke-width="3" stroke-linejoin="round" />
</g>
<g filter="url(#bin)">
<text x="1615.10" y="1504.00" font-size="67" fill="#0000ff" stroke="#0000ff" stroke-width="1" stroke-linejoin="miter">*</text>
<text x="1942.30" y="1515.60" font-size="67" fill="#0000ff" stroke="#0000ff" stroke-width="1" stroke-linejoin="miter">*</text>
<text x="2149.30" y="1510.60" font-size="67" fill="#0000ff" stroke="#0000ff" stroke-width="1" stroke-linejoin="miter">*</text>
<text transform="translate(1717.72,1759.7) scale(1.0252,1.04)" font-size="37.7" fill="#ff0000">Nb<tspan dy="9.6" font-size="25.5">10.7</tspan><tspan dy="-9.6">V</tspan><tspan dy="9.6" font-size="25.5">2.38</tspan><tspan dy="-9.6">O</tspan><tspan dy="9.6" font-size="25.5">32.7</tspan><tspan dy="-9.6"> ICDD No. 04-017-0387</tspan></text>
<text transform="translate(1870.94,1837.7) scale(1.0215,1.04)" font-size="37.7" fill="#0000ff">Nb<tspan dy="9.6" font-size="25.5">2</tspan><tspan dy="-9.6">O</tspan><tspan dy="9.6" font-size="25.5">5</tspan><tspan dy="-9.6"> ICDD No. 00-030-0872</tspan></text>
</g>
<g shape-rendering="crispEdges">
<rect x="1409" y="1088" width="4" height="794" fill="#000"/>
<rect x="2387" y="1088" width="4" height="794" fill="#000"/>
<rect x="1409" y="1878" width="982" height="4" fill="#000"/>
<rect x="1481" y="1882" width="4" height="14" fill="#000"/>
<rect x="1572" y="1882" width="4" height="7" fill="#000"/>
<rect x="1662" y="1882" width="4" height="14" fill="#000"/>
<rect x="1753" y="1882" width="4" height="7" fill="#000"/>
<rect x="1843" y="1882" width="4" height="14" fill="#000"/>
<rect x="1934" y="1882" width="4" height="7" fill="#000"/>
<rect x="2025" y="1882" width="4" height="14" fill="#000"/>
<rect x="2115" y="1882" width="4" height="7" fill="#000"/>
<rect x="2206" y="1882" width="4" height="14" fill="#000"/>
<rect x="2296" y="1882" width="4" height="7" fill="#000"/>
<rect x="2387" y="1882" width="4" height="14" fill="#000"/>
<rect x="1410" y="1842" width="3" height="5" fill="#fff"/>
</g>
<g filter="url(#bin)">
<text transform="translate(1483.0,1949.3) scale(0.985,1.005)" font-size="56" text-anchor="middle">10</text>
<text transform="translate(1664.2,1949.3) scale(0.985,1.005)" font-size="56" text-anchor="middle">20</text>
<text transform="translate(1845.4,1949.3) scale(0.985,1.005)" font-size="56" text-anchor="middle">30</text>
<text transform="translate(2026.6,1949.3) scale(0.985,1.005)" font-size="56" text-anchor="middle">40</text>
<text transform="translate(2207.8,1949.3) scale(0.985,1.005)" font-size="56" text-anchor="middle">50</text>
<text transform="translate(2389.0,1949.3) scale(0.985,1.005)" font-size="56" text-anchor="middle">60</text>
<text transform="translate(1857.91,2022.9) scale(1.0295,1.02)" font-size="57">2θ, <tspan dy="-18.2" font-size="39">o</tspan></text>
<text transform="translate(1359.5,1616.37) rotate(-90) scale(1.0145,1.045)" font-size="57">Intensity, a.u.</text>
<text transform="translate(1946.42,1130) scale(0.994,1.05)" font-size="62" font-weight="bold">NbVO<tspan dy="14" font-size="38">x</tspan><tspan dy="-14">-CC21</tspan></text>
</g>
</svg>
</body></html>
